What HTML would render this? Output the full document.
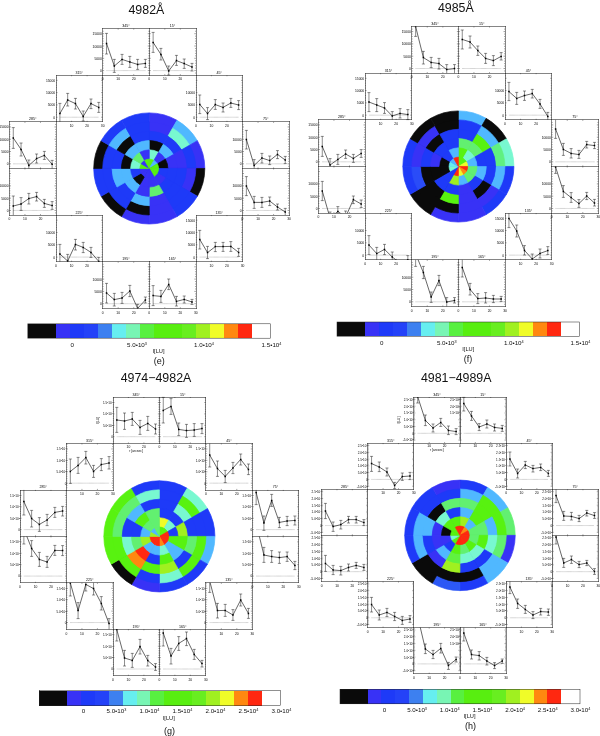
<!DOCTYPE html>
<html lang="en"><head><meta charset="utf-8"><title>Figure</title>
<style>
html,body{margin:0;padding:0;background:#fff}
body{width:600px;height:736px;overflow:hidden}
svg{display:block}
text{font-family:"Liberation Sans",sans-serif;fill:#111}
.bx{fill:none;stroke:#333;stroke-width:.6;stroke-linecap:square}
.tk{fill:none;stroke:#222;stroke-width:.45}
.zl{fill:none;stroke:#666;stroke-width:.45;stroke-dasharray:.6 .5}
.eb{fill:none;stroke:#111;stroke-width:.48}
.ln{fill:none;stroke:#000;stroke-width:.6;stroke-linejoin:round}
.mk{fill:#000}
.cbx{fill:none;stroke:#222;stroke-width:.5}
.ti{font-size:12.4px;text-anchor:middle}
.tg{font-size:9px;text-anchor:middle}
.bt{font-size:3.6px;text-anchor:middle;fill:#000}
.yl{font-size:3.3px;text-anchor:end;fill:#000}
.y2{font-size:3.05px}
.xl{font-size:3.3px;text-anchor:middle;fill:#000}
.cl{font-size:6.2px;text-anchor:middle}
.cu{font-size:5.7px;text-anchor:middle}
</style></head><body>
<svg width="600" height="736" viewBox="0 0 600 736">
<rect width="600" height="736" fill="#fff"/>
<g id="panel-e">
<g stroke-width="0.7" stroke-linejoin="round">
<path d="M149.26 168.46L149.26 112.91A55.55 55.55 0 0 1 177.03 120.35Z" fill="#3832f6" stroke="#3832f6"/>
<path d="M149.26 168.46L177.03 120.35A55.55 55.55 0 0 1 197.37 140.68Z" fill="#50b8ff" stroke="#50b8ff"/>
<path d="M149.26 168.46L197.37 140.68A55.55 55.55 0 0 1 204.81 168.46Z" fill="#3832f6" stroke="#3832f6"/>
<path d="M149.26 168.46L204.81 168.46A55.55 55.55 0 0 1 197.37 196.23Z" fill="#0a0a0a" stroke="#0a0a0a"/>
<path d="M149.26 168.46L197.37 196.23A55.55 55.55 0 0 1 177.03 216.57Z" fill="#1e3af8" stroke="#1e3af8"/>
<path d="M149.26 168.46L177.03 216.57A55.55 55.55 0 0 1 149.26 224.01Z" fill="#3832f6" stroke="#3832f6"/>
<path d="M149.26 168.46L149.26 224.01A55.55 55.55 0 0 1 121.48 216.57Z" fill="#3832f6" stroke="#3832f6"/>
<path d="M149.26 168.46L121.48 216.57A55.55 55.55 0 0 1 101.15 196.24Z" fill="#0a0a0a" stroke="#0a0a0a"/>
<path d="M149.26 168.46L101.15 196.24A55.55 55.55 0 0 1 93.71 168.46Z" fill="#1e3af8" stroke="#1e3af8"/>
<path d="M149.26 168.46L93.71 168.46A55.55 55.55 0 0 1 101.15 140.68Z" fill="#0a0a0a" stroke="#0a0a0a"/>
<path d="M149.26 168.46L101.15 140.68A55.55 55.55 0 0 1 121.48 120.35Z" fill="#1e3af8" stroke="#1e3af8"/>
<path d="M149.26 168.46L121.48 120.35A55.55 55.55 0 0 1 149.26 112.91Z" fill="#1e3af8" stroke="#1e3af8"/>
<path d="M149.26 168.46L149.26 121.92A46.54 46.54 0 0 1 172.53 128.15Z" fill="#3832f6" stroke="#3832f6"/>
<path d="M149.26 168.46L172.53 128.15A46.54 46.54 0 0 1 189.57 145.19Z" fill="#78f8d0" stroke="#78f8d0"/>
<path d="M149.26 168.46L189.57 145.19A46.54 46.54 0 0 1 195.8 168.46Z" fill="#1e3af8" stroke="#1e3af8"/>
<path d="M149.26 168.46L195.8 168.46A46.54 46.54 0 0 1 189.57 191.73Z" fill="#3832f6" stroke="#3832f6"/>
<path d="M149.26 168.46L189.57 191.73A46.54 46.54 0 0 1 172.53 208.77Z" fill="#1e3af8" stroke="#1e3af8"/>
<path d="M149.26 168.46L172.53 208.77A46.54 46.54 0 0 1 149.26 215Z" fill="#3832f6" stroke="#3832f6"/>
<path d="M149.26 168.46L149.26 215A46.54 46.54 0 0 1 125.99 208.77Z" fill="#0a0a0a" stroke="#0a0a0a"/>
<path d="M149.26 168.46L125.99 208.77A46.54 46.54 0 0 1 108.95 191.73Z" fill="#1e3af8" stroke="#1e3af8"/>
<path d="M149.26 168.46L108.95 191.73A46.54 46.54 0 0 1 102.72 168.46Z" fill="#1e3af8" stroke="#1e3af8"/>
<path d="M149.26 168.46L102.72 168.46A46.54 46.54 0 0 1 108.95 145.19Z" fill="#1e3af8" stroke="#1e3af8"/>
<path d="M149.26 168.46L108.95 145.19A46.54 46.54 0 0 1 125.99 128.15Z" fill="#50b8ff" stroke="#50b8ff"/>
<path d="M149.26 168.46L125.99 128.15A46.54 46.54 0 0 1 149.26 121.92Z" fill="#1e3af8" stroke="#1e3af8"/>
<path d="M149.26 168.46L149.26 131.23A37.23 37.23 0 0 1 167.88 136.21Z" fill="#1e3af8" stroke="#1e3af8"/>
<path d="M149.26 168.46L167.88 136.21A37.23 37.23 0 0 1 181.51 149.84Z" fill="#1e3af8" stroke="#1e3af8"/>
<path d="M149.26 168.46L181.51 149.84A37.23 37.23 0 0 1 186.49 168.46Z" fill="#3832f6" stroke="#3832f6"/>
<path d="M149.26 168.46L186.49 168.46A37.23 37.23 0 0 1 181.51 187.08Z" fill="#1e3af8" stroke="#1e3af8"/>
<path d="M149.26 168.46L181.51 187.08A37.23 37.23 0 0 1 167.88 200.71Z" fill="#1e3af8" stroke="#1e3af8"/>
<path d="M149.26 168.46L167.88 200.71A37.23 37.23 0 0 1 149.26 205.69Z" fill="#3832f6" stroke="#3832f6"/>
<path d="M149.26 168.46L149.26 205.69A37.23 37.23 0 0 1 130.64 200.71Z" fill="#50b8ff" stroke="#50b8ff"/>
<path d="M149.26 168.46L130.64 200.71A37.23 37.23 0 0 1 117.01 187.08Z" fill="#1e3af8" stroke="#1e3af8"/>
<path d="M149.26 168.46L117.01 187.08A37.23 37.23 0 0 1 112.03 168.46Z" fill="#50b8ff" stroke="#50b8ff"/>
<path d="M149.26 168.46L112.03 168.46A37.23 37.23 0 0 1 117.01 149.84Z" fill="#1e3af8" stroke="#1e3af8"/>
<path d="M149.26 168.46L117.01 149.84A37.23 37.23 0 0 1 130.64 136.21Z" fill="#0a0a0a" stroke="#0a0a0a"/>
<path d="M149.26 168.46L130.64 136.21A37.23 37.23 0 0 1 149.26 131.23Z" fill="#1e3af8" stroke="#1e3af8"/>
<path d="M149.26 168.46L149.26 140.53A27.93 27.93 0 0 1 163.22 144.28Z" fill="#0a0a0a" stroke="#0a0a0a"/>
<path d="M149.26 168.46L163.22 144.28A27.93 27.93 0 0 1 173.44 154.5Z" fill="#50b8ff" stroke="#50b8ff"/>
<path d="M149.26 168.46L173.44 154.5A27.93 27.93 0 0 1 177.19 168.46Z" fill="#3832f6" stroke="#3832f6"/>
<path d="M149.26 168.46L177.19 168.46A27.93 27.93 0 0 1 173.44 182.42Z" fill="#1e3af8" stroke="#1e3af8"/>
<path d="M149.26 168.46L173.44 182.42A27.93 27.93 0 0 1 163.22 192.64Z" fill="#1e3af8" stroke="#1e3af8"/>
<path d="M149.26 168.46L163.22 192.64A27.93 27.93 0 0 1 149.26 196.38Z" fill="#62f070" stroke="#62f070"/>
<path d="M149.26 168.46L149.26 196.38A27.93 27.93 0 0 1 135.3 192.64Z" fill="#3832f6" stroke="#3832f6"/>
<path d="M149.26 168.46L135.3 192.64A27.93 27.93 0 0 1 125.08 182.42Z" fill="#50b8ff" stroke="#50b8ff"/>
<path d="M149.26 168.46L125.08 182.42A27.93 27.93 0 0 1 121.33 168.46Z" fill="#50b8ff" stroke="#50b8ff"/>
<path d="M149.26 168.46L121.33 168.46A27.93 27.93 0 0 1 125.08 154.5Z" fill="#0a0a0a" stroke="#0a0a0a"/>
<path d="M149.26 168.46L125.08 154.5A27.93 27.93 0 0 1 135.3 144.28Z" fill="#50b8ff" stroke="#50b8ff"/>
<path d="M149.26 168.46L135.3 144.28A27.93 27.93 0 0 1 149.26 140.53Z" fill="#50b8ff" stroke="#50b8ff"/>
<path d="M149.26 168.46L149.26 149.84A18.62 18.62 0 0 1 158.57 152.34Z" fill="#78f8d0" stroke="#78f8d0"/>
<path d="M149.26 168.46L158.57 152.34A18.62 18.62 0 0 1 165.38 159.15Z" fill="#3832f6" stroke="#3832f6"/>
<path d="M149.26 168.46L165.38 159.15A18.62 18.62 0 0 1 167.88 168.46Z" fill="#0a0a0a" stroke="#0a0a0a"/>
<path d="M149.26 168.46L167.88 168.46A18.62 18.62 0 0 1 165.38 177.77Z" fill="#1e3af8" stroke="#1e3af8"/>
<path d="M149.26 168.46L165.38 177.77A18.62 18.62 0 0 1 158.57 184.58Z" fill="#3832f6" stroke="#3832f6"/>
<path d="M149.26 168.46L158.57 184.58A18.62 18.62 0 0 1 149.26 187.08Z" fill="#3832f6" stroke="#3832f6"/>
<path d="M149.26 168.46L149.26 187.08A18.62 18.62 0 0 1 139.95 184.58Z" fill="#3832f6" stroke="#3832f6"/>
<path d="M149.26 168.46L139.95 184.58A18.62 18.62 0 0 1 133.14 177.77Z" fill="#0a0a0a" stroke="#0a0a0a"/>
<path d="M149.26 168.46L133.14 177.77A18.62 18.62 0 0 1 130.64 168.46Z" fill="#1e3af8" stroke="#1e3af8"/>
<path d="M149.26 168.46L130.64 168.46A18.62 18.62 0 0 1 133.14 159.15Z" fill="#78f8d0" stroke="#78f8d0"/>
<path d="M149.26 168.46L133.14 159.15A18.62 18.62 0 0 1 139.95 152.34Z" fill="#62f070" stroke="#62f070"/>
<path d="M149.26 168.46L139.95 152.34A18.62 18.62 0 0 1 149.26 149.84Z" fill="#3832f6" stroke="#3832f6"/>
<path d="M149.26 168.46L149.26 159.15A9.31 9.31 0 0 1 153.91 160.4Z" fill="#58f210" stroke="#58f210"/>
<path d="M149.26 168.46L153.91 160.4A9.31 9.31 0 0 1 157.32 163.81Z" fill="#50b8ff" stroke="#50b8ff"/>
<path d="M149.26 168.46L157.32 163.81A9.31 9.31 0 0 1 158.57 168.46Z" fill="#58f210" stroke="#58f210"/>
<path d="M149.26 168.46L158.57 168.46A9.31 9.31 0 0 1 157.32 173.11Z" fill="#58f210" stroke="#58f210"/>
<path d="M149.26 168.46L157.32 173.11A9.31 9.31 0 0 1 153.91 176.52Z" fill="#58f210" stroke="#58f210"/>
<path d="M149.26 168.46L153.91 176.52A9.31 9.31 0 0 1 149.26 177.77Z" fill="#3832f6" stroke="#3832f6"/>
<path d="M149.26 168.46L149.26 177.77A9.31 9.31 0 0 1 144.61 176.52Z" fill="#3832f6" stroke="#3832f6"/>
<path d="M149.26 168.46L144.61 176.52A9.31 9.31 0 0 1 141.2 173.11Z" fill="#3832f6" stroke="#3832f6"/>
<path d="M149.26 168.46L141.2 173.11A9.31 9.31 0 0 1 139.95 168.46Z" fill="#3832f6" stroke="#3832f6"/>
<path d="M149.26 168.46L139.95 168.46A9.31 9.31 0 0 1 141.2 163.81Z" fill="#58f210" stroke="#58f210"/>
<path d="M149.26 168.46L141.2 163.81A9.31 9.31 0 0 1 144.61 160.4Z" fill="#3832f6" stroke="#3832f6"/>
<path d="M149.26 168.46L144.61 160.4A9.31 9.31 0 0 1 149.26 159.15Z" fill="#58f210" stroke="#58f210"/>
</g>
<path d="M102.5 215.5L102.5 261.5M102.5 261.5L102.5 308.5M102.5 261.5L149.5 261.5M102.5 28.5L102.5 75.5M102.5 28.5L149.5 28.5M102.5 308.5L149.5 308.5M102.5 75.5L102.5 121.5M102.5 75.5L149.5 75.5M149.5 261.5L149.5 308.5M149.5 261.5L196.5 261.5M149.5 28.5L149.5 75.5M149.5 28.5L196.5 28.5M149.5 308.5L196.5 308.5M149.5 75.5L196.5 75.5M196.5 121.5L242.5 121.5M196.5 215.5L196.5 261.5M196.5 215.5L242.5 215.5M196.5 261.5L196.5 308.5M196.5 261.5L242.5 261.5M196.5 28.5L196.5 75.5M196.5 75.5L196.5 121.5M196.5 75.5L242.5 75.5M242.5 121.5L242.5 168.5M242.5 121.5L289.5 121.5M242.5 168.5L242.5 215.5M242.5 168.5L289.5 168.5M242.5 215.5L242.5 261.5M242.5 215.5L289.5 215.5M242.5 75.5L242.5 121.5M289.5 121.5L289.5 168.5M289.5 168.5L289.5 215.5M56.5 121.5L102.5 121.5M56.5 121.5L56.5 168.5M56.5 168.5L56.5 215.5M56.5 215.5L102.5 215.5M56.5 215.5L56.5 261.5M56.5 261.5L102.5 261.5M56.5 75.5L102.5 75.5M56.5 75.5L56.5 121.5M9.5 121.5L56.5 121.5M9.5 121.5L9.5 168.5M9.5 168.5L56.5 168.5M9.5 168.5L9.5 215.5M9.5 215.5L56.5 215.5" class="bx"/>
<path d="M118.18 75.22v-1.0M118.18 28.6v1.0M133.72 75.22v-1.0M133.72 28.6v1.0M102.64 73.06h0.9M149.26 73.06h-0.9M102.64 70.6h1.5M149.26 70.6h-1.5M102.64 68.14h0.9M149.26 68.14h-0.9M102.64 65.68h0.9M149.26 65.68h-0.9M102.64 63.22h0.9M149.26 63.22h-0.9M102.64 60.76h0.9M149.26 60.76h-0.9M102.64 58.3h1.5M149.26 58.3h-1.5M102.64 55.84h0.9M149.26 55.84h-0.9M102.64 53.38h0.9M149.26 53.38h-0.9M102.64 50.92h0.9M149.26 50.92h-0.9M102.64 48.46h0.9M149.26 48.46h-0.9M102.64 46h1.5M149.26 46h-1.5M102.64 43.54h0.9M149.26 43.54h-0.9M102.64 41.08h0.9M149.26 41.08h-0.9M102.64 38.62h0.9M149.26 38.62h-0.9M102.64 36.16h0.9M149.26 36.16h-0.9M102.64 33.7h1.5M149.26 33.7h-1.5M102.64 31.24h0.9M149.26 31.24h-0.9" class="tk"/>
<path d="M106.53 70.6H145.38" class="zl"/>
<path d="M106.53 33.4V54M105.03 33.4h3M105.03 54h3M114.3 59.4V72.4M112.8 59.4h3M112.8 72.4h3M122.06 54.4V64.4M120.56 54.4h3M120.56 64.4h3M129.84 56.4V67.4M128.34 56.4h3M128.34 67.4h3M137.61 59.4V69.4M136.11 59.4h3M136.11 69.4h3M145.38 59.4V67.4M143.88 59.4h3M143.88 67.4h3" class="eb"/>
<clipPath id="ce345"><rect x="102.64" y="28.6" width="46.62" height="46.62"/></clipPath>
<g clip-path="url(#ce345)"><path d="M106.53 43.4L114.3 66L122.06 59.4L129.84 62L137.61 64.4L145.38 63.4" class="ln"/>
<path d="M105.78 42.65h1.5v1.5h-1.5zM113.55 65.25h1.5v1.5h-1.5zM121.31 58.65h1.5v1.5h-1.5zM129.09 61.25h1.5v1.5h-1.5zM136.86 63.65h1.5v1.5h-1.5zM144.62 62.65h1.5v1.5h-1.5z" class="mk"/></g>
<path d="M164.8 75.22v-1.0M164.8 28.6v1.0M180.34 75.22v-1.0M180.34 28.6v1.0M149.26 73.06h0.9M195.88 73.06h-0.9M149.26 70.6h1.5M195.88 70.6h-1.5M149.26 68.14h0.9M195.88 68.14h-0.9M149.26 65.68h0.9M195.88 65.68h-0.9M149.26 63.22h0.9M195.88 63.22h-0.9M149.26 60.76h0.9M195.88 60.76h-0.9M149.26 58.3h1.5M195.88 58.3h-1.5M149.26 55.84h0.9M195.88 55.84h-0.9M149.26 53.38h0.9M195.88 53.38h-0.9M149.26 50.92h0.9M195.88 50.92h-0.9M149.26 48.46h0.9M195.88 48.46h-0.9M149.26 46h1.5M195.88 46h-1.5M149.26 43.54h0.9M195.88 43.54h-0.9M149.26 41.08h0.9M195.88 41.08h-0.9M149.26 38.62h0.9M195.88 38.62h-0.9M149.26 36.16h0.9M195.88 36.16h-0.9M149.26 33.7h1.5M195.88 33.7h-1.5M149.26 31.24h0.9M195.88 31.24h-0.9" class="tk"/>
<path d="M153.14 70.6H192" class="zl"/>
<path d="M153.14 32.4V52.4M151.64 32.4h3M151.64 52.4h3M160.91 48.4V60M159.41 48.4h3M159.41 60h3M168.69 66V75M167.19 66h3M167.19 75h3M176.45 55.4V65.4M174.95 55.4h3M174.95 65.4h3M184.22 59V68.4M182.72 59h3M182.72 68.4h3M192 63.4V71M190.5 63.4h3M190.5 71h3" class="eb"/>
<clipPath id="ce15"><rect x="149.26" y="28.6" width="46.62" height="46.62"/></clipPath>
<g clip-path="url(#ce15)"><path d="M153.14 42.4L160.91 54.4L168.69 71L176.45 60.6L184.22 63.6L192 67" class="ln"/>
<path d="M152.39 41.65h1.5v1.5h-1.5zM160.16 53.65h1.5v1.5h-1.5zM167.94 70.25h1.5v1.5h-1.5zM175.7 59.85h1.5v1.5h-1.5zM183.47 62.85h1.5v1.5h-1.5zM191.25 66.25h1.5v1.5h-1.5z" class="mk"/></g>
<path d="M71.56 121.84v-1.0M71.56 75.22v1.0M87.1 121.84v-1.0M87.1 75.22v1.0M56.02 119.68h0.9M102.64 119.68h-0.9M56.02 117.22h1.5M102.64 117.22h-1.5M56.02 114.76h0.9M102.64 114.76h-0.9M56.02 112.3h0.9M102.64 112.3h-0.9M56.02 109.84h0.9M102.64 109.84h-0.9M56.02 107.38h0.9M102.64 107.38h-0.9M56.02 104.92h1.5M102.64 104.92h-1.5M56.02 102.46h0.9M102.64 102.46h-0.9M56.02 100h0.9M102.64 100h-0.9M56.02 97.54h0.9M102.64 97.54h-0.9M56.02 95.08h0.9M102.64 95.08h-0.9M56.02 92.62h1.5M102.64 92.62h-1.5M56.02 90.16h0.9M102.64 90.16h-0.9M56.02 87.7h0.9M102.64 87.7h-0.9M56.02 85.24h0.9M102.64 85.24h-0.9M56.02 82.78h0.9M102.64 82.78h-0.9M56.02 80.32h1.5M102.64 80.32h-1.5M56.02 77.86h0.9M102.64 77.86h-0.9" class="tk"/>
<path d="M59.9 117.22H98.75" class="zl"/>
<path d="M59.9 103.4V121.84M58.4 103.4h3M67.67 93.4V106M66.17 93.4h3M66.17 106h3M75.44 98.4V109M73.94 98.4h3M73.94 109h3M83.21 111V121M81.71 111h3M81.71 121h3M90.98 99V108.6M89.48 99h3M89.48 108.6h3M98.75 102.4V112.4M97.25 102.4h3M97.25 112.4h3" class="eb"/>
<clipPath id="ce315"><rect x="56.02" y="75.22" width="46.62" height="46.62"/></clipPath>
<g clip-path="url(#ce315)"><path d="M59.9 113.6L67.67 100L75.44 103.6L83.21 116.4L90.98 103.6L98.75 107.4" class="ln"/>
<path d="M59.15 112.85h1.5v1.5h-1.5zM66.92 99.25h1.5v1.5h-1.5zM74.69 102.85h1.5v1.5h-1.5zM82.46 115.65h1.5v1.5h-1.5zM90.23 102.85h1.5v1.5h-1.5zM98 106.65h1.5v1.5h-1.5z" class="mk"/></g>
<path d="M211.42 121.84v-1.0M211.42 75.22v1.0M226.96 121.84v-1.0M226.96 75.22v1.0M195.88 119.68h0.9M242.5 119.68h-0.9M195.88 117.22h1.5M242.5 117.22h-1.5M195.88 114.76h0.9M242.5 114.76h-0.9M195.88 112.3h0.9M242.5 112.3h-0.9M195.88 109.84h0.9M242.5 109.84h-0.9M195.88 107.38h0.9M242.5 107.38h-0.9M195.88 104.92h1.5M242.5 104.92h-1.5M195.88 102.46h0.9M242.5 102.46h-0.9M195.88 100h0.9M242.5 100h-0.9M195.88 97.54h0.9M242.5 97.54h-0.9M195.88 95.08h0.9M242.5 95.08h-0.9M195.88 92.62h1.5M242.5 92.62h-1.5M195.88 90.16h0.9M242.5 90.16h-0.9M195.88 87.7h0.9M242.5 87.7h-0.9M195.88 85.24h0.9M242.5 85.24h-0.9M195.88 82.78h0.9M242.5 82.78h-0.9M195.88 80.32h1.5M242.5 80.32h-1.5M195.88 77.86h0.9M242.5 77.86h-0.9" class="tk"/>
<path d="M199.76 117.22H238.62" class="zl"/>
<path d="M199.76 95V113.6M198.26 95h3M198.26 113.6h3M207.53 107.6V119.6M206.03 107.6h3M206.03 119.6h3M215.31 99.6V109.4M213.81 99.6h3M213.81 109.4h3M223.07 103V112M221.57 103h3M221.57 112h3M230.84 98.4V107.4M229.34 98.4h3M229.34 107.4h3M238.62 100.6V109.6M237.12 100.6h3M237.12 109.6h3" class="eb"/>
<clipPath id="ce45"><rect x="195.88" y="75.22" width="46.62" height="46.62"/></clipPath>
<g clip-path="url(#ce45)"><path d="M199.76 104.4L207.53 113.6L215.31 104.6L223.07 107.4L230.84 103L238.62 105" class="ln"/>
<path d="M199.01 103.65h1.5v1.5h-1.5zM206.78 112.85h1.5v1.5h-1.5zM214.56 103.85h1.5v1.5h-1.5zM222.32 106.65h1.5v1.5h-1.5zM230.09 102.25h1.5v1.5h-1.5zM237.87 104.25h1.5v1.5h-1.5z" class="mk"/></g>
<path d="M24.94 168.46v-1.0M24.94 121.84v1.0M40.48 168.46v-1.0M40.48 121.84v1.0M9.4 166.3h0.9M56.02 166.3h-0.9M9.4 163.84h1.5M56.02 163.84h-1.5M9.4 161.38h0.9M56.02 161.38h-0.9M9.4 158.92h0.9M56.02 158.92h-0.9M9.4 156.46h0.9M56.02 156.46h-0.9M9.4 154h0.9M56.02 154h-0.9M9.4 151.54h1.5M56.02 151.54h-1.5M9.4 149.08h0.9M56.02 149.08h-0.9M9.4 146.62h0.9M56.02 146.62h-0.9M9.4 144.16h0.9M56.02 144.16h-0.9M9.4 141.7h0.9M56.02 141.7h-0.9M9.4 139.24h1.5M56.02 139.24h-1.5M9.4 136.78h0.9M56.02 136.78h-0.9M9.4 134.32h0.9M56.02 134.32h-0.9M9.4 131.86h0.9M56.02 131.86h-0.9M9.4 129.4h0.9M56.02 129.4h-0.9M9.4 126.94h1.5M56.02 126.94h-1.5M9.4 124.48h0.9M56.02 124.48h-0.9" class="tk"/>
<path d="M13.29 163.84H52.13" class="zl"/>
<path d="M13.29 127.6V148.4M11.79 127.6h3M11.79 148.4h3M21.05 143V156M19.55 143h3M19.55 156h3M28.83 160V168.46M27.33 160h3M36.59 154V163M35.09 154h3M35.09 163h3M44.37 151.4V159.4M42.87 151.4h3M42.87 159.4h3M52.13 160.4V168.46M50.63 160.4h3" class="eb"/>
<clipPath id="ce285"><rect x="9.4" y="121.84" width="46.62" height="46.62"/></clipPath>
<g clip-path="url(#ce285)"><path d="M13.29 138L21.05 149.4L28.83 165.4L36.59 158.6L44.37 155.4L52.13 164.2" class="ln"/>
<path d="M12.54 137.25h1.5v1.5h-1.5zM20.3 148.65h1.5v1.5h-1.5zM28.08 164.65h1.5v1.5h-1.5zM35.84 157.85h1.5v1.5h-1.5zM43.62 154.65h1.5v1.5h-1.5zM51.38 163.45h1.5v1.5h-1.5z" class="mk"/></g>
<path d="M258.04 168.46v-1.0M258.04 121.84v1.0M273.58 168.46v-1.0M273.58 121.84v1.0M242.5 166.3h0.9M289.12 166.3h-0.9M242.5 163.84h1.5M289.12 163.84h-1.5M242.5 161.38h0.9M289.12 161.38h-0.9M242.5 158.92h0.9M289.12 158.92h-0.9M242.5 156.46h0.9M289.12 156.46h-0.9M242.5 154h0.9M289.12 154h-0.9M242.5 151.54h1.5M289.12 151.54h-1.5M242.5 149.08h0.9M289.12 149.08h-0.9M242.5 146.62h0.9M289.12 146.62h-0.9M242.5 144.16h0.9M289.12 144.16h-0.9M242.5 141.7h0.9M289.12 141.7h-0.9M242.5 139.24h1.5M289.12 139.24h-1.5M242.5 136.78h0.9M289.12 136.78h-0.9M242.5 134.32h0.9M289.12 134.32h-0.9M242.5 131.86h0.9M289.12 131.86h-0.9M242.5 129.4h0.9M289.12 129.4h-0.9M242.5 126.94h1.5M289.12 126.94h-1.5M242.5 124.48h0.9M289.12 124.48h-0.9" class="tk"/>
<path d="M246.38 163.84H285.24" class="zl"/>
<path d="M246.38 130.4V149M244.88 130.4h3M244.88 149h3M254.16 159.6V168.46M252.66 159.6h3M261.93 153.4V163M260.43 153.4h3M260.43 163h3M269.69 156V164.6M268.19 156h3M268.19 164.6h3M277.47 150.6V158.6M275.97 150.6h3M275.97 158.6h3M285.24 156.4V163.6M283.74 156.4h3M283.74 163.6h3" class="eb"/>
<clipPath id="ce75"><rect x="242.5" y="121.84" width="46.62" height="46.62"/></clipPath>
<g clip-path="url(#ce75)"><path d="M246.38 139.4L254.16 165.4L261.93 158L269.69 160.6L277.47 154.4L285.24 160" class="ln"/>
<path d="M245.63 138.65h1.5v1.5h-1.5zM253.41 164.65h1.5v1.5h-1.5zM261.18 157.25h1.5v1.5h-1.5zM268.94 159.85h1.5v1.5h-1.5zM276.72 153.65h1.5v1.5h-1.5zM284.49 159.25h1.5v1.5h-1.5z" class="mk"/></g>
<path d="M24.94 215.08v-1.0M24.94 168.46v1.0M40.48 215.08v-1.0M40.48 168.46v1.0M9.4 212.92h0.9M56.02 212.92h-0.9M9.4 210.46h1.5M56.02 210.46h-1.5M9.4 208h0.9M56.02 208h-0.9M9.4 205.54h0.9M56.02 205.54h-0.9M9.4 203.08h0.9M56.02 203.08h-0.9M9.4 200.62h0.9M56.02 200.62h-0.9M9.4 198.16h1.5M56.02 198.16h-1.5M9.4 195.7h0.9M56.02 195.7h-0.9M9.4 193.24h0.9M56.02 193.24h-0.9M9.4 190.78h0.9M56.02 190.78h-0.9M9.4 188.32h0.9M56.02 188.32h-0.9M9.4 185.86h1.5M56.02 185.86h-1.5M9.4 183.4h0.9M56.02 183.4h-0.9M9.4 180.94h0.9M56.02 180.94h-0.9M9.4 178.48h0.9M56.02 178.48h-0.9M9.4 176.02h0.9M56.02 176.02h-0.9M9.4 173.56h1.5M56.02 173.56h-1.5M9.4 171.1h0.9M56.02 171.1h-0.9" class="tk"/>
<path d="M13.29 210.46H52.13" class="zl"/>
<path d="M13.29 196V215.08M11.79 196h3M21.05 197.6V210.4M19.55 197.6h3M19.55 210.4h3M28.83 193.4V204M27.33 193.4h3M27.33 204h3M36.59 192.4V201M35.09 192.4h3M35.09 201h3M44.37 199.4V207.4M42.87 199.4h3M42.87 207.4h3M52.13 201.6V209.4M50.63 201.6h3M50.63 209.4h3" class="eb"/>
<clipPath id="ce255"><rect x="9.4" y="168.46" width="46.62" height="46.62"/></clipPath>
<g clip-path="url(#ce255)"><path d="M13.29 206L21.05 204L28.83 198.6L36.59 196.6L44.37 203.4L52.13 205.6" class="ln"/>
<path d="M12.54 205.25h1.5v1.5h-1.5zM20.3 203.25h1.5v1.5h-1.5zM28.08 197.85h1.5v1.5h-1.5zM35.84 195.85h1.5v1.5h-1.5zM43.62 202.65h1.5v1.5h-1.5zM51.38 204.85h1.5v1.5h-1.5z" class="mk"/></g>
<path d="M258.04 215.08v-1.0M258.04 168.46v1.0M273.58 215.08v-1.0M273.58 168.46v1.0M242.5 212.92h0.9M289.12 212.92h-0.9M242.5 210.46h1.5M289.12 210.46h-1.5M242.5 208h0.9M289.12 208h-0.9M242.5 205.54h0.9M289.12 205.54h-0.9M242.5 203.08h0.9M289.12 203.08h-0.9M242.5 200.62h0.9M289.12 200.62h-0.9M242.5 198.16h1.5M289.12 198.16h-1.5M242.5 195.7h0.9M289.12 195.7h-0.9M242.5 193.24h0.9M289.12 193.24h-0.9M242.5 190.78h0.9M289.12 190.78h-0.9M242.5 188.32h0.9M289.12 188.32h-0.9M242.5 185.86h1.5M289.12 185.86h-1.5M242.5 183.4h0.9M289.12 183.4h-0.9M242.5 180.94h0.9M289.12 180.94h-0.9M242.5 178.48h0.9M289.12 178.48h-0.9M242.5 176.02h0.9M289.12 176.02h-0.9M242.5 173.56h1.5M289.12 173.56h-1.5M242.5 171.1h0.9M289.12 171.1h-0.9" class="tk"/>
<path d="M246.38 210.46H285.24" class="zl"/>
<path d="M246.38 176.6V195.6M244.88 176.6h3M244.88 195.6h3M254.16 196.4V208.4M252.66 196.4h3M252.66 208.4h3M261.93 197.4V207.4M260.43 197.4h3M260.43 207.4h3M269.69 197V205.6M268.19 197h3M268.19 205.6h3M277.47 204V210M275.97 204h3M275.97 210h3M285.24 208.4V215.08M283.74 208.4h3" class="eb"/>
<clipPath id="ce105"><rect x="242.5" y="168.46" width="46.62" height="46.62"/></clipPath>
<g clip-path="url(#ce105)"><path d="M246.38 186L254.16 202.4L261.93 202.4L269.69 201L277.47 207L285.24 212" class="ln"/>
<path d="M245.63 185.25h1.5v1.5h-1.5zM253.41 201.65h1.5v1.5h-1.5zM261.18 201.65h1.5v1.5h-1.5zM268.94 200.25h1.5v1.5h-1.5zM276.72 206.25h1.5v1.5h-1.5zM284.49 211.25h1.5v1.5h-1.5z" class="mk"/></g>
<path d="M71.56 261.7v-1.0M71.56 215.08v1.0M87.1 261.7v-1.0M87.1 215.08v1.0M56.02 259.54h0.9M102.64 259.54h-0.9M56.02 257.08h1.5M102.64 257.08h-1.5M56.02 254.62h0.9M102.64 254.62h-0.9M56.02 252.16h0.9M102.64 252.16h-0.9M56.02 249.7h0.9M102.64 249.7h-0.9M56.02 247.24h0.9M102.64 247.24h-0.9M56.02 244.78h1.5M102.64 244.78h-1.5M56.02 242.32h0.9M102.64 242.32h-0.9M56.02 239.86h0.9M102.64 239.86h-0.9M56.02 237.4h0.9M102.64 237.4h-0.9M56.02 234.94h0.9M102.64 234.94h-0.9M56.02 232.48h1.5M102.64 232.48h-1.5M56.02 230.02h0.9M102.64 230.02h-0.9M56.02 227.56h0.9M102.64 227.56h-0.9M56.02 225.1h0.9M102.64 225.1h-0.9M56.02 222.64h0.9M102.64 222.64h-0.9M56.02 220.18h1.5M102.64 220.18h-1.5M56.02 217.72h0.9M102.64 217.72h-0.9" class="tk"/>
<path d="M59.9 257.08H98.75" class="zl"/>
<path d="M59.9 244.4V261.7M58.4 244.4h3M67.67 254.4V261.7M66.17 254.4h3M75.44 239.4V250M73.94 239.4h3M73.94 250h3M83.21 242.4V252.6M81.71 242.4h3M81.71 252.6h3M90.98 247.4V257.4M89.48 247.4h3M89.48 257.4h3M98.75 257.4V261.7M97.25 257.4h3" class="eb"/>
<clipPath id="ce225"><rect x="56.02" y="215.08" width="46.62" height="46.62"/></clipPath>
<g clip-path="url(#ce225)"><path d="M59.9 254L67.67 261L75.44 244.4L83.21 247.4L90.98 252.4L98.75 261.4" class="ln"/>
<path d="M59.15 253.25h1.5v1.5h-1.5zM66.92 260.25h1.5v1.5h-1.5zM74.69 243.65h1.5v1.5h-1.5zM82.46 246.65h1.5v1.5h-1.5zM90.23 251.65h1.5v1.5h-1.5zM98 260.65h1.5v1.5h-1.5z" class="mk"/></g>
<path d="M211.42 261.7v-1.0M211.42 215.08v1.0M226.96 261.7v-1.0M226.96 215.08v1.0M195.88 259.54h0.9M242.5 259.54h-0.9M195.88 257.08h1.5M242.5 257.08h-1.5M195.88 254.62h0.9M242.5 254.62h-0.9M195.88 252.16h0.9M242.5 252.16h-0.9M195.88 249.7h0.9M242.5 249.7h-0.9M195.88 247.24h0.9M242.5 247.24h-0.9M195.88 244.78h1.5M242.5 244.78h-1.5M195.88 242.32h0.9M242.5 242.32h-0.9M195.88 239.86h0.9M242.5 239.86h-0.9M195.88 237.4h0.9M242.5 237.4h-0.9M195.88 234.94h0.9M242.5 234.94h-0.9M195.88 232.48h1.5M242.5 232.48h-1.5M195.88 230.02h0.9M242.5 230.02h-0.9M195.88 227.56h0.9M242.5 227.56h-0.9M195.88 225.1h0.9M242.5 225.1h-0.9M195.88 222.64h0.9M242.5 222.64h-0.9M195.88 220.18h1.5M242.5 220.18h-1.5M195.88 217.72h0.9M242.5 217.72h-0.9" class="tk"/>
<path d="M199.76 257.08H238.62" class="zl"/>
<path d="M199.76 230.4V249M198.26 230.4h3M198.26 249h3M207.53 246.4V258.6M206.03 246.4h3M206.03 258.6h3M215.31 242.4V251.6M213.81 242.4h3M213.81 251.6h3M223.07 242.4V251.4M221.57 242.4h3M221.57 251.4h3M230.84 241.6V251.4M229.34 241.6h3M229.34 251.4h3M238.62 248.4V256.4M237.12 248.4h3M237.12 256.4h3" class="eb"/>
<clipPath id="ce135"><rect x="195.88" y="215.08" width="46.62" height="46.62"/></clipPath>
<g clip-path="url(#ce135)"><path d="M199.76 239.4L207.53 252.6L215.31 246.6L223.07 246.6L230.84 246.4L238.62 252.4" class="ln"/>
<path d="M199.01 238.65h1.5v1.5h-1.5zM206.78 251.85h1.5v1.5h-1.5zM214.56 245.85h1.5v1.5h-1.5zM222.32 245.85h1.5v1.5h-1.5zM230.09 245.65h1.5v1.5h-1.5zM237.87 251.65h1.5v1.5h-1.5z" class="mk"/></g>
<path d="M118.18 308.32v-1.0M118.18 261.7v1.0M133.72 308.32v-1.0M133.72 261.7v1.0M102.64 306.16h0.9M149.26 306.16h-0.9M102.64 303.7h1.5M149.26 303.7h-1.5M102.64 301.24h0.9M149.26 301.24h-0.9M102.64 298.78h0.9M149.26 298.78h-0.9M102.64 296.32h0.9M149.26 296.32h-0.9M102.64 293.86h0.9M149.26 293.86h-0.9M102.64 291.4h1.5M149.26 291.4h-1.5M102.64 288.94h0.9M149.26 288.94h-0.9M102.64 286.48h0.9M149.26 286.48h-0.9M102.64 284.02h0.9M149.26 284.02h-0.9M102.64 281.56h0.9M149.26 281.56h-0.9M102.64 279.1h1.5M149.26 279.1h-1.5M102.64 276.64h0.9M149.26 276.64h-0.9M102.64 274.18h0.9M149.26 274.18h-0.9M102.64 271.72h0.9M149.26 271.72h-0.9M102.64 269.26h0.9M149.26 269.26h-0.9M102.64 266.8h1.5M149.26 266.8h-1.5M102.64 264.34h0.9M149.26 264.34h-0.9" class="tk"/>
<path d="M106.53 303.7H145.38" class="zl"/>
<path d="M106.53 283.4V303M105.03 283.4h3M105.03 303h3M114.3 293.4V306M112.8 293.4h3M112.8 306h3M122.06 292.4V303.4M120.56 292.4h3M120.56 303.4h3M129.84 285.4V296.6M128.34 285.4h3M128.34 296.6h3M137.61 304.4V308.32M136.11 304.4h3M145.38 297V303M143.88 297h3M143.88 303h3" class="eb"/>
<clipPath id="ce195"><rect x="102.64" y="261.7" width="46.62" height="46.62"/></clipPath>
<g clip-path="url(#ce195)"><path d="M106.53 293L114.3 299.6L122.06 298L129.84 291L137.61 308.4L145.38 300" class="ln"/>
<path d="M105.78 292.25h1.5v1.5h-1.5zM113.55 298.85h1.5v1.5h-1.5zM121.31 297.25h1.5v1.5h-1.5zM129.09 290.25h1.5v1.5h-1.5zM136.86 307.65h1.5v1.5h-1.5zM144.62 299.25h1.5v1.5h-1.5z" class="mk"/></g>
<path d="M164.8 308.32v-1.0M164.8 261.7v1.0M180.34 308.32v-1.0M180.34 261.7v1.0M149.26 306.16h0.9M195.88 306.16h-0.9M149.26 303.7h1.5M195.88 303.7h-1.5M149.26 301.24h0.9M195.88 301.24h-0.9M149.26 298.78h0.9M195.88 298.78h-0.9M149.26 296.32h0.9M195.88 296.32h-0.9M149.26 293.86h0.9M195.88 293.86h-0.9M149.26 291.4h1.5M195.88 291.4h-1.5M149.26 288.94h0.9M195.88 288.94h-0.9M149.26 286.48h0.9M195.88 286.48h-0.9M149.26 284.02h0.9M195.88 284.02h-0.9M149.26 281.56h0.9M195.88 281.56h-0.9M149.26 279.1h1.5M195.88 279.1h-1.5M149.26 276.64h0.9M195.88 276.64h-0.9M149.26 274.18h0.9M195.88 274.18h-0.9M149.26 271.72h0.9M195.88 271.72h-0.9M149.26 269.26h0.9M195.88 269.26h-0.9M149.26 266.8h1.5M195.88 266.8h-1.5M149.26 264.34h0.9M195.88 264.34h-0.9" class="tk"/>
<path d="M153.14 303.7H192" class="zl"/>
<path d="M153.14 285.6V305.6M151.64 285.6h3M151.64 305.6h3M160.91 290.4V302.4M159.41 290.4h3M159.41 302.4h3M168.69 279V289.6M167.19 279h3M167.19 289.6h3M176.45 296.4V306M174.95 296.4h3M174.95 306h3M184.22 296V303M182.72 296h3M182.72 303h3M192 299.4V304.4M190.5 299.4h3M190.5 304.4h3" class="eb"/>
<clipPath id="ce165"><rect x="149.26" y="261.7" width="46.62" height="46.62"/></clipPath>
<g clip-path="url(#ce165)"><path d="M153.14 295.6L160.91 296.4L168.69 284.4L176.45 301.4L184.22 299.4L192 302" class="ln"/>
<path d="M152.39 294.85h1.5v1.5h-1.5zM160.16 295.65h1.5v1.5h-1.5zM167.94 283.65h1.5v1.5h-1.5zM175.7 300.65h1.5v1.5h-1.5zM183.47 298.65h1.5v1.5h-1.5zM191.25 301.25h1.5v1.5h-1.5z" class="mk"/></g>
<text x="125.95" y="27.1" class="bt">345°</text>
<text x="101.74" y="35.2" class="yl">15000</text>
<text x="101.74" y="47.5" class="yl">10000</text>
<text x="101.74" y="59.8" class="yl">5000</text>
<text x="101.74" y="72.1" class="yl">0</text>
<text x="102.64" y="80.42" class="xl">0</text>
<text x="118.18" y="80.42" class="xl">10</text>
<text x="133.72" y="80.42" class="xl">20</text>
<text x="172.57" y="27.1" class="bt">15°</text>
<text x="149.26" y="80.42" class="xl">0</text>
<text x="164.8" y="80.42" class="xl">10</text>
<text x="180.34" y="80.42" class="xl">20</text>
<text x="79.33" y="73.72" class="bt">315°</text>
<text x="55.12" y="81.82" class="yl">15000</text>
<text x="55.12" y="94.12" class="yl">10000</text>
<text x="55.12" y="106.42" class="yl">5000</text>
<text x="55.12" y="118.72" class="yl">0</text>
<text x="71.56" y="127.04" class="xl">10</text>
<text x="87.1" y="127.04" class="xl">20</text>
<text x="102.64" y="127.04" class="xl">30</text>
<text x="219.19" y="73.72" class="bt">45°</text>
<text x="194.98" y="94.12" class="yl">10000</text>
<text x="194.98" y="106.42" class="yl">5000</text>
<text x="194.98" y="118.72" class="yl">0</text>
<text x="195.88" y="127.04" class="xl">0</text>
<text x="211.42" y="127.04" class="xl">10</text>
<text x="226.96" y="127.04" class="xl">20</text>
<text x="32.71" y="120.34" class="bt">285°</text>
<text x="8.5" y="128.44" class="yl">15000</text>
<text x="8.5" y="140.74" class="yl">10000</text>
<text x="8.5" y="153.04" class="yl">5000</text>
<text x="8.5" y="165.34" class="yl">0</text>
<text x="265.81" y="120.34" class="bt">75°</text>
<text x="241.6" y="140.74" class="yl">10000</text>
<text x="241.6" y="153.04" class="yl">5000</text>
<text x="241.6" y="165.34" class="yl">0</text>
<text x="8.5" y="187.36" class="yl">10000</text>
<text x="8.5" y="199.66" class="yl">5000</text>
<text x="8.5" y="211.96" class="yl">0</text>
<text x="9.4" y="220.28" class="xl">0</text>
<text x="24.94" y="220.28" class="xl">10</text>
<text x="40.48" y="220.28" class="xl">20</text>
<text x="241.6" y="187.36" class="yl">10000</text>
<text x="241.6" y="199.66" class="yl">5000</text>
<text x="241.6" y="211.96" class="yl">0</text>
<text x="242.5" y="220.28" class="xl">0</text>
<text x="258.04" y="220.28" class="xl">10</text>
<text x="273.58" y="220.28" class="xl">20</text>
<text x="289.12" y="220.28" class="xl">30</text>
<text x="79.33" y="213.58" class="bt">225°</text>
<text x="55.12" y="233.98" class="yl">10000</text>
<text x="55.12" y="246.28" class="yl">5000</text>
<text x="55.12" y="258.58" class="yl">0</text>
<text x="56.02" y="266.9" class="xl">0</text>
<text x="71.56" y="266.9" class="xl">10</text>
<text x="87.1" y="266.9" class="xl">20</text>
<text x="219.19" y="213.58" class="bt">135°</text>
<text x="194.98" y="221.68" class="yl">15000</text>
<text x="194.98" y="233.98" class="yl">10000</text>
<text x="194.98" y="246.28" class="yl">5000</text>
<text x="194.98" y="258.58" class="yl">0</text>
<text x="211.42" y="266.9" class="xl">10</text>
<text x="226.96" y="266.9" class="xl">20</text>
<text x="242.5" y="266.9" class="xl">30</text>
<text x="125.95" y="260.2" class="bt">195°</text>
<text x="101.74" y="280.6" class="yl">10000</text>
<text x="101.74" y="292.9" class="yl">5000</text>
<text x="101.74" y="305.2" class="yl">0</text>
<text x="102.64" y="313.52" class="xl">0</text>
<text x="118.18" y="313.52" class="xl">10</text>
<text x="133.72" y="313.52" class="xl">20</text>
<text x="172.57" y="260.2" class="bt">165°</text>
<text x="149.26" y="313.52" class="xl">0</text>
<text x="164.8" y="313.52" class="xl">10</text>
<text x="180.34" y="313.52" class="xl">20</text>
<text x="195.88" y="313.52" class="xl">30</text>
<rect x="27.75" y="323.8" width="14.3" height="14.4" fill="#0a0a0a" shape-rendering="crispEdges"/>
<rect x="41.75" y="323.8" width="14.3" height="14.4" fill="#0a0a0a" shape-rendering="crispEdges"/>
<rect x="55.75" y="323.8" width="14.3" height="14.4" fill="#3832f6" shape-rendering="crispEdges"/>
<rect x="69.75" y="323.8" width="14.3" height="14.4" fill="#1e3af8" shape-rendering="crispEdges"/>
<rect x="83.75" y="323.8" width="14.3" height="14.4" fill="#2442f8" shape-rendering="crispEdges"/>
<rect x="97.75" y="323.8" width="14.3" height="14.4" fill="#3d80f0" shape-rendering="crispEdges"/>
<rect x="111.75" y="323.8" width="14.3" height="14.4" fill="#66eef0" shape-rendering="crispEdges"/>
<rect x="125.75" y="323.8" width="14.3" height="14.4" fill="#78f5b4" shape-rendering="crispEdges"/>
<rect x="139.75" y="323.8" width="14.3" height="14.4" fill="#58f040" shape-rendering="crispEdges"/>
<rect x="153.75" y="323.8" width="14.3" height="14.4" fill="#58ee10" shape-rendering="crispEdges"/>
<rect x="167.75" y="323.8" width="14.3" height="14.4" fill="#58ee10" shape-rendering="crispEdges"/>
<rect x="181.75" y="323.8" width="14.3" height="14.4" fill="#68ee20" shape-rendering="crispEdges"/>
<rect x="195.75" y="323.8" width="14.3" height="14.4" fill="#a0f020" shape-rendering="crispEdges"/>
<rect x="209.75" y="323.8" width="14.3" height="14.4" fill="#f0fc28" shape-rendering="crispEdges"/>
<rect x="223.75" y="323.8" width="14.3" height="14.4" fill="#ff8810" shape-rendering="crispEdges"/>
<rect x="237.75" y="323.8" width="14.3" height="14.4" fill="#ff2810" shape-rendering="crispEdges"/>
<rect x="251.75" y="323.8" width="19.05" height="14.4" fill="#ffffff" shape-rendering="crispEdges"/>
<rect x="27.75" y="323.8" width="242.75" height="14.4" class="cbx"/>
<text x="72.3" y="346.6" class="cl">0</text>
<text x="137" y="346.6" class="cl">5.0•10<tspan dy="-1.9" font-size="3.8">3</tspan></text>
<text x="204" y="346.6" class="cl">1.0•10<tspan dy="-1.9" font-size="3.8">4</tspan></text>
<text x="271.5" y="346.6" class="cl">1.5•10<tspan dy="-1.9" font-size="3.8">4</tspan></text>
<text x="158.5" y="353.2" class="cu">I[LU]</text>
<text x="146.4" y="13.7" class="ti">4982Å</text>
<text x="159.3" y="363.6" class="tg">(e)</text>
</g>
<g id="panel-f">
<g stroke-width="0.7" stroke-linejoin="round">
<path d="M458.38 166.48L458.38 110.93A55.55 55.55 0 0 1 486.15 118.37Z" fill="#50b8ff" stroke="#50b8ff"/>
<path d="M458.38 166.48L486.15 118.37A55.55 55.55 0 0 1 506.49 138.7Z" fill="#0a0a0a" stroke="#0a0a0a"/>
<path d="M458.38 166.48L506.49 138.7A55.55 55.55 0 0 1 513.93 166.48Z" fill="#78f8d0" stroke="#78f8d0"/>
<path d="M458.38 166.48L513.93 166.48A55.55 55.55 0 0 1 506.49 194.25Z" fill="#1e3af8" stroke="#1e3af8"/>
<path d="M458.38 166.48L506.49 194.25A55.55 55.55 0 0 1 486.15 214.59Z" fill="#1e3af8" stroke="#1e3af8"/>
<path d="M458.38 166.48L486.15 214.59A55.55 55.55 0 0 1 458.38 222.03Z" fill="#3832f6" stroke="#3832f6"/>
<path d="M458.38 166.48L458.38 222.03A55.55 55.55 0 0 1 430.6 214.59Z" fill="#3832f6" stroke="#3832f6"/>
<path d="M458.38 166.48L430.6 214.59A55.55 55.55 0 0 1 410.27 194.26Z" fill="#0a0a0a" stroke="#0a0a0a"/>
<path d="M458.38 166.48L410.27 194.26A55.55 55.55 0 0 1 402.83 166.48Z" fill="#1e3af8" stroke="#1e3af8"/>
<path d="M458.38 166.48L402.83 166.48A55.55 55.55 0 0 1 410.27 138.7Z" fill="#1e3af8" stroke="#1e3af8"/>
<path d="M458.38 166.48L410.27 138.7A55.55 55.55 0 0 1 430.6 118.37Z" fill="#0a0a0a" stroke="#0a0a0a"/>
<path d="M458.38 166.48L430.6 118.37A55.55 55.55 0 0 1 458.38 110.93Z" fill="#0a0a0a" stroke="#0a0a0a"/>
<path d="M458.38 166.48L458.38 119.94A46.54 46.54 0 0 1 481.65 126.17Z" fill="#1e3af8" stroke="#1e3af8"/>
<path d="M458.38 166.48L481.65 126.17A46.54 46.54 0 0 1 498.69 143.21Z" fill="#50b8ff" stroke="#50b8ff"/>
<path d="M458.38 166.48L498.69 143.21A46.54 46.54 0 0 1 504.92 166.48Z" fill="#60f080" stroke="#60f080"/>
<path d="M458.38 166.48L504.92 166.48A46.54 46.54 0 0 1 498.69 189.75Z" fill="#50b8ff" stroke="#50b8ff"/>
<path d="M458.38 166.48L498.69 189.75A46.54 46.54 0 0 1 481.65 206.79Z" fill="#3832f6" stroke="#3832f6"/>
<path d="M458.38 166.48L481.65 206.79A46.54 46.54 0 0 1 458.38 213.02Z" fill="#3832f6" stroke="#3832f6"/>
<path d="M458.38 166.48L458.38 213.02A46.54 46.54 0 0 1 435.11 206.79Z" fill="#0a0a0a" stroke="#0a0a0a"/>
<path d="M458.38 166.48L435.11 206.79A46.54 46.54 0 0 1 418.07 189.75Z" fill="#0a0a0a" stroke="#0a0a0a"/>
<path d="M458.38 166.48L418.07 189.75A46.54 46.54 0 0 1 411.84 166.48Z" fill="#2a4cf8" stroke="#2a4cf8"/>
<path d="M458.38 166.48L411.84 166.48A46.54 46.54 0 0 1 418.07 143.21Z" fill="#3832f6" stroke="#3832f6"/>
<path d="M458.38 166.48L418.07 143.21A46.54 46.54 0 0 1 435.11 126.17Z" fill="#3832f6" stroke="#3832f6"/>
<path d="M458.38 166.48L435.11 126.17A46.54 46.54 0 0 1 458.38 119.94Z" fill="#0a0a0a" stroke="#0a0a0a"/>
<path d="M458.38 166.48L458.38 129.25A37.23 37.23 0 0 1 477 134.23Z" fill="#1e3af8" stroke="#1e3af8"/>
<path d="M458.38 166.48L477 134.23A37.23 37.23 0 0 1 490.63 147.86Z" fill="#58f210" stroke="#58f210"/>
<path d="M458.38 166.48L490.63 147.86A37.23 37.23 0 0 1 495.61 166.48Z" fill="#1e3af8" stroke="#1e3af8"/>
<path d="M458.38 166.48L495.61 166.48A37.23 37.23 0 0 1 490.63 185.1Z" fill="#1e3af8" stroke="#1e3af8"/>
<path d="M458.38 166.48L490.63 185.1A37.23 37.23 0 0 1 477 198.73Z" fill="#0a0a0a" stroke="#0a0a0a"/>
<path d="M458.38 166.48L477 198.73A37.23 37.23 0 0 1 458.38 203.71Z" fill="#3832f6" stroke="#3832f6"/>
<path d="M458.38 166.48L458.38 203.71A37.23 37.23 0 0 1 439.76 198.73Z" fill="#58f210" stroke="#58f210"/>
<path d="M458.38 166.48L439.76 198.73A37.23 37.23 0 0 1 426.13 185.1Z" fill="#0a0a0a" stroke="#0a0a0a"/>
<path d="M458.38 166.48L426.13 185.1A37.23 37.23 0 0 1 421.15 166.48Z" fill="#0a0a0a" stroke="#0a0a0a"/>
<path d="M458.38 166.48L421.15 166.48A37.23 37.23 0 0 1 426.13 147.86Z" fill="#1e3af8" stroke="#1e3af8"/>
<path d="M458.38 166.48L426.13 147.86A37.23 37.23 0 0 1 439.76 134.23Z" fill="#0a0a0a" stroke="#0a0a0a"/>
<path d="M458.38 166.48L439.76 134.23A37.23 37.23 0 0 1 458.38 129.25Z" fill="#1e3af8" stroke="#1e3af8"/>
<path d="M458.38 166.48L458.38 138.55A27.93 27.93 0 0 1 472.34 142.3Z" fill="#62f070" stroke="#62f070"/>
<path d="M458.38 166.48L472.34 142.3A27.93 27.93 0 0 1 482.56 152.52Z" fill="#62f070" stroke="#62f070"/>
<path d="M458.38 166.48L482.56 152.52A27.93 27.93 0 0 1 486.31 166.48Z" fill="#1e3af8" stroke="#1e3af8"/>
<path d="M458.38 166.48L486.31 166.48A27.93 27.93 0 0 1 482.56 180.44Z" fill="#50b8ff" stroke="#50b8ff"/>
<path d="M458.38 166.48L482.56 180.44A27.93 27.93 0 0 1 472.34 190.66Z" fill="#1e3af8" stroke="#1e3af8"/>
<path d="M458.38 166.48L472.34 190.66A27.93 27.93 0 0 1 458.38 194.41Z" fill="#3832f6" stroke="#3832f6"/>
<path d="M458.38 166.48L458.38 194.41A27.93 27.93 0 0 1 444.42 190.66Z" fill="#1e3af8" stroke="#1e3af8"/>
<path d="M458.38 166.48L444.42 190.66A27.93 27.93 0 0 1 434.2 180.44Z" fill="#1e3af8" stroke="#1e3af8"/>
<path d="M458.38 166.48L434.2 180.44A27.93 27.93 0 0 1 430.45 166.48Z" fill="#0a0a0a" stroke="#0a0a0a"/>
<path d="M458.38 166.48L430.45 166.48A27.93 27.93 0 0 1 434.2 152.52Z" fill="#3832f6" stroke="#3832f6"/>
<path d="M458.38 166.48L434.2 152.52A27.93 27.93 0 0 1 444.42 142.3Z" fill="#1e3af8" stroke="#1e3af8"/>
<path d="M458.38 166.48L444.42 142.3A27.93 27.93 0 0 1 458.38 138.55Z" fill="#1e3af8" stroke="#1e3af8"/>
<path d="M458.38 166.48L458.38 147.86A18.62 18.62 0 0 1 467.69 150.36Z" fill="#58f210" stroke="#58f210"/>
<path d="M458.38 166.48L467.69 150.36A18.62 18.62 0 0 1 474.5 157.17Z" fill="#78f8d0" stroke="#78f8d0"/>
<path d="M458.38 166.48L474.5 157.17A18.62 18.62 0 0 1 477 166.48Z" fill="#50b8ff" stroke="#50b8ff"/>
<path d="M458.38 166.48L477 166.48A18.62 18.62 0 0 1 474.5 175.79Z" fill="#62f070" stroke="#62f070"/>
<path d="M458.38 166.48L474.5 175.79A18.62 18.62 0 0 1 467.69 182.6Z" fill="#62f070" stroke="#62f070"/>
<path d="M458.38 166.48L467.69 182.6A18.62 18.62 0 0 1 458.38 185.1Z" fill="#50b8ff" stroke="#50b8ff"/>
<path d="M458.38 166.48L458.38 185.1A18.62 18.62 0 0 1 449.07 182.6Z" fill="#a0f020" stroke="#a0f020"/>
<path d="M458.38 166.48L449.07 182.6A18.62 18.62 0 0 1 442.26 175.79Z" fill="#1e3af8" stroke="#1e3af8"/>
<path d="M458.38 166.48L442.26 175.79A18.62 18.62 0 0 1 439.76 166.48Z" fill="#0a0a0a" stroke="#0a0a0a"/>
<path d="M458.38 166.48L439.76 166.48A18.62 18.62 0 0 1 442.26 157.17Z" fill="#0a0a0a" stroke="#0a0a0a"/>
<path d="M458.38 166.48L442.26 157.17A18.62 18.62 0 0 1 449.07 150.36Z" fill="#1e3af8" stroke="#1e3af8"/>
<path d="M458.38 166.48L449.07 150.36A18.62 18.62 0 0 1 458.38 147.86Z" fill="#50b8ff" stroke="#50b8ff"/>
<path d="M458.38 166.48L458.38 157.17A9.31 9.31 0 0 1 463.03 158.42Z" fill="#58f210" stroke="#58f210"/>
<path d="M458.38 166.48L463.03 158.42A9.31 9.31 0 0 1 466.44 161.83Z" fill="#58f210" stroke="#58f210"/>
<path d="M458.38 166.48L466.44 161.83A9.31 9.31 0 0 1 467.69 166.48Z" fill="#f0fc28" stroke="#f0fc28"/>
<path d="M458.38 166.48L467.69 166.48A9.31 9.31 0 0 1 466.44 171.13Z" fill="#ff2810" stroke="#ff2810"/>
<path d="M458.38 166.48L466.44 171.13A9.31 9.31 0 0 1 463.03 174.54Z" fill="#ff8810" stroke="#ff8810"/>
<path d="M458.38 166.48L463.03 174.54A9.31 9.31 0 0 1 458.38 175.79Z" fill="#f0fc28" stroke="#f0fc28"/>
<path d="M458.38 166.48L458.38 175.79A9.31 9.31 0 0 1 453.73 174.54Z" fill="#ff2810" stroke="#ff2810"/>
<path d="M458.38 166.48L453.73 174.54A9.31 9.31 0 0 1 450.32 171.13Z" fill="#1e3af8" stroke="#1e3af8"/>
<path d="M458.38 166.48L450.32 171.13A9.31 9.31 0 0 1 449.07 166.48Z" fill="#78f8d0" stroke="#78f8d0"/>
<path d="M458.38 166.48L449.07 166.48A9.31 9.31 0 0 1 450.32 161.83Z" fill="#66eef0" stroke="#66eef0"/>
<path d="M458.38 166.48L450.32 161.83A9.31 9.31 0 0 1 453.73 158.42Z" fill="#50b8ff" stroke="#50b8ff"/>
<path d="M458.38 166.48L453.73 158.42A9.31 9.31 0 0 1 458.38 157.17Z" fill="#ff2810" stroke="#ff2810"/>
</g>
<path d="M318.5 119.5L318.5 166.5M318.5 119.5L365.5 119.5M318.5 166.5L318.5 213.5M318.5 166.5L365.5 166.5M318.5 213.5L365.5 213.5M365.5 119.5L365.5 166.5M365.5 119.5L411.5 119.5M365.5 166.5L365.5 213.5M365.5 213.5L365.5 259.5M365.5 213.5L411.5 213.5M365.5 259.5L411.5 259.5M365.5 73.5L365.5 119.5M365.5 73.5L411.5 73.5M411.5 213.5L411.5 259.5M411.5 259.5L411.5 306.5M411.5 259.5L458.5 259.5M411.5 26.5L411.5 73.5M411.5 26.5L458.5 26.5M411.5 306.5L458.5 306.5M411.5 73.5L411.5 119.5M411.5 73.5L458.5 73.5M458.5 259.5L458.5 306.5M458.5 259.5L505.5 259.5M458.5 26.5L458.5 73.5M458.5 26.5L505.5 26.5M458.5 306.5L505.5 306.5M458.5 73.5L505.5 73.5M505.5 119.5L551.5 119.5M505.5 213.5L505.5 259.5M505.5 213.5L551.5 213.5M505.5 259.5L505.5 306.5M505.5 259.5L551.5 259.5M505.5 26.5L505.5 73.5M505.5 73.5L505.5 119.5M505.5 73.5L551.5 73.5M551.5 119.5L551.5 166.5M551.5 119.5L598.5 119.5M551.5 166.5L551.5 213.5M551.5 166.5L598.5 166.5M551.5 213.5L551.5 259.5M551.5 213.5L598.5 213.5M551.5 73.5L551.5 119.5M598.5 119.5L598.5 166.5M598.5 166.5L598.5 213.5" class="bx"/>
<path d="M427.27 73.16v-1.0M427.27 26.5v1.0M442.83 73.16v-1.0M442.83 26.5v1.0M411.72 70.96h0.9M458.38 70.96h-0.9M411.72 68.5h1.5M458.38 68.5h-1.5M411.72 66.04h0.9M458.38 66.04h-0.9M411.72 63.58h0.9M458.38 63.58h-0.9M411.72 61.12h0.9M458.38 61.12h-0.9M411.72 58.66h0.9M458.38 58.66h-0.9M411.72 56.2h1.5M458.38 56.2h-1.5M411.72 53.74h0.9M458.38 53.74h-0.9M411.72 51.28h0.9M458.38 51.28h-0.9M411.72 48.82h0.9M458.38 48.82h-0.9M411.72 46.36h0.9M458.38 46.36h-0.9M411.72 43.9h1.5M458.38 43.9h-1.5M411.72 41.44h0.9M458.38 41.44h-0.9M411.72 38.98h0.9M458.38 38.98h-0.9M411.72 36.52h0.9M458.38 36.52h-0.9M411.72 34.06h0.9M458.38 34.06h-0.9M411.72 31.6h1.5M458.38 31.6h-1.5M411.72 29.14h0.9M458.38 29.14h-0.9" class="tk"/>
<path d="M415.61 68.5H454.49" class="zl"/>
<path d="M415.61 26.5V36.4M414.11 36.4h3M423.38 51.4V64M421.88 51.4h3M421.88 64h3M431.16 57.4V67.6M429.66 57.4h3M429.66 67.6h3M438.94 58.4V69M437.44 58.4h3M437.44 69h3M446.71 64.6V73.16M445.21 64.6h3M454.49 64.6V73.16M452.99 64.6h3" class="eb"/>
<clipPath id="cf345"><rect x="411.72" y="26.5" width="46.66" height="46.66"/></clipPath>
<g clip-path="url(#cf345)"><path d="M415.61 26.4L423.38 57.6L431.16 62.4L438.94 63.6L446.71 69.6L454.49 68.6" class="ln"/>
<path d="M414.86 25.65h1.5v1.5h-1.5zM422.63 56.85h1.5v1.5h-1.5zM430.41 61.65h1.5v1.5h-1.5zM438.19 62.85h1.5v1.5h-1.5zM445.96 68.85h1.5v1.5h-1.5zM453.74 67.85h1.5v1.5h-1.5z" class="mk"/></g>
<path d="M473.93 73.16v-1.0M473.93 26.5v1.0M489.49 73.16v-1.0M489.49 26.5v1.0M458.38 70.96h0.9M505.04 70.96h-0.9M458.38 68.5h1.5M505.04 68.5h-1.5M458.38 66.04h0.9M505.04 66.04h-0.9M458.38 63.58h0.9M505.04 63.58h-0.9M458.38 61.12h0.9M505.04 61.12h-0.9M458.38 58.66h0.9M505.04 58.66h-0.9M458.38 56.2h1.5M505.04 56.2h-1.5M458.38 53.74h0.9M505.04 53.74h-0.9M458.38 51.28h0.9M505.04 51.28h-0.9M458.38 48.82h0.9M505.04 48.82h-0.9M458.38 46.36h0.9M505.04 46.36h-0.9M458.38 43.9h1.5M505.04 43.9h-1.5M458.38 41.44h0.9M505.04 41.44h-0.9M458.38 38.98h0.9M505.04 38.98h-0.9M458.38 36.52h0.9M505.04 36.52h-0.9M458.38 34.06h0.9M505.04 34.06h-0.9M458.38 31.6h1.5M505.04 31.6h-1.5M458.38 29.14h0.9M505.04 29.14h-0.9" class="tk"/>
<path d="M462.27 68.5H501.15" class="zl"/>
<path d="M462.27 30V49M460.77 30h3M460.77 49h3M470.05 36V48M468.55 36h3M468.55 48h3M477.82 46V55.4M476.32 46h3M476.32 55.4h3M485.6 53.4V63.4M484.1 53.4h3M484.1 63.4h3M493.38 55.6V65.6M491.88 55.6h3M491.88 65.6h3M501.15 52.6V60M499.65 52.6h3M499.65 60h3" class="eb"/>
<clipPath id="cf15"><rect x="458.38" y="26.5" width="46.66" height="46.66"/></clipPath>
<g clip-path="url(#cf15)"><path d="M462.27 39.4L470.05 42L477.82 50.6L485.6 58.4L493.38 60.6L501.15 56.4" class="ln"/>
<path d="M461.52 38.65h1.5v1.5h-1.5zM469.3 41.25h1.5v1.5h-1.5zM477.07 49.85h1.5v1.5h-1.5zM484.85 57.65h1.5v1.5h-1.5zM492.62 59.85h1.5v1.5h-1.5zM500.4 55.65h1.5v1.5h-1.5z" class="mk"/></g>
<path d="M380.61 119.82v-1.0M380.61 73.16v1.0M396.17 119.82v-1.0M396.17 73.16v1.0M365.06 117.62h0.9M411.72 117.62h-0.9M365.06 115.16h1.5M411.72 115.16h-1.5M365.06 112.7h0.9M411.72 112.7h-0.9M365.06 110.24h0.9M411.72 110.24h-0.9M365.06 107.78h0.9M411.72 107.78h-0.9M365.06 105.32h0.9M411.72 105.32h-0.9M365.06 102.86h1.5M411.72 102.86h-1.5M365.06 100.4h0.9M411.72 100.4h-0.9M365.06 97.94h0.9M411.72 97.94h-0.9M365.06 95.48h0.9M411.72 95.48h-0.9M365.06 93.02h0.9M411.72 93.02h-0.9M365.06 90.56h1.5M411.72 90.56h-1.5M365.06 88.1h0.9M411.72 88.1h-0.9M365.06 85.64h0.9M411.72 85.64h-0.9M365.06 83.18h0.9M411.72 83.18h-0.9M365.06 80.72h0.9M411.72 80.72h-0.9M365.06 78.26h1.5M411.72 78.26h-1.5M365.06 75.8h0.9M411.72 75.8h-0.9" class="tk"/>
<path d="M368.95 115.16H407.83" class="zl"/>
<path d="M368.95 92.6V111.6M367.45 92.6h3M367.45 111.6h3M376.72 98.6V111.6M375.22 98.6h3M375.22 111.6h3M384.5 102.6V113.4M383 102.6h3M383 113.4h3M392.28 111.6V119.82M390.78 111.6h3M400.05 108.6V118M398.55 108.6h3M398.55 118h3M407.83 109.6V119.6M406.33 109.6h3M406.33 119.6h3" class="eb"/>
<clipPath id="cf315"><rect x="365.06" y="73.16" width="46.66" height="46.66"/></clipPath>
<g clip-path="url(#cf315)"><path d="M368.95 102L376.72 105L384.5 108L392.28 116L400.05 113.4L407.83 114.6" class="ln"/>
<path d="M368.2 101.25h1.5v1.5h-1.5zM375.97 104.25h1.5v1.5h-1.5zM383.75 107.25h1.5v1.5h-1.5zM391.53 115.25h1.5v1.5h-1.5zM399.3 112.65h1.5v1.5h-1.5zM407.08 113.85h1.5v1.5h-1.5z" class="mk"/></g>
<path d="M520.59 119.82v-1.0M520.59 73.16v1.0M536.15 119.82v-1.0M536.15 73.16v1.0M505.04 117.62h0.9M551.7 117.62h-0.9M505.04 115.16h1.5M551.7 115.16h-1.5M505.04 112.7h0.9M551.7 112.7h-0.9M505.04 110.24h0.9M551.7 110.24h-0.9M505.04 107.78h0.9M551.7 107.78h-0.9M505.04 105.32h0.9M551.7 105.32h-0.9M505.04 102.86h1.5M551.7 102.86h-1.5M505.04 100.4h0.9M551.7 100.4h-0.9M505.04 97.94h0.9M551.7 97.94h-0.9M505.04 95.48h0.9M551.7 95.48h-0.9M505.04 93.02h0.9M551.7 93.02h-0.9M505.04 90.56h1.5M551.7 90.56h-1.5M505.04 88.1h0.9M551.7 88.1h-0.9M505.04 85.64h0.9M551.7 85.64h-0.9M505.04 83.18h0.9M551.7 83.18h-0.9M505.04 80.72h0.9M551.7 80.72h-0.9M505.04 78.26h1.5M551.7 78.26h-1.5M505.04 75.8h0.9M551.7 75.8h-0.9" class="tk"/>
<path d="M508.93 115.16H547.81" class="zl"/>
<path d="M508.93 82.4V100.6M507.43 82.4h3M507.43 100.6h3M516.7 92.4V104.4M515.2 92.4h3M515.2 104.4h3M524.48 91V100.4M522.98 91h3M522.98 100.4h3M532.26 89.4V98M530.76 89.4h3M530.76 98h3M540.03 99.4V108.4M538.53 99.4h3M538.53 108.4h3M547.81 112.4V119.82M546.31 112.4h3" class="eb"/>
<clipPath id="cf45"><rect x="505.04" y="73.16" width="46.66" height="46.66"/></clipPath>
<g clip-path="url(#cf45)"><path d="M508.93 91.6L516.7 98.4L524.48 95.6L532.26 93.6L540.03 104L547.81 116.4" class="ln"/>
<path d="M508.18 90.85h1.5v1.5h-1.5zM515.95 97.65h1.5v1.5h-1.5zM523.73 94.85h1.5v1.5h-1.5zM531.51 92.85h1.5v1.5h-1.5zM539.28 103.25h1.5v1.5h-1.5zM547.06 115.65h1.5v1.5h-1.5z" class="mk"/></g>
<path d="M333.95 166.48v-1.0M333.95 119.82v1.0M349.51 166.48v-1.0M349.51 119.82v1.0M318.4 164.28h0.9M365.06 164.28h-0.9M318.4 161.82h1.5M365.06 161.82h-1.5M318.4 159.36h0.9M365.06 159.36h-0.9M318.4 156.9h0.9M365.06 156.9h-0.9M318.4 154.44h0.9M365.06 154.44h-0.9M318.4 151.98h0.9M365.06 151.98h-0.9M318.4 149.52h1.5M365.06 149.52h-1.5M318.4 147.06h0.9M365.06 147.06h-0.9M318.4 144.6h0.9M365.06 144.6h-0.9M318.4 142.14h0.9M365.06 142.14h-0.9M318.4 139.68h0.9M365.06 139.68h-0.9M318.4 137.22h1.5M365.06 137.22h-1.5M318.4 134.76h0.9M365.06 134.76h-0.9M318.4 132.3h0.9M365.06 132.3h-0.9M318.4 129.84h0.9M365.06 129.84h-0.9M318.4 127.38h0.9M365.06 127.38h-0.9M318.4 124.92h1.5M365.06 124.92h-1.5M318.4 122.46h0.9M365.06 122.46h-0.9" class="tk"/>
<path d="M322.29 161.82H361.17" class="zl"/>
<path d="M322.29 136.4V156.4M320.79 136.4h3M320.79 156.4h3M330.06 158.6V166.48M328.56 158.6h3M337.84 154.4V164.4M336.34 154.4h3M336.34 164.4h3M345.62 150V158.4M344.12 150h3M344.12 158.4h3M353.39 154.4V162.4M351.89 154.4h3M351.89 162.4h3M361.17 149.6V157.4M359.67 149.6h3M359.67 157.4h3" class="eb"/>
<clipPath id="cf285"><rect x="318.4" y="119.82" width="46.66" height="46.66"/></clipPath>
<g clip-path="url(#cf285)"><path d="M322.29 146.4L330.06 165L337.84 159.4L345.62 154L353.39 158.4L361.17 153.4" class="ln"/>
<path d="M321.54 145.65h1.5v1.5h-1.5zM329.31 164.25h1.5v1.5h-1.5zM337.09 158.65h1.5v1.5h-1.5zM344.87 153.25h1.5v1.5h-1.5zM352.64 157.65h1.5v1.5h-1.5zM360.42 152.65h1.5v1.5h-1.5z" class="mk"/></g>
<path d="M567.25 166.48v-1.0M567.25 119.82v1.0M582.81 166.48v-1.0M582.81 119.82v1.0M551.7 164.28h0.9M598.36 164.28h-0.9M551.7 161.82h1.5M598.36 161.82h-1.5M551.7 159.36h0.9M598.36 159.36h-0.9M551.7 156.9h0.9M598.36 156.9h-0.9M551.7 154.44h0.9M598.36 154.44h-0.9M551.7 151.98h0.9M598.36 151.98h-0.9M551.7 149.52h1.5M598.36 149.52h-1.5M551.7 147.06h0.9M598.36 147.06h-0.9M551.7 144.6h0.9M598.36 144.6h-0.9M551.7 142.14h0.9M598.36 142.14h-0.9M551.7 139.68h0.9M598.36 139.68h-0.9M551.7 137.22h1.5M598.36 137.22h-1.5M551.7 134.76h0.9M598.36 134.76h-0.9M551.7 132.3h0.9M598.36 132.3h-0.9M551.7 129.84h0.9M598.36 129.84h-0.9M551.7 127.38h0.9M598.36 127.38h-0.9M551.7 124.92h1.5M598.36 124.92h-1.5M551.7 122.46h0.9M598.36 122.46h-0.9" class="tk"/>
<path d="M555.59 161.82H594.47" class="zl"/>
<path d="M555.59 119.82V138.4M554.09 138.4h3M563.36 143.4V155.4M561.86 143.4h3M561.86 155.4h3M571.14 148.6V158M569.64 148.6h3M569.64 158h3M578.92 150.4V158.4M577.42 150.4h3M577.42 158.4h3M586.69 141.4V148M585.19 141.4h3M585.19 148h3M594.47 142.4V148.6M592.97 142.4h3M592.97 148.6h3" class="eb"/>
<clipPath id="cf75"><rect x="551.7" y="119.82" width="46.66" height="46.66"/></clipPath>
<g clip-path="url(#cf75)"><path d="M555.59 129L563.36 149.4L571.14 153.4L578.92 154.6L586.69 144.6L594.47 145.6" class="ln"/>
<path d="M554.84 128.25h1.5v1.5h-1.5zM562.61 148.65h1.5v1.5h-1.5zM570.39 152.65h1.5v1.5h-1.5zM578.17 153.85h1.5v1.5h-1.5zM585.94 143.85h1.5v1.5h-1.5zM593.72 144.85h1.5v1.5h-1.5z" class="mk"/></g>
<path d="M333.95 213.14v-1.0M333.95 166.48v1.0M349.51 213.14v-1.0M349.51 166.48v1.0M318.4 210.94h0.9M365.06 210.94h-0.9M318.4 208.48h1.5M365.06 208.48h-1.5M318.4 206.02h0.9M365.06 206.02h-0.9M318.4 203.56h0.9M365.06 203.56h-0.9M318.4 201.1h0.9M365.06 201.1h-0.9M318.4 198.64h0.9M365.06 198.64h-0.9M318.4 196.18h1.5M365.06 196.18h-1.5M318.4 193.72h0.9M365.06 193.72h-0.9M318.4 191.26h0.9M365.06 191.26h-0.9M318.4 188.8h0.9M365.06 188.8h-0.9M318.4 186.34h0.9M365.06 186.34h-0.9M318.4 183.88h1.5M365.06 183.88h-1.5M318.4 181.42h0.9M365.06 181.42h-0.9M318.4 178.96h0.9M365.06 178.96h-0.9M318.4 176.5h0.9M365.06 176.5h-0.9M318.4 174.04h0.9M365.06 174.04h-0.9M318.4 171.58h1.5M365.06 171.58h-1.5M318.4 169.12h0.9M365.06 169.12h-0.9" class="tk"/>
<path d="M322.29 208.48H361.17" class="zl"/>
<path d="M322.29 181.4V200.6M320.79 181.4h3M320.79 200.6h3M330.06 212V213.14M328.56 212h3M337.84 206.6V213.14M336.34 206.6h3M345.62 211V213.14M344.12 211h3M353.39 196V203.6M351.89 196h3M351.89 203.6h3M361.17 200V207.6M359.67 200h3M359.67 207.6h3" class="eb"/>
<clipPath id="cf255"><rect x="318.4" y="166.48" width="46.66" height="46.66"/></clipPath>
<g clip-path="url(#cf255)"><path d="M322.29 191L330.06 218L337.84 211.4L345.62 217L353.39 199.6L361.17 204" class="ln"/>
<path d="M321.54 190.25h1.5v1.5h-1.5zM329.31 217.25h1.5v1.5h-1.5zM337.09 210.65h1.5v1.5h-1.5zM344.87 216.25h1.5v1.5h-1.5zM352.64 198.85h1.5v1.5h-1.5zM360.42 203.25h1.5v1.5h-1.5z" class="mk"/></g>
<path d="M567.25 213.14v-1.0M567.25 166.48v1.0M582.81 213.14v-1.0M582.81 166.48v1.0M551.7 210.94h0.9M598.36 210.94h-0.9M551.7 208.48h1.5M598.36 208.48h-1.5M551.7 206.02h0.9M598.36 206.02h-0.9M551.7 203.56h0.9M598.36 203.56h-0.9M551.7 201.1h0.9M598.36 201.1h-0.9M551.7 198.64h0.9M598.36 198.64h-0.9M551.7 196.18h1.5M598.36 196.18h-1.5M551.7 193.72h0.9M598.36 193.72h-0.9M551.7 191.26h0.9M598.36 191.26h-0.9M551.7 188.8h0.9M598.36 188.8h-0.9M551.7 186.34h0.9M598.36 186.34h-0.9M551.7 183.88h1.5M598.36 183.88h-1.5M551.7 181.42h0.9M598.36 181.42h-0.9M551.7 178.96h0.9M598.36 178.96h-0.9M551.7 176.5h0.9M598.36 176.5h-0.9M551.7 174.04h0.9M598.36 174.04h-0.9M551.7 171.58h1.5M598.36 171.58h-1.5M551.7 169.12h0.9M598.36 169.12h-0.9" class="tk"/>
<path d="M555.59 208.48H594.47" class="zl"/>
<path d="M555.59 166.48V173.4M554.09 173.4h3M563.36 185.6V197.4M561.86 185.6h3M561.86 197.4h3M571.14 192.6V202.4M569.64 192.6h3M569.64 202.4h3M578.92 199.6V207.4M577.42 199.6h3M577.42 207.4h3M586.69 192.4V199.6M585.19 192.4h3M585.19 199.6h3M594.47 199.4V206M592.97 199.4h3M592.97 206h3" class="eb"/>
<clipPath id="cf105"><rect x="551.7" y="166.48" width="46.66" height="46.66"/></clipPath>
<g clip-path="url(#cf105)"><path d="M555.59 167L563.36 191.4L571.14 197.6L578.92 203.6L586.69 196L594.47 203" class="ln"/>
<path d="M554.84 166.25h1.5v1.5h-1.5zM562.61 190.65h1.5v1.5h-1.5zM570.39 196.85h1.5v1.5h-1.5zM578.17 202.85h1.5v1.5h-1.5zM585.94 195.25h1.5v1.5h-1.5zM593.72 202.25h1.5v1.5h-1.5z" class="mk"/></g>
<path d="M380.61 259.8v-1.0M380.61 213.14v1.0M396.17 259.8v-1.0M396.17 213.14v1.0M365.06 257.6h0.9M411.72 257.6h-0.9M365.06 255.14h1.5M411.72 255.14h-1.5M365.06 252.68h0.9M411.72 252.68h-0.9M365.06 250.22h0.9M411.72 250.22h-0.9M365.06 247.76h0.9M411.72 247.76h-0.9M365.06 245.3h0.9M411.72 245.3h-0.9M365.06 242.84h1.5M411.72 242.84h-1.5M365.06 240.38h0.9M411.72 240.38h-0.9M365.06 237.92h0.9M411.72 237.92h-0.9M365.06 235.46h0.9M411.72 235.46h-0.9M365.06 233h0.9M411.72 233h-0.9M365.06 230.54h1.5M411.72 230.54h-1.5M365.06 228.08h0.9M411.72 228.08h-0.9M365.06 225.62h0.9M411.72 225.62h-0.9M365.06 223.16h0.9M411.72 223.16h-0.9M365.06 220.7h0.9M411.72 220.7h-0.9M365.06 218.24h1.5M411.72 218.24h-1.5M365.06 215.78h0.9M411.72 215.78h-0.9" class="tk"/>
<path d="M368.95 255.14H407.83" class="zl"/>
<path d="M368.95 235.6V254.6M367.45 235.6h3M367.45 254.6h3M376.72 247.4V259.8M375.22 247.4h3M384.5 244.4V254.6M383 244.4h3M383 254.6h3M392.28 252V259.8M390.78 252h3M407.83 255.6V259.8M406.33 255.6h3" class="eb"/>
<clipPath id="cf225"><rect x="365.06" y="213.14" width="46.66" height="46.66"/></clipPath>
<g clip-path="url(#cf225)"><path d="M368.95 245L376.72 253.6L384.5 249.4L392.28 257L400.05 263L407.83 259.8" class="ln"/>
<path d="M368.2 244.25h1.5v1.5h-1.5zM375.97 252.85h1.5v1.5h-1.5zM383.75 248.65h1.5v1.5h-1.5zM391.53 256.25h1.5v1.5h-1.5zM399.3 262.25h1.5v1.5h-1.5zM407.08 259.05h1.5v1.5h-1.5z" class="mk"/></g>
<path d="M520.59 259.8v-1.0M520.59 213.14v1.0M536.15 259.8v-1.0M536.15 213.14v1.0M505.04 257.6h0.9M551.7 257.6h-0.9M505.04 255.14h1.5M551.7 255.14h-1.5M505.04 252.68h0.9M551.7 252.68h-0.9M505.04 250.22h0.9M551.7 250.22h-0.9M505.04 247.76h0.9M551.7 247.76h-0.9M505.04 245.3h0.9M551.7 245.3h-0.9M505.04 242.84h1.5M551.7 242.84h-1.5M505.04 240.38h0.9M551.7 240.38h-0.9M505.04 237.92h0.9M551.7 237.92h-0.9M505.04 235.46h0.9M551.7 235.46h-0.9M505.04 233h0.9M551.7 233h-0.9M505.04 230.54h1.5M551.7 230.54h-1.5M505.04 228.08h0.9M551.7 228.08h-0.9M505.04 225.62h0.9M551.7 225.62h-0.9M505.04 223.16h0.9M551.7 223.16h-0.9M505.04 220.7h0.9M551.7 220.7h-0.9M505.04 218.24h1.5M551.7 218.24h-1.5M505.04 215.78h0.9M551.7 215.78h-0.9" class="tk"/>
<path d="M508.93 255.14H547.81" class="zl"/>
<path d="M508.93 213.14V227.6M507.43 227.6h3M516.7 225V237M515.2 225h3M515.2 237h3M524.48 245.6V255M522.98 245.6h3M522.98 255h3M532.26 254V259.8M530.76 254h3M540.03 249V258M538.53 249h3M538.53 258h3M547.81 246.6V254.6M546.31 246.6h3M546.31 254.6h3" class="eb"/>
<clipPath id="cf135"><rect x="505.04" y="213.14" width="46.66" height="46.66"/></clipPath>
<g clip-path="url(#cf135)"><path d="M508.93 218.4L516.7 231L524.48 250.4L532.26 259L540.03 253.4L547.81 250.6" class="ln"/>
<path d="M508.18 217.65h1.5v1.5h-1.5zM515.95 230.25h1.5v1.5h-1.5zM523.73 249.65h1.5v1.5h-1.5zM531.51 258.25h1.5v1.5h-1.5zM539.28 252.65h1.5v1.5h-1.5zM547.06 249.85h1.5v1.5h-1.5z" class="mk"/></g>
<path d="M427.27 306.46v-1.0M427.27 259.8v1.0M442.83 306.46v-1.0M442.83 259.8v1.0M411.72 304.26h0.9M458.38 304.26h-0.9M411.72 301.8h1.5M458.38 301.8h-1.5M411.72 299.34h0.9M458.38 299.34h-0.9M411.72 296.88h0.9M458.38 296.88h-0.9M411.72 294.42h0.9M458.38 294.42h-0.9M411.72 291.96h0.9M458.38 291.96h-0.9M411.72 289.5h1.5M458.38 289.5h-1.5M411.72 287.04h0.9M458.38 287.04h-0.9M411.72 284.58h0.9M458.38 284.58h-0.9M411.72 282.12h0.9M458.38 282.12h-0.9M411.72 279.66h0.9M458.38 279.66h-0.9M411.72 277.2h1.5M458.38 277.2h-1.5M411.72 274.74h0.9M458.38 274.74h-0.9M411.72 272.28h0.9M458.38 272.28h-0.9M411.72 269.82h0.9M458.38 269.82h-0.9M411.72 267.36h0.9M458.38 267.36h-0.9M411.72 264.9h1.5M458.38 264.9h-1.5M411.72 262.44h0.9M458.38 262.44h-0.9" class="tk"/>
<path d="M415.61 301.8H454.49" class="zl"/>
<path d="M415.61 259.8V266.4M414.11 266.4h3M423.38 266.4V278.6M421.88 266.4h3M421.88 278.6h3M431.16 292V302.4M429.66 292h3M429.66 302.4h3M438.94 275.4V285.6M437.44 275.4h3M437.44 285.6h3M446.71 297.6V306.46M445.21 297.6h3M454.49 297.6V303M452.99 297.6h3M452.99 303h3" class="eb"/>
<clipPath id="cf195"><rect x="411.72" y="259.8" width="46.66" height="46.66"/></clipPath>
<g clip-path="url(#cf195)"><path d="M415.61 253.8L423.38 272.6L431.16 297L438.94 280.6L446.71 302L454.49 300.4" class="ln"/>
<path d="M414.86 253.05h1.5v1.5h-1.5zM422.63 271.85h1.5v1.5h-1.5zM430.41 296.25h1.5v1.5h-1.5zM438.19 279.85h1.5v1.5h-1.5zM445.96 301.25h1.5v1.5h-1.5zM453.74 299.65h1.5v1.5h-1.5z" class="mk"/></g>
<path d="M473.93 306.46v-1.0M473.93 259.8v1.0M489.49 306.46v-1.0M489.49 259.8v1.0M458.38 304.26h0.9M505.04 304.26h-0.9M458.38 301.8h1.5M505.04 301.8h-1.5M458.38 299.34h0.9M505.04 299.34h-0.9M458.38 296.88h0.9M505.04 296.88h-0.9M458.38 294.42h0.9M505.04 294.42h-0.9M458.38 291.96h0.9M505.04 291.96h-0.9M458.38 289.5h1.5M505.04 289.5h-1.5M458.38 287.04h0.9M505.04 287.04h-0.9M458.38 284.58h0.9M505.04 284.58h-0.9M458.38 282.12h0.9M505.04 282.12h-0.9M458.38 279.66h0.9M505.04 279.66h-0.9M458.38 277.2h1.5M505.04 277.2h-1.5M458.38 274.74h0.9M505.04 274.74h-0.9M458.38 272.28h0.9M505.04 272.28h-0.9M458.38 269.82h0.9M505.04 269.82h-0.9M458.38 267.36h0.9M505.04 267.36h-0.9M458.38 264.9h1.5M505.04 264.9h-1.5M458.38 262.44h0.9M505.04 262.44h-0.9" class="tk"/>
<path d="M462.27 301.8H501.15" class="zl"/>
<path d="M462.27 259.8V277M460.77 277h3M470.05 283.4V295M468.55 283.4h3M468.55 295h3M477.82 293.6V303.6M476.32 293.6h3M476.32 303.6h3M485.6 292.6V303M484.1 292.6h3M484.1 303h3M493.38 295.4V302.6M491.88 295.4h3M491.88 302.6h3M501.15 296.4V301.6M499.65 296.4h3M499.65 301.6h3" class="eb"/>
<clipPath id="cf165"><rect x="458.38" y="259.8" width="46.66" height="46.66"/></clipPath>
<g clip-path="url(#cf165)"><path d="M462.27 267.4L470.05 289.4L477.82 298.6L485.6 298L493.38 299L501.15 299" class="ln"/>
<path d="M461.52 266.65h1.5v1.5h-1.5zM469.3 288.65h1.5v1.5h-1.5zM477.07 297.85h1.5v1.5h-1.5zM484.85 297.25h1.5v1.5h-1.5zM492.62 298.25h1.5v1.5h-1.5zM500.4 298.25h1.5v1.5h-1.5z" class="mk"/></g>
<text x="435.05" y="25" class="bt">345°</text>
<text x="410.82" y="33.1" class="yl">15000</text>
<text x="410.82" y="45.4" class="yl">10000</text>
<text x="410.82" y="57.7" class="yl">5000</text>
<text x="410.82" y="70" class="yl">0</text>
<text x="411.72" y="78.36" class="xl">0</text>
<text x="427.27" y="78.36" class="xl">10</text>
<text x="442.83" y="78.36" class="xl">20</text>
<text x="481.71" y="25" class="bt">15°</text>
<text x="458.38" y="78.36" class="xl">0</text>
<text x="473.93" y="78.36" class="xl">10</text>
<text x="489.49" y="78.36" class="xl">20</text>
<text x="388.39" y="71.66" class="bt">315°</text>
<text x="364.16" y="79.76" class="yl">15000</text>
<text x="364.16" y="92.06" class="yl">10000</text>
<text x="364.16" y="104.36" class="yl">5000</text>
<text x="364.16" y="116.66" class="yl">0</text>
<text x="380.61" y="125.02" class="xl">10</text>
<text x="396.17" y="125.02" class="xl">20</text>
<text x="411.72" y="125.02" class="xl">30</text>
<text x="528.37" y="71.66" class="bt">45°</text>
<text x="504.14" y="92.06" class="yl">10000</text>
<text x="504.14" y="104.36" class="yl">5000</text>
<text x="504.14" y="116.66" class="yl">0</text>
<text x="505.04" y="125.02" class="xl">0</text>
<text x="520.59" y="125.02" class="xl">10</text>
<text x="536.15" y="125.02" class="xl">20</text>
<text x="341.73" y="118.32" class="bt">285°</text>
<text x="317.5" y="126.42" class="yl">15000</text>
<text x="317.5" y="138.72" class="yl">10000</text>
<text x="317.5" y="151.02" class="yl">5000</text>
<text x="317.5" y="163.32" class="yl">0</text>
<text x="575.03" y="118.32" class="bt">75°</text>
<text x="550.8" y="138.72" class="yl">10000</text>
<text x="550.8" y="151.02" class="yl">5000</text>
<text x="550.8" y="163.32" class="yl">0</text>
<text x="317.5" y="185.38" class="yl">10000</text>
<text x="317.5" y="197.68" class="yl">5000</text>
<text x="317.5" y="209.98" class="yl">0</text>
<text x="318.4" y="218.34" class="xl">0</text>
<text x="333.95" y="218.34" class="xl">10</text>
<text x="349.51" y="218.34" class="xl">20</text>
<text x="550.8" y="185.38" class="yl">10000</text>
<text x="550.8" y="197.68" class="yl">5000</text>
<text x="550.8" y="209.98" class="yl">0</text>
<text x="551.7" y="218.34" class="xl">0</text>
<text x="567.25" y="218.34" class="xl">10</text>
<text x="582.81" y="218.34" class="xl">20</text>
<text x="598.36" y="218.34" class="xl">30</text>
<text x="388.39" y="211.64" class="bt">225°</text>
<text x="364.16" y="232.04" class="yl">10000</text>
<text x="364.16" y="244.34" class="yl">5000</text>
<text x="364.16" y="256.64" class="yl">0</text>
<text x="365.06" y="265" class="xl">0</text>
<text x="380.61" y="265" class="xl">10</text>
<text x="396.17" y="265" class="xl">20</text>
<text x="528.37" y="211.64" class="bt">135°</text>
<text x="504.14" y="219.74" class="yl">15000</text>
<text x="504.14" y="232.04" class="yl">10000</text>
<text x="504.14" y="244.34" class="yl">5000</text>
<text x="504.14" y="256.64" class="yl">0</text>
<text x="520.59" y="265" class="xl">10</text>
<text x="536.15" y="265" class="xl">20</text>
<text x="551.7" y="265" class="xl">30</text>
<text x="435.05" y="258.3" class="bt">195°</text>
<text x="410.82" y="278.7" class="yl">10000</text>
<text x="410.82" y="291" class="yl">5000</text>
<text x="410.82" y="303.3" class="yl">0</text>
<text x="411.72" y="311.66" class="xl">0</text>
<text x="427.27" y="311.66" class="xl">10</text>
<text x="442.83" y="311.66" class="xl">20</text>
<text x="481.71" y="258.3" class="bt">165°</text>
<text x="458.38" y="311.66" class="xl">0</text>
<text x="473.93" y="311.66" class="xl">10</text>
<text x="489.49" y="311.66" class="xl">20</text>
<text x="505.04" y="311.66" class="xl">30</text>
<rect x="337" y="322" width="14.28" height="14.4" fill="#0a0a0a" shape-rendering="crispEdges"/>
<rect x="350.98" y="322" width="14.28" height="14.4" fill="#0a0a0a" shape-rendering="crispEdges"/>
<rect x="364.96" y="322" width="14.28" height="14.4" fill="#3832f6" shape-rendering="crispEdges"/>
<rect x="378.94" y="322" width="14.28" height="14.4" fill="#1e3af8" shape-rendering="crispEdges"/>
<rect x="392.92" y="322" width="14.28" height="14.4" fill="#2442f8" shape-rendering="crispEdges"/>
<rect x="406.9" y="322" width="14.28" height="14.4" fill="#3d80f0" shape-rendering="crispEdges"/>
<rect x="420.88" y="322" width="14.28" height="14.4" fill="#66eef0" shape-rendering="crispEdges"/>
<rect x="434.86" y="322" width="14.28" height="14.4" fill="#78f5b4" shape-rendering="crispEdges"/>
<rect x="448.84" y="322" width="14.28" height="14.4" fill="#58f040" shape-rendering="crispEdges"/>
<rect x="462.82" y="322" width="14.28" height="14.4" fill="#58ee10" shape-rendering="crispEdges"/>
<rect x="476.8" y="322" width="14.28" height="14.4" fill="#58ee10" shape-rendering="crispEdges"/>
<rect x="490.78" y="322" width="14.28" height="14.4" fill="#68ee20" shape-rendering="crispEdges"/>
<rect x="504.76" y="322" width="14.28" height="14.4" fill="#a0f020" shape-rendering="crispEdges"/>
<rect x="518.74" y="322" width="14.28" height="14.4" fill="#f0fc28" shape-rendering="crispEdges"/>
<rect x="532.72" y="322" width="14.28" height="14.4" fill="#ff8810" shape-rendering="crispEdges"/>
<rect x="546.7" y="322" width="14.28" height="14.4" fill="#ff2810" shape-rendering="crispEdges"/>
<rect x="560.68" y="322" width="19.2" height="14.4" fill="#ffffff" shape-rendering="crispEdges"/>
<rect x="337" y="322" width="242.6" height="14.4" class="cbx"/>
<text x="381.8" y="344.6" class="cl">0</text>
<text x="446.8" y="344.6" class="cl">5.0•10<tspan dy="-1.9" font-size="3.8">3</tspan></text>
<text x="513.8" y="344.6" class="cl">1.0•10<tspan dy="-1.9" font-size="3.8">4</tspan></text>
<text x="580.5" y="344.6" class="cl">1.5•10<tspan dy="-1.9" font-size="3.8">4</tspan></text>
<text x="468.3" y="351.4" class="cu">I[LU]</text>
<text x="455.8" y="11.5" class="ti">4985Å</text>
<text x="468" y="362.4" class="tg">(f)</text>
</g>
<g id="panel-g">
<g stroke-width="0.7" stroke-linejoin="round">
<path d="M159.38 536.38L159.38 480.83A55.55 55.55 0 0 1 187.16 488.27Z" fill="#1e3af8" stroke="#1e3af8"/>
<path d="M159.38 536.38L187.16 488.27A55.55 55.55 0 0 1 207.49 508.6Z" fill="#78f8d0" stroke="#78f8d0"/>
<path d="M159.38 536.38L207.49 508.6A55.55 55.55 0 0 1 214.93 536.38Z" fill="#1e3af8" stroke="#1e3af8"/>
<path d="M159.38 536.38L214.93 536.38A55.55 55.55 0 0 1 207.49 564.15Z" fill="#50b8ff" stroke="#50b8ff"/>
<path d="M159.38 536.38L207.49 564.15A55.55 55.55 0 0 1 187.16 584.49Z" fill="#1e3af8" stroke="#1e3af8"/>
<path d="M159.38 536.38L187.16 584.49A55.55 55.55 0 0 1 159.38 591.93Z" fill="#1e3af8" stroke="#1e3af8"/>
<path d="M159.38 536.38L159.38 591.93A55.55 55.55 0 0 1 131.6 584.49Z" fill="#3832f6" stroke="#3832f6"/>
<path d="M159.38 536.38L131.6 584.49A55.55 55.55 0 0 1 111.27 564.15Z" fill="#0a0a0a" stroke="#0a0a0a"/>
<path d="M159.38 536.38L111.27 564.15A55.55 55.55 0 0 1 103.83 536.38Z" fill="#58f210" stroke="#58f210"/>
<path d="M159.38 536.38L103.83 536.38A55.55 55.55 0 0 1 111.27 508.6Z" fill="#58f210" stroke="#58f210"/>
<path d="M159.38 536.38L111.27 508.6A55.55 55.55 0 0 1 131.6 488.27Z" fill="#58f210" stroke="#58f210"/>
<path d="M159.38 536.38L131.6 488.27A55.55 55.55 0 0 1 159.38 480.83Z" fill="#1e3af8" stroke="#1e3af8"/>
<path d="M159.38 536.38L159.38 489.84A46.54 46.54 0 0 1 182.65 496.07Z" fill="#1e3af8" stroke="#1e3af8"/>
<path d="M159.38 536.38L182.65 496.07A46.54 46.54 0 0 1 199.69 513.11Z" fill="#58f210" stroke="#58f210"/>
<path d="M159.38 536.38L199.69 513.11A46.54 46.54 0 0 1 205.92 536.38Z" fill="#1e3af8" stroke="#1e3af8"/>
<path d="M159.38 536.38L205.92 536.38A46.54 46.54 0 0 1 199.69 559.65Z" fill="#58f210" stroke="#58f210"/>
<path d="M159.38 536.38L199.69 559.65A46.54 46.54 0 0 1 182.65 576.69Z" fill="#58f210" stroke="#58f210"/>
<path d="M159.38 536.38L182.65 576.69A46.54 46.54 0 0 1 159.38 582.92Z" fill="#78f8d0" stroke="#78f8d0"/>
<path d="M159.38 536.38L159.38 582.92A46.54 46.54 0 0 1 136.11 576.69Z" fill="#1e3af8" stroke="#1e3af8"/>
<path d="M159.38 536.38L136.11 576.69A46.54 46.54 0 0 1 119.07 559.65Z" fill="#58f210" stroke="#58f210"/>
<path d="M159.38 536.38L119.07 559.65A46.54 46.54 0 0 1 112.84 536.38Z" fill="#58f210" stroke="#58f210"/>
<path d="M159.38 536.38L112.84 536.38A46.54 46.54 0 0 1 119.07 513.11Z" fill="#62f070" stroke="#62f070"/>
<path d="M159.38 536.38L119.07 513.11A46.54 46.54 0 0 1 136.11 496.07Z" fill="#62f070" stroke="#62f070"/>
<path d="M159.38 536.38L136.11 496.07A46.54 46.54 0 0 1 159.38 489.84Z" fill="#78f8d0" stroke="#78f8d0"/>
<path d="M159.38 536.38L159.38 499.15A37.23 37.23 0 0 1 178 504.13Z" fill="#1e3af8" stroke="#1e3af8"/>
<path d="M159.38 536.38L178 504.13A37.23 37.23 0 0 1 191.63 517.76Z" fill="#78f8d0" stroke="#78f8d0"/>
<path d="M159.38 536.38L191.63 517.76A37.23 37.23 0 0 1 196.61 536.38Z" fill="#1e3af8" stroke="#1e3af8"/>
<path d="M159.38 536.38L196.61 536.38A37.23 37.23 0 0 1 191.63 555Z" fill="#62f070" stroke="#62f070"/>
<path d="M159.38 536.38L191.63 555A37.23 37.23 0 0 1 178 568.63Z" fill="#1e3af8" stroke="#1e3af8"/>
<path d="M159.38 536.38L178 568.63A37.23 37.23 0 0 1 159.38 573.61Z" fill="#a0f020" stroke="#a0f020"/>
<path d="M159.38 536.38L159.38 573.61A37.23 37.23 0 0 1 140.76 568.63Z" fill="#58f210" stroke="#58f210"/>
<path d="M159.38 536.38L140.76 568.63A37.23 37.23 0 0 1 127.13 555Z" fill="#ff8810" stroke="#ff8810"/>
<path d="M159.38 536.38L127.13 555A37.23 37.23 0 0 1 122.15 536.38Z" fill="#78f8d0" stroke="#78f8d0"/>
<path d="M159.38 536.38L122.15 536.38A37.23 37.23 0 0 1 127.13 517.76Z" fill="#1e3af8" stroke="#1e3af8"/>
<path d="M159.38 536.38L127.13 517.76A37.23 37.23 0 0 1 140.76 504.13Z" fill="#50b8ff" stroke="#50b8ff"/>
<path d="M159.38 536.38L140.76 504.13A37.23 37.23 0 0 1 159.38 499.15Z" fill="#1e3af8" stroke="#1e3af8"/>
<path d="M159.38 536.38L159.38 508.45A27.93 27.93 0 0 1 173.34 512.2Z" fill="#1e3af8" stroke="#1e3af8"/>
<path d="M159.38 536.38L173.34 512.2A27.93 27.93 0 0 1 183.56 522.42Z" fill="#1e3af8" stroke="#1e3af8"/>
<path d="M159.38 536.38L183.56 522.42A27.93 27.93 0 0 1 187.31 536.38Z" fill="#a0f020" stroke="#a0f020"/>
<path d="M159.38 536.38L187.31 536.38A27.93 27.93 0 0 1 183.56 550.34Z" fill="#58f210" stroke="#58f210"/>
<path d="M159.38 536.38L183.56 550.34A27.93 27.93 0 0 1 173.34 560.56Z" fill="#50b8ff" stroke="#50b8ff"/>
<path d="M159.38 536.38L173.34 560.56A27.93 27.93 0 0 1 159.38 564.3Z" fill="#58f210" stroke="#58f210"/>
<path d="M159.38 536.38L159.38 564.3A27.93 27.93 0 0 1 145.42 560.56Z" fill="#1e3af8" stroke="#1e3af8"/>
<path d="M159.38 536.38L145.42 560.56A27.93 27.93 0 0 1 135.2 550.34Z" fill="#ff2810" stroke="#ff2810"/>
<path d="M159.38 536.38L135.2 550.34A27.93 27.93 0 0 1 131.45 536.38Z" fill="#62f070" stroke="#62f070"/>
<path d="M159.38 536.38L131.45 536.38A27.93 27.93 0 0 1 135.2 522.42Z" fill="#1e3af8" stroke="#1e3af8"/>
<path d="M159.38 536.38L135.2 522.42A27.93 27.93 0 0 1 145.42 512.2Z" fill="#58f210" stroke="#58f210"/>
<path d="M159.38 536.38L145.42 512.2A27.93 27.93 0 0 1 159.38 508.45Z" fill="#62f070" stroke="#62f070"/>
<path d="M159.38 536.38L159.38 517.76A18.62 18.62 0 0 1 168.69 520.26Z" fill="#f0fc28" stroke="#f0fc28"/>
<path d="M159.38 536.38L168.69 520.26A18.62 18.62 0 0 1 175.5 527.07Z" fill="#78f8d0" stroke="#78f8d0"/>
<path d="M159.38 536.38L175.5 527.07A18.62 18.62 0 0 1 178 536.38Z" fill="#1e3af8" stroke="#1e3af8"/>
<path d="M159.38 536.38L178 536.38A18.62 18.62 0 0 1 175.5 545.69Z" fill="#58f210" stroke="#58f210"/>
<path d="M159.38 536.38L175.5 545.69A18.62 18.62 0 0 1 168.69 552.5Z" fill="#50b8ff" stroke="#50b8ff"/>
<path d="M159.38 536.38L168.69 552.5A18.62 18.62 0 0 1 159.38 555Z" fill="#78f8d0" stroke="#78f8d0"/>
<path d="M159.38 536.38L159.38 555A18.62 18.62 0 0 1 150.07 552.5Z" fill="#50b8ff" stroke="#50b8ff"/>
<path d="M159.38 536.38L150.07 552.5A18.62 18.62 0 0 1 143.26 545.69Z" fill="#50b8ff" stroke="#50b8ff"/>
<path d="M159.38 536.38L143.26 545.69A18.62 18.62 0 0 1 140.76 536.38Z" fill="#a0f020" stroke="#a0f020"/>
<path d="M159.38 536.38L140.76 536.38A18.62 18.62 0 0 1 143.26 527.07Z" fill="#50b8ff" stroke="#50b8ff"/>
<path d="M159.38 536.38L143.26 527.07A18.62 18.62 0 0 1 150.07 520.26Z" fill="#62f070" stroke="#62f070"/>
<path d="M159.38 536.38L150.07 520.26A18.62 18.62 0 0 1 159.38 517.76Z" fill="#62f070" stroke="#62f070"/>
<path d="M159.38 536.38L159.38 527.07A9.31 9.31 0 0 1 164.03 528.32Z" fill="#58f210" stroke="#58f210"/>
<path d="M159.38 536.38L164.03 528.32A9.31 9.31 0 0 1 167.44 531.73Z" fill="#58f210" stroke="#58f210"/>
<path d="M159.38 536.38L167.44 531.73A9.31 9.31 0 0 1 168.69 536.38Z" fill="#ff2810" stroke="#ff2810"/>
<path d="M159.38 536.38L168.69 536.38A9.31 9.31 0 0 1 167.44 541.03Z" fill="#ff2810" stroke="#ff2810"/>
<path d="M159.38 536.38L167.44 541.03A9.31 9.31 0 0 1 164.03 544.44Z" fill="#ff2810" stroke="#ff2810"/>
<path d="M159.38 536.38L164.03 544.44A9.31 9.31 0 0 1 159.38 545.69Z" fill="#ff8810" stroke="#ff8810"/>
<path d="M159.38 536.38L159.38 545.69A9.31 9.31 0 0 1 154.73 544.44Z" fill="#ff2810" stroke="#ff2810"/>
<path d="M159.38 536.38L154.73 544.44A9.31 9.31 0 0 1 151.32 541.03Z" fill="#ff2810" stroke="#ff2810"/>
<path d="M159.38 536.38L151.32 541.03A9.31 9.31 0 0 1 150.07 536.38Z" fill="#ff2810" stroke="#ff2810"/>
<path d="M159.38 536.38L150.07 536.38A9.31 9.31 0 0 1 151.32 531.73Z" fill="#a0f020" stroke="#a0f020"/>
<path d="M159.38 536.38L151.32 531.73A9.31 9.31 0 0 1 154.73 528.32Z" fill="#50b8ff" stroke="#50b8ff"/>
<path d="M159.38 536.38L154.73 528.32A9.31 9.31 0 0 1 159.38 527.07Z" fill="#62f070" stroke="#62f070"/>
</g>
<path d="M113.5 397.5L113.5 443.5M113.5 397.5L159.5 397.5M113.5 443.5L113.5 490.5M113.5 443.5L159.5 443.5M113.5 582.5L113.5 629.5M113.5 629.5L113.5 675.5M113.5 629.5L159.5 629.5M113.5 675.5L159.5 675.5M159.5 397.5L159.5 443.5M159.5 397.5L205.5 397.5M159.5 443.5L205.5 443.5M159.5 629.5L159.5 675.5M159.5 629.5L205.5 629.5M159.5 675.5L205.5 675.5M20.5 490.5L20.5 536.5M20.5 490.5L66.5 490.5M20.5 536.5L20.5 582.5M20.5 536.5L66.5 536.5M20.5 582.5L66.5 582.5M205.5 397.5L205.5 443.5M205.5 443.5L205.5 490.5M205.5 443.5L252.5 443.5M205.5 490.5L252.5 490.5M205.5 582.5L205.5 629.5M205.5 582.5L252.5 582.5M205.5 629.5L205.5 675.5M205.5 629.5L252.5 629.5M252.5 443.5L252.5 490.5M252.5 490.5L252.5 536.5M252.5 490.5L298.5 490.5M252.5 536.5L252.5 582.5M252.5 536.5L298.5 536.5M252.5 582.5L252.5 629.5M252.5 582.5L298.5 582.5M298.5 490.5L298.5 536.5M298.5 536.5L298.5 582.5M66.5 443.5L113.5 443.5M66.5 443.5L66.5 490.5M66.5 490.5L113.5 490.5M66.5 490.5L66.5 536.5M66.5 536.5L66.5 582.5M66.5 582.5L113.5 582.5M66.5 582.5L66.5 629.5M66.5 629.5L113.5 629.5" class="bx"/>
<path d="M128.41 443.46v-1.0M128.41 397v1.0M143.89 443.46v-1.0M143.89 397v1.0M112.92 441.26h0.9M159.38 441.26h-0.9M112.92 438.98h0.9M159.38 438.98h-0.9M112.92 436.7h1.5M159.38 436.7h-1.5M112.92 434.42h0.9M159.38 434.42h-0.9M112.92 432.14h0.9M159.38 432.14h-0.9M112.92 429.86h0.9M159.38 429.86h-0.9M112.92 427.58h0.9M159.38 427.58h-0.9M112.92 425.3h1.5M159.38 425.3h-1.5M112.92 423.02h0.9M159.38 423.02h-0.9M112.92 420.74h0.9M159.38 420.74h-0.9M112.92 418.46h0.9M159.38 418.46h-0.9M112.92 416.18h0.9M159.38 416.18h-0.9M112.92 413.9h1.5M159.38 413.9h-1.5M112.92 411.62h0.9M159.38 411.62h-0.9M112.92 409.34h0.9M159.38 409.34h-0.9M112.92 407.06h0.9M159.38 407.06h-0.9M112.92 404.78h0.9M159.38 404.78h-0.9M112.92 402.5h1.5M159.38 402.5h-1.5M112.92 400.22h0.9M159.38 400.22h-0.9M112.92 397.94h0.9M159.38 397.94h-0.9" class="tk"/>
<path d="M116.79 436.7H155.51" class="zl"/>
<path d="M116.79 407.4V432.4M115.29 407.4h3M115.29 432.4h3M124.53 413V429.4M123.03 413h3M123.03 429.4h3M132.28 412.4V425.4M130.78 412.4h3M130.78 425.4h3M140.02 420.4V434.4M138.52 420.4h3M138.52 434.4h3M147.76 416.4V430.4M146.26 416.4h3M146.26 430.4h3M155.51 424V434M154.01 424h3M154.01 434h3" class="eb"/>
<clipPath id="cg345"><rect x="112.92" y="397" width="46.46" height="46.46"/></clipPath>
<g clip-path="url(#cg345)"><path d="M116.79 420L124.53 421L132.28 419L140.02 427.4L147.76 423.4L155.51 429" class="ln"/>
<path d="M116.04 419.25h1.5v1.5h-1.5zM123.78 420.25h1.5v1.5h-1.5zM131.53 418.25h1.5v1.5h-1.5zM139.27 426.65h1.5v1.5h-1.5zM147.01 422.65h1.5v1.5h-1.5zM154.76 428.25h1.5v1.5h-1.5z" class="mk"/></g>
<path d="M174.87 443.46v-1.0M174.87 397v1.0M190.35 443.46v-1.0M190.35 397v1.0M159.38 441.26h0.9M205.84 441.26h-0.9M159.38 438.98h0.9M205.84 438.98h-0.9M159.38 436.7h1.5M205.84 436.7h-1.5M159.38 434.42h0.9M205.84 434.42h-0.9M159.38 432.14h0.9M205.84 432.14h-0.9M159.38 429.86h0.9M205.84 429.86h-0.9M159.38 427.58h0.9M205.84 427.58h-0.9M159.38 425.3h1.5M205.84 425.3h-1.5M159.38 423.02h0.9M205.84 423.02h-0.9M159.38 420.74h0.9M205.84 420.74h-0.9M159.38 418.46h0.9M205.84 418.46h-0.9M159.38 416.18h0.9M205.84 416.18h-0.9M159.38 413.9h1.5M205.84 413.9h-1.5M159.38 411.62h0.9M205.84 411.62h-0.9M159.38 409.34h0.9M205.84 409.34h-0.9M159.38 407.06h0.9M205.84 407.06h-0.9M159.38 404.78h0.9M205.84 404.78h-0.9M159.38 402.5h1.5M205.84 402.5h-1.5M159.38 400.22h0.9M205.84 400.22h-0.9M159.38 397.94h0.9M205.84 397.94h-0.9" class="tk"/>
<path d="M163.25 436.7H201.97" class="zl"/>
<path d="M163.25 397.4V423M161.75 397.4h3M161.75 423h3M171 398.6V414.4M169.5 398.6h3M169.5 414.4h3M178.74 423V435.6M177.24 423h3M177.24 435.6h3M186.48 424.4V437.4M184.98 424.4h3M184.98 437.4h3M194.22 423.6V436.4M192.72 423.6h3M192.72 436.4h3M201.97 423.6V433.6M200.47 423.6h3M200.47 433.6h3" class="eb"/>
<clipPath id="cg15"><rect x="159.38" y="397" width="46.46" height="46.46"/></clipPath>
<g clip-path="url(#cg15)"><path d="M163.25 410.4L171 406.4L178.74 429.4L186.48 430.6L194.22 430L201.97 428.6" class="ln"/>
<path d="M162.5 409.65h1.5v1.5h-1.5zM170.25 405.65h1.5v1.5h-1.5zM177.99 428.65h1.5v1.5h-1.5zM185.73 429.85h1.5v1.5h-1.5zM193.47 429.25h1.5v1.5h-1.5zM201.22 427.85h1.5v1.5h-1.5z" class="mk"/></g>
<path d="M81.95 489.92v-1.0M81.95 443.46v1.0M97.43 489.92v-1.0M97.43 443.46v1.0M66.46 487.72h0.9M112.92 487.72h-0.9M66.46 485.44h0.9M112.92 485.44h-0.9M66.46 483.16h1.5M112.92 483.16h-1.5M66.46 480.88h0.9M112.92 480.88h-0.9M66.46 478.6h0.9M112.92 478.6h-0.9M66.46 476.32h0.9M112.92 476.32h-0.9M66.46 474.04h0.9M112.92 474.04h-0.9M66.46 471.76h1.5M112.92 471.76h-1.5M66.46 469.48h0.9M112.92 469.48h-0.9M66.46 467.2h0.9M112.92 467.2h-0.9M66.46 464.92h0.9M112.92 464.92h-0.9M66.46 462.64h0.9M112.92 462.64h-0.9M66.46 460.36h1.5M112.92 460.36h-1.5M66.46 458.08h0.9M112.92 458.08h-0.9M66.46 455.8h0.9M112.92 455.8h-0.9M66.46 453.52h0.9M112.92 453.52h-0.9M66.46 451.24h0.9M112.92 451.24h-0.9M66.46 448.96h1.5M112.92 448.96h-1.5M66.46 446.68h0.9M112.92 446.68h-0.9M66.46 444.4h0.9M112.92 444.4h-0.9" class="tk"/>
<path d="M70.33 483.16H109.05" class="zl"/>
<path d="M70.33 459V483.4M68.83 459h3M68.83 483.4h3M78.08 457.4V473.4M76.58 457.4h3M76.58 473.4h3M85.82 451.4V464M84.32 451.4h3M84.32 464h3M93.56 465.4V477.4M92.06 465.4h3M92.06 477.4h3M101.31 458.6V470.6M99.81 458.6h3M99.81 470.6h3M109.05 456.6V469M107.55 456.6h3M107.55 469h3" class="eb"/>
<clipPath id="cg315"><rect x="66.46" y="443.46" width="46.46" height="46.46"/></clipPath>
<g clip-path="url(#cg315)"><path d="M70.33 471.4L78.08 465.4L85.82 457.6L93.56 471.4L101.31 464.6L109.05 463" class="ln"/>
<path d="M69.58 470.65h1.5v1.5h-1.5zM77.33 464.65h1.5v1.5h-1.5zM85.07 456.85h1.5v1.5h-1.5zM92.81 470.65h1.5v1.5h-1.5zM100.56 463.85h1.5v1.5h-1.5zM108.3 462.25h1.5v1.5h-1.5z" class="mk"/></g>
<path d="M221.33 489.92v-1.0M221.33 443.46v1.0M236.81 489.92v-1.0M236.81 443.46v1.0M205.84 487.72h0.9M252.3 487.72h-0.9M205.84 485.44h0.9M252.3 485.44h-0.9M205.84 483.16h1.5M252.3 483.16h-1.5M205.84 480.88h0.9M252.3 480.88h-0.9M205.84 478.6h0.9M252.3 478.6h-0.9M205.84 476.32h0.9M252.3 476.32h-0.9M205.84 474.04h0.9M252.3 474.04h-0.9M205.84 471.76h1.5M252.3 471.76h-1.5M205.84 469.48h0.9M252.3 469.48h-0.9M205.84 467.2h0.9M252.3 467.2h-0.9M205.84 464.92h0.9M252.3 464.92h-0.9M205.84 462.64h0.9M252.3 462.64h-0.9M205.84 460.36h1.5M252.3 460.36h-1.5M205.84 458.08h0.9M252.3 458.08h-0.9M205.84 455.8h0.9M252.3 455.8h-0.9M205.84 453.52h0.9M252.3 453.52h-0.9M205.84 451.24h0.9M252.3 451.24h-0.9M205.84 448.96h1.5M252.3 448.96h-1.5M205.84 446.68h0.9M252.3 446.68h-0.9M205.84 444.4h0.9M252.3 444.4h-0.9" class="tk"/>
<path d="M209.71 483.16H248.43" class="zl"/>
<path d="M209.71 443.46V467M208.21 467h3M217.46 461V476.4M215.96 461h3M215.96 476.4h3M225.2 470.4V482.6M223.7 470.4h3M223.7 482.6h3M232.94 462.4V473.6M231.44 462.4h3M231.44 473.6h3M240.69 454V465M239.19 454h3M239.19 465h3M248.43 464V474.6M246.93 464h3M246.93 474.6h3" class="eb"/>
<clipPath id="cg45"><rect x="205.84" y="443.46" width="46.46" height="46.46"/></clipPath>
<g clip-path="url(#cg45)"><path d="M209.71 455L217.46 468.6L225.2 476.4L232.94 468L240.69 459.4L248.43 469.4" class="ln"/>
<path d="M208.96 454.25h1.5v1.5h-1.5zM216.71 467.85h1.5v1.5h-1.5zM224.45 475.65h1.5v1.5h-1.5zM232.19 467.25h1.5v1.5h-1.5zM239.94 458.65h1.5v1.5h-1.5zM247.68 468.65h1.5v1.5h-1.5z" class="mk"/></g>
<path d="M35.49 536.38v-1.0M35.49 489.92v1.0M50.97 536.38v-1.0M50.97 489.92v1.0M20 534.18h0.9M66.46 534.18h-0.9M20 531.9h0.9M66.46 531.9h-0.9M20 529.62h1.5M66.46 529.62h-1.5M20 527.34h0.9M66.46 527.34h-0.9M20 525.06h0.9M66.46 525.06h-0.9M20 522.78h0.9M66.46 522.78h-0.9M20 520.5h0.9M66.46 520.5h-0.9M20 518.22h1.5M66.46 518.22h-1.5M20 515.94h0.9M66.46 515.94h-0.9M20 513.66h0.9M66.46 513.66h-0.9M20 511.38h0.9M66.46 511.38h-0.9M20 509.1h0.9M66.46 509.1h-0.9M20 506.82h1.5M66.46 506.82h-1.5M20 504.54h0.9M66.46 504.54h-0.9M20 502.26h0.9M66.46 502.26h-0.9M20 499.98h0.9M66.46 499.98h-0.9M20 497.7h0.9M66.46 497.7h-0.9M20 495.42h1.5M66.46 495.42h-1.5M20 493.14h0.9M66.46 493.14h-0.9M20 490.86h0.9M66.46 490.86h-0.9" class="tk"/>
<path d="M23.87 529.62H62.59" class="zl"/>
<path d="M23.87 489.92V515M22.37 515h3M31.62 510.4V527M30.12 510.4h3M30.12 527h3M39.36 517.6V531.4M37.86 517.6h3M37.86 531.4h3M47.1 514.4V525.6M45.6 514.4h3M45.6 525.6h3M54.84 507.4V517.4M53.34 507.4h3M53.34 517.4h3M62.59 506.4V516M61.09 506.4h3M61.09 516h3" class="eb"/>
<clipPath id="cg285"><rect x="20" y="489.92" width="46.46" height="46.46"/></clipPath>
<g clip-path="url(#cg285)"><path d="M23.87 501.6L31.62 518.6L39.36 524.4L47.1 520L54.84 512.4L62.59 511" class="ln"/>
<path d="M23.12 500.85h1.5v1.5h-1.5zM30.87 517.85h1.5v1.5h-1.5zM38.61 523.65h1.5v1.5h-1.5zM46.35 519.25h1.5v1.5h-1.5zM54.09 511.65h1.5v1.5h-1.5zM61.84 510.25h1.5v1.5h-1.5z" class="mk"/></g>
<path d="M267.79 536.38v-1.0M267.79 489.92v1.0M283.27 536.38v-1.0M283.27 489.92v1.0M252.3 534.18h0.9M298.76 534.18h-0.9M252.3 531.9h0.9M298.76 531.9h-0.9M252.3 529.62h1.5M298.76 529.62h-1.5M252.3 527.34h0.9M298.76 527.34h-0.9M252.3 525.06h0.9M298.76 525.06h-0.9M252.3 522.78h0.9M298.76 522.78h-0.9M252.3 520.5h0.9M298.76 520.5h-0.9M252.3 518.22h1.5M298.76 518.22h-1.5M252.3 515.94h0.9M298.76 515.94h-0.9M252.3 513.66h0.9M298.76 513.66h-0.9M252.3 511.38h0.9M298.76 511.38h-0.9M252.3 509.1h0.9M298.76 509.1h-0.9M252.3 506.82h1.5M298.76 506.82h-1.5M252.3 504.54h0.9M298.76 504.54h-0.9M252.3 502.26h0.9M298.76 502.26h-0.9M252.3 499.98h0.9M298.76 499.98h-0.9M252.3 497.7h0.9M298.76 497.7h-0.9M252.3 495.42h1.5M298.76 495.42h-1.5M252.3 493.14h0.9M298.76 493.14h-0.9M252.3 490.86h0.9M298.76 490.86h-0.9" class="tk"/>
<path d="M256.17 529.62H294.89" class="zl"/>
<path d="M256.17 489.92V504.6M254.67 504.6h3M263.92 516V530.4M262.42 516h3M262.42 530.4h3M271.66 494.4V506.4M270.16 494.4h3M270.16 506.4h3M279.4 517.4V527.6M277.9 517.4h3M277.9 527.6h3M287.14 516.4V525.6M285.64 516.4h3M285.64 525.6h3M294.89 516V525M293.39 516h3M293.39 525h3" class="eb"/>
<clipPath id="cg75"><rect x="252.3" y="489.92" width="46.46" height="46.46"/></clipPath>
<g clip-path="url(#cg75)"><path d="M256.17 492.6L263.92 523L271.66 500.4L279.4 522.4L287.14 521L294.89 520.4" class="ln"/>
<path d="M255.42 491.85h1.5v1.5h-1.5zM263.17 522.25h1.5v1.5h-1.5zM270.91 499.65h1.5v1.5h-1.5zM278.65 521.65h1.5v1.5h-1.5zM286.39 520.25h1.5v1.5h-1.5zM294.14 519.65h1.5v1.5h-1.5z" class="mk"/></g>
<path d="M35.49 582.84v-1.0M35.49 536.38v1.0M50.97 582.84v-1.0M50.97 536.38v1.0M20 580.64h0.9M66.46 580.64h-0.9M20 578.36h0.9M66.46 578.36h-0.9M20 576.08h1.5M66.46 576.08h-1.5M20 573.8h0.9M66.46 573.8h-0.9M20 571.52h0.9M66.46 571.52h-0.9M20 569.24h0.9M66.46 569.24h-0.9M20 566.96h0.9M66.46 566.96h-0.9M20 564.68h1.5M66.46 564.68h-1.5M20 562.4h0.9M66.46 562.4h-0.9M20 560.12h0.9M66.46 560.12h-0.9M20 557.84h0.9M66.46 557.84h-0.9M20 555.56h0.9M66.46 555.56h-0.9M20 553.28h1.5M66.46 553.28h-1.5M20 551h0.9M66.46 551h-0.9M20 548.72h0.9M66.46 548.72h-0.9M20 546.44h0.9M66.46 546.44h-0.9M20 544.16h0.9M66.46 544.16h-0.9M20 541.88h1.5M66.46 541.88h-1.5M20 539.6h0.9M66.46 539.6h-0.9M20 537.32h0.9M66.46 537.32h-0.9" class="tk"/>
<path d="M23.87 576.08H62.59" class="zl"/>
<path d="M23.87 536.38V544M22.37 544h3M31.62 540.6V556.4M30.12 540.6h3M30.12 556.4h3M39.36 552.4V566.4M37.86 552.4h3M37.86 566.4h3M47.1 556.4V567.4M45.6 556.4h3M45.6 567.4h3M54.84 545.4V555.4M53.34 545.4h3M53.34 555.4h3M62.59 545.6V555.6M61.09 545.6h3M61.09 555.6h3" class="eb"/>
<clipPath id="cg255"><rect x="20" y="536.38" width="46.46" height="46.46"/></clipPath>
<g clip-path="url(#cg255)"><path d="M23.87 529L31.62 548.4L39.36 559.4L47.1 562L54.84 550.4L62.59 550.6" class="ln"/>
<path d="M23.12 528.25h1.5v1.5h-1.5zM30.87 547.65h1.5v1.5h-1.5zM38.61 558.65h1.5v1.5h-1.5zM46.35 561.25h1.5v1.5h-1.5zM54.09 549.65h1.5v1.5h-1.5zM61.84 549.85h1.5v1.5h-1.5z" class="mk"/></g>
<path d="M267.79 582.84v-1.0M267.79 536.38v1.0M283.27 582.84v-1.0M283.27 536.38v1.0M252.3 580.64h0.9M298.76 580.64h-0.9M252.3 578.36h0.9M298.76 578.36h-0.9M252.3 576.08h1.5M298.76 576.08h-1.5M252.3 573.8h0.9M298.76 573.8h-0.9M252.3 571.52h0.9M298.76 571.52h-0.9M252.3 569.24h0.9M298.76 569.24h-0.9M252.3 566.96h0.9M298.76 566.96h-0.9M252.3 564.68h1.5M298.76 564.68h-1.5M252.3 562.4h0.9M298.76 562.4h-0.9M252.3 560.12h0.9M298.76 560.12h-0.9M252.3 557.84h0.9M298.76 557.84h-0.9M252.3 555.56h0.9M298.76 555.56h-0.9M252.3 553.28h1.5M298.76 553.28h-1.5M252.3 551h0.9M298.76 551h-0.9M252.3 548.72h0.9M298.76 548.72h-0.9M252.3 546.44h0.9M298.76 546.44h-0.9M252.3 544.16h0.9M298.76 544.16h-0.9M252.3 541.88h1.5M298.76 541.88h-1.5M252.3 539.6h0.9M298.76 539.6h-0.9M252.3 537.32h0.9M298.76 537.32h-0.9" class="tk"/>
<path d="M256.17 576.08H294.89" class="zl"/>
<path d="M263.92 547.4V562.4M262.42 547.4h3M262.42 562.4h3M271.66 550.6V562.4M270.16 550.6h3M270.16 562.4h3M279.4 552V563.4M277.9 552h3M277.9 563.4h3M287.14 552V561.4M285.64 552h3M285.64 561.4h3M294.89 561.4V569.6M293.39 561.4h3M293.39 569.6h3" class="eb"/>
<clipPath id="cg105"><rect x="252.3" y="536.38" width="46.46" height="46.46"/></clipPath>
<g clip-path="url(#cg105)"><path d="M256.17 523.4L263.92 555L271.66 556.6L279.4 557.6L287.14 556.6L294.89 565.4" class="ln"/>
<path d="M255.42 522.65h1.5v1.5h-1.5zM263.17 554.25h1.5v1.5h-1.5zM270.91 555.85h1.5v1.5h-1.5zM278.65 556.85h1.5v1.5h-1.5zM286.39 555.85h1.5v1.5h-1.5zM294.14 564.65h1.5v1.5h-1.5z" class="mk"/></g>
<path d="M81.95 629.3v-1.0M81.95 582.84v1.0M97.43 629.3v-1.0M97.43 582.84v1.0M66.46 627.1h0.9M112.92 627.1h-0.9M66.46 624.82h0.9M112.92 624.82h-0.9M66.46 622.54h1.5M112.92 622.54h-1.5M66.46 620.26h0.9M112.92 620.26h-0.9M66.46 617.98h0.9M112.92 617.98h-0.9M66.46 615.7h0.9M112.92 615.7h-0.9M66.46 613.42h0.9M112.92 613.42h-0.9M66.46 611.14h1.5M112.92 611.14h-1.5M66.46 608.86h0.9M112.92 608.86h-0.9M66.46 606.58h0.9M112.92 606.58h-0.9M66.46 604.3h0.9M112.92 604.3h-0.9M66.46 602.02h0.9M112.92 602.02h-0.9M66.46 599.74h1.5M112.92 599.74h-1.5M66.46 597.46h0.9M112.92 597.46h-0.9M66.46 595.18h0.9M112.92 595.18h-0.9M66.46 592.9h0.9M112.92 592.9h-0.9M66.46 590.62h0.9M112.92 590.62h-0.9M66.46 588.34h1.5M112.92 588.34h-1.5M66.46 586.06h0.9M112.92 586.06h-0.9M66.46 583.78h0.9M112.92 583.78h-0.9" class="tk"/>
<path d="M70.33 622.54H109.05" class="zl"/>
<path d="M70.33 582.84V596M68.83 596h3M78.08 602.6V618.6M76.58 602.6h3M76.58 618.6h3M85.82 582.84V591M84.32 591h3M93.56 582.84V595M92.06 595h3M101.31 596.6V610M99.81 596.6h3M99.81 610h3M109.05 618.6V629.3M107.55 618.6h3" class="eb"/>
<clipPath id="cg225"><rect x="66.46" y="582.84" width="46.46" height="46.46"/></clipPath>
<g clip-path="url(#cg225)"><path d="M70.33 583L78.08 610.6L85.82 584.4L93.56 588.6L101.31 603.4L109.05 623.6" class="ln"/>
<path d="M69.58 582.25h1.5v1.5h-1.5zM77.33 609.85h1.5v1.5h-1.5zM85.07 583.65h1.5v1.5h-1.5zM92.81 587.85h1.5v1.5h-1.5zM100.56 602.65h1.5v1.5h-1.5zM108.3 622.85h1.5v1.5h-1.5z" class="mk"/></g>
<path d="M221.33 629.3v-1.0M221.33 582.84v1.0M236.81 629.3v-1.0M236.81 582.84v1.0M205.84 627.1h0.9M252.3 627.1h-0.9M205.84 624.82h0.9M252.3 624.82h-0.9M205.84 622.54h1.5M252.3 622.54h-1.5M205.84 620.26h0.9M252.3 620.26h-0.9M205.84 617.98h0.9M252.3 617.98h-0.9M205.84 615.7h0.9M252.3 615.7h-0.9M205.84 613.42h0.9M252.3 613.42h-0.9M205.84 611.14h1.5M252.3 611.14h-1.5M205.84 608.86h0.9M252.3 608.86h-0.9M205.84 606.58h0.9M252.3 606.58h-0.9M205.84 604.3h0.9M252.3 604.3h-0.9M205.84 602.02h0.9M252.3 602.02h-0.9M205.84 599.74h1.5M252.3 599.74h-1.5M205.84 597.46h0.9M252.3 597.46h-0.9M205.84 595.18h0.9M252.3 595.18h-0.9M205.84 592.9h0.9M252.3 592.9h-0.9M205.84 590.62h0.9M252.3 590.62h-0.9M205.84 588.34h1.5M252.3 588.34h-1.5M205.84 586.06h0.9M252.3 586.06h-0.9M205.84 583.78h0.9M252.3 583.78h-0.9" class="tk"/>
<path d="M209.71 622.54H248.43" class="zl"/>
<path d="M209.71 582.84V592.4M208.21 592.4h3M217.46 603.4V618M215.96 603.4h3M215.96 618h3M225.2 604.4V616.4M223.7 604.4h3M223.7 616.4h3M232.94 609.6V620.4M231.44 609.6h3M231.44 620.4h3M240.69 594V606M239.19 594h3M239.19 606h3M248.43 608.4V618.4M246.93 608.4h3M246.93 618.4h3" class="eb"/>
<clipPath id="cg135"><rect x="205.84" y="582.84" width="46.46" height="46.46"/></clipPath>
<g clip-path="url(#cg135)"><path d="M209.71 581L217.46 610.6L225.2 610.4L232.94 615L240.69 600L248.43 613.4" class="ln"/>
<path d="M208.96 580.25h1.5v1.5h-1.5zM216.71 609.85h1.5v1.5h-1.5zM224.45 609.65h1.5v1.5h-1.5zM232.19 614.25h1.5v1.5h-1.5zM239.94 599.25h1.5v1.5h-1.5zM247.68 612.65h1.5v1.5h-1.5z" class="mk"/></g>
<path d="M128.41 675.76v-1.0M128.41 629.3v1.0M143.89 675.76v-1.0M143.89 629.3v1.0M112.92 673.56h0.9M159.38 673.56h-0.9M112.92 671.28h0.9M159.38 671.28h-0.9M112.92 669h1.5M159.38 669h-1.5M112.92 666.72h0.9M159.38 666.72h-0.9M112.92 664.44h0.9M159.38 664.44h-0.9M112.92 662.16h0.9M159.38 662.16h-0.9M112.92 659.88h0.9M159.38 659.88h-0.9M112.92 657.6h1.5M159.38 657.6h-1.5M112.92 655.32h0.9M159.38 655.32h-0.9M112.92 653.04h0.9M159.38 653.04h-0.9M112.92 650.76h0.9M159.38 650.76h-0.9M112.92 648.48h0.9M159.38 648.48h-0.9M112.92 646.2h1.5M159.38 646.2h-1.5M112.92 643.92h0.9M159.38 643.92h-0.9M112.92 641.64h0.9M159.38 641.64h-0.9M112.92 639.36h0.9M159.38 639.36h-0.9M112.92 637.08h0.9M159.38 637.08h-0.9M112.92 634.8h1.5M159.38 634.8h-1.5M112.92 632.52h0.9M159.38 632.52h-0.9M112.92 630.24h0.9M159.38 630.24h-0.9" class="tk"/>
<path d="M116.79 669H155.51" class="zl"/>
<path d="M116.79 629.3V641M115.29 641h3M124.53 650.4V666M123.03 650.4h3M123.03 666h3M132.28 653.4V667.4M130.78 653.4h3M130.78 667.4h3M140.02 639.4V654M138.52 639.4h3M138.52 654h3M147.76 655.4V666M146.26 655.4h3M146.26 666h3M155.51 663.6V670.4M154.01 663.6h3M154.01 670.4h3" class="eb"/>
<clipPath id="cg195"><rect x="112.92" y="629.3" width="46.46" height="46.46"/></clipPath>
<g clip-path="url(#cg195)"><path d="M116.79 629.6L124.53 658L132.28 660.4L140.02 646.6L147.76 660.6L155.51 667" class="ln"/>
<path d="M116.04 628.85h1.5v1.5h-1.5zM123.78 657.25h1.5v1.5h-1.5zM131.53 659.65h1.5v1.5h-1.5zM139.27 645.85h1.5v1.5h-1.5zM147.01 659.85h1.5v1.5h-1.5zM154.76 666.25h1.5v1.5h-1.5z" class="mk"/></g>
<path d="M174.87 675.76v-1.0M174.87 629.3v1.0M190.35 675.76v-1.0M190.35 629.3v1.0M159.38 673.56h0.9M205.84 673.56h-0.9M159.38 671.28h0.9M205.84 671.28h-0.9M159.38 669h1.5M205.84 669h-1.5M159.38 666.72h0.9M205.84 666.72h-0.9M159.38 664.44h0.9M205.84 664.44h-0.9M159.38 662.16h0.9M205.84 662.16h-0.9M159.38 659.88h0.9M205.84 659.88h-0.9M159.38 657.6h1.5M205.84 657.6h-1.5M159.38 655.32h0.9M205.84 655.32h-0.9M159.38 653.04h0.9M205.84 653.04h-0.9M159.38 650.76h0.9M205.84 650.76h-0.9M159.38 648.48h0.9M205.84 648.48h-0.9M159.38 646.2h1.5M205.84 646.2h-1.5M159.38 643.92h0.9M205.84 643.92h-0.9M159.38 641.64h0.9M205.84 641.64h-0.9M159.38 639.36h0.9M205.84 639.36h-0.9M159.38 637.08h0.9M205.84 637.08h-0.9M159.38 634.8h1.5M205.84 634.8h-1.5M159.38 632.52h0.9M205.84 632.52h-0.9M159.38 630.24h0.9M205.84 630.24h-0.9" class="tk"/>
<path d="M163.25 669H201.97" class="zl"/>
<path d="M163.25 629.3V646M161.75 646h3M171 648.4V664M169.5 648.4h3M169.5 664h3M178.74 636.6V650.4M177.24 636.6h3M177.24 650.4h3M186.48 632V645.6M184.98 632h3M184.98 645.6h3M194.22 649.4V659.4M192.72 649.4h3M192.72 659.4h3M201.97 660.4V667M200.47 660.4h3M200.47 667h3" class="eb"/>
<clipPath id="cg165"><rect x="159.38" y="629.3" width="46.46" height="46.46"/></clipPath>
<g clip-path="url(#cg165)"><path d="M163.25 633L171 656L178.74 643.4L186.48 638.6L194.22 654.4L201.97 663.6" class="ln"/>
<path d="M162.5 632.25h1.5v1.5h-1.5zM170.25 655.25h1.5v1.5h-1.5zM177.99 642.65h1.5v1.5h-1.5zM185.73 637.85h1.5v1.5h-1.5zM193.47 653.65h1.5v1.5h-1.5zM201.22 662.85h1.5v1.5h-1.5z" class="mk"/></g>
<text x="136.15" y="395.5" class="bt">345°</text>
<text x="112.92" y="403.9" class="yl y2">1.5•10<tspan dy="-1" font-size="2.3">4</tspan></text>
<text x="112.92" y="415.3" class="yl y2">1.0•10<tspan dy="-1" font-size="2.3">4</tspan></text>
<text x="112.92" y="426.7" class="yl y2">5.0•10<tspan dy="-1" font-size="2.3">3</tspan></text>
<text x="112.92" y="438.1" class="yl y2">0</text>
<text x="128.41" y="447.66" class="xl">10</text>
<text x="143.89" y="447.66" class="xl">20</text>
<text x="182.61" y="395.5" class="bt">15°</text>
<text x="159.38" y="447.66" class="xl">0</text>
<text x="174.87" y="447.66" class="xl">10</text>
<text x="190.35" y="447.66" class="xl">20</text>
<text x="89.69" y="441.96" class="bt">315°</text>
<text x="66.46" y="450.36" class="yl y2">1.5•10<tspan dy="-1" font-size="2.3">4</tspan></text>
<text x="66.46" y="461.76" class="yl y2">1.0•10<tspan dy="-1" font-size="2.3">4</tspan></text>
<text x="66.46" y="473.16" class="yl y2">5.0•10<tspan dy="-1" font-size="2.3">3</tspan></text>
<text x="66.46" y="484.56" class="yl y2">0</text>
<text x="81.95" y="495.12" class="xl">10</text>
<text x="97.43" y="495.12" class="xl">20</text>
<text x="112.92" y="495.12" class="xl">30</text>
<text x="229.07" y="441.96" class="bt">45°</text>
<text x="205.84" y="450.36" class="yl y2">1.5•10<tspan dy="-1" font-size="2.3">4</tspan></text>
<text x="205.84" y="461.76" class="yl y2">1.0•10<tspan dy="-1" font-size="2.3">4</tspan></text>
<text x="205.84" y="473.16" class="yl y2">5.0•10<tspan dy="-1" font-size="2.3">3</tspan></text>
<text x="205.84" y="484.56" class="yl y2">0</text>
<text x="205.84" y="495.12" class="xl">0</text>
<text x="221.33" y="495.12" class="xl">10</text>
<text x="236.81" y="495.12" class="xl">20</text>
<text x="43.23" y="488.42" class="bt">285°</text>
<text x="20" y="496.82" class="yl y2">1.5•10<tspan dy="-1" font-size="2.3">4</tspan></text>
<text x="20" y="508.22" class="yl y2">1.0•10<tspan dy="-1" font-size="2.3">4</tspan></text>
<text x="20" y="519.62" class="yl y2">5.0•10<tspan dy="-1" font-size="2.3">3</tspan></text>
<text x="20" y="531.02" class="yl y2">0</text>
<text x="275.53" y="488.42" class="bt">75°</text>
<text x="252.3" y="496.82" class="yl y2">1.5•10<tspan dy="-1" font-size="2.3">4</tspan></text>
<text x="252.3" y="508.22" class="yl y2">1.0•10<tspan dy="-1" font-size="2.3">4</tspan></text>
<text x="252.3" y="519.62" class="yl y2">5.0•10<tspan dy="-1" font-size="2.3">3</tspan></text>
<text x="252.3" y="531.02" class="yl y2">0</text>
<text x="20" y="543.28" class="yl y2">1.5•10<tspan dy="-1" font-size="2.3">4</tspan></text>
<text x="20" y="554.68" class="yl y2">1.0•10<tspan dy="-1" font-size="2.3">4</tspan></text>
<text x="20" y="566.08" class="yl y2">5.0•10<tspan dy="-1" font-size="2.3">3</tspan></text>
<text x="20" y="577.48" class="yl y2">0</text>
<text x="20" y="588.04" class="xl">0</text>
<text x="35.49" y="588.04" class="xl">10</text>
<text x="50.97" y="588.04" class="xl">20</text>
<text x="252.3" y="543.28" class="yl y2">1.5•10<tspan dy="-1" font-size="2.3">4</tspan></text>
<text x="252.3" y="554.68" class="yl y2">1.0•10<tspan dy="-1" font-size="2.3">4</tspan></text>
<text x="252.3" y="566.08" class="yl y2">5.0•10<tspan dy="-1" font-size="2.3">3</tspan></text>
<text x="252.3" y="577.48" class="yl y2">0</text>
<text x="252.3" y="588.04" class="xl">0</text>
<text x="267.79" y="588.04" class="xl">10</text>
<text x="283.27" y="588.04" class="xl">20</text>
<text x="298.76" y="588.04" class="xl">30</text>
<text x="89.69" y="581.34" class="bt">225°</text>
<text x="66.46" y="589.74" class="yl y2">1.5•10<tspan dy="-1" font-size="2.3">4</tspan></text>
<text x="66.46" y="601.14" class="yl y2">1.0•10<tspan dy="-1" font-size="2.3">4</tspan></text>
<text x="66.46" y="612.54" class="yl y2">5.0•10<tspan dy="-1" font-size="2.3">3</tspan></text>
<text x="66.46" y="623.94" class="yl y2">0</text>
<text x="66.46" y="634.5" class="xl">0</text>
<text x="81.95" y="634.5" class="xl">10</text>
<text x="97.43" y="634.5" class="xl">20</text>
<text x="229.07" y="581.34" class="bt">135°</text>
<text x="205.84" y="589.74" class="yl y2">1.5•10<tspan dy="-1" font-size="2.3">4</tspan></text>
<text x="205.84" y="601.14" class="yl y2">1.0•10<tspan dy="-1" font-size="2.3">4</tspan></text>
<text x="205.84" y="612.54" class="yl y2">5.0•10<tspan dy="-1" font-size="2.3">3</tspan></text>
<text x="205.84" y="623.94" class="yl y2">0</text>
<text x="221.33" y="634.5" class="xl">10</text>
<text x="236.81" y="634.5" class="xl">20</text>
<text x="252.3" y="634.5" class="xl">30</text>
<text x="136.15" y="627.8" class="bt">195°</text>
<text x="112.92" y="636.2" class="yl y2">1.5•10<tspan dy="-1" font-size="2.3">4</tspan></text>
<text x="112.92" y="647.6" class="yl y2">1.0•10<tspan dy="-1" font-size="2.3">4</tspan></text>
<text x="112.92" y="659" class="yl y2">5.0•10<tspan dy="-1" font-size="2.3">3</tspan></text>
<text x="112.92" y="670.4" class="yl y2">0</text>
<text x="112.92" y="680.96" class="xl">0</text>
<text x="128.41" y="680.96" class="xl">10</text>
<text x="143.89" y="680.96" class="xl">20</text>
<text x="182.61" y="627.8" class="bt">165°</text>
<text x="159.38" y="680.96" class="xl">0</text>
<text x="174.87" y="680.96" class="xl">10</text>
<text x="190.35" y="680.96" class="xl">20</text>
<text x="205.84" y="680.96" class="xl">30</text>
<rect x="39.25" y="690.6" width="14.2" height="14.9" fill="#0a0a0a" shape-rendering="crispEdges"/>
<rect x="53.15" y="690.6" width="14.2" height="14.9" fill="#0a0a0a" shape-rendering="crispEdges"/>
<rect x="67.05" y="690.6" width="14.2" height="14.9" fill="#3832f6" shape-rendering="crispEdges"/>
<rect x="80.95" y="690.6" width="14.2" height="14.9" fill="#1e3af8" shape-rendering="crispEdges"/>
<rect x="94.85" y="690.6" width="14.2" height="14.9" fill="#2442f8" shape-rendering="crispEdges"/>
<rect x="108.75" y="690.6" width="14.2" height="14.9" fill="#3d80f0" shape-rendering="crispEdges"/>
<rect x="122.65" y="690.6" width="14.2" height="14.9" fill="#66eef0" shape-rendering="crispEdges"/>
<rect x="136.55" y="690.6" width="14.2" height="14.9" fill="#78f5b4" shape-rendering="crispEdges"/>
<rect x="150.45" y="690.6" width="14.2" height="14.9" fill="#58f040" shape-rendering="crispEdges"/>
<rect x="164.35" y="690.6" width="14.2" height="14.9" fill="#58ee10" shape-rendering="crispEdges"/>
<rect x="178.25" y="690.6" width="14.2" height="14.9" fill="#58ee10" shape-rendering="crispEdges"/>
<rect x="192.15" y="690.6" width="14.2" height="14.9" fill="#68ee20" shape-rendering="crispEdges"/>
<rect x="206.05" y="690.6" width="14.2" height="14.9" fill="#a0f020" shape-rendering="crispEdges"/>
<rect x="219.95" y="690.6" width="14.2" height="14.9" fill="#f0fc28" shape-rendering="crispEdges"/>
<rect x="233.85" y="690.6" width="14.2" height="14.9" fill="#ff8810" shape-rendering="crispEdges"/>
<rect x="247.75" y="690.6" width="14.2" height="14.9" fill="#ff2810" shape-rendering="crispEdges"/>
<rect x="261.65" y="690.6" width="19.15" height="14.9" fill="#ffffff" shape-rendering="crispEdges"/>
<rect x="39.25" y="690.6" width="241.25" height="14.9" class="cbx"/>
<text x="83.4" y="713.2" class="cl">0</text>
<text x="116.4" y="713.2" class="cl">5.0•10<tspan dy="-1.9" font-size="3.8">3</tspan></text>
<text x="149.4" y="713.2" class="cl">1.0•10<tspan dy="-1.9" font-size="3.8">4</tspan></text>
<text x="182.4" y="713.2" class="cl">1.5•10<tspan dy="-1.9" font-size="3.8">4</tspan></text>
<text x="215.4" y="713.2" class="cl">2.0•10<tspan dy="-1.9" font-size="3.8">4</tspan></text>
<text x="248.4" y="713.2" class="cl">2.5•10<tspan dy="-1.9" font-size="3.8">4</tspan></text>
<text x="281.4" y="713.2" class="cl">3.0•10<tspan dy="-1.9" font-size="3.8">4</tspan></text>
<text x="168.8" y="719.6" class="cu">I[LU]</text>
<text x="136.15" y="451.56" class="xl">r [arcsec]</text>
<text transform="translate(98.72 420.23) rotate(-90)" class="xl">I[LU]</text>
<text x="156" y="382" class="ti">4974−4982A</text>
<text x="169.5" y="734.3" class="tg">(g)</text>
</g>
<g id="panel-h">
<g stroke-width="0.7" stroke-linejoin="round">
<path d="M459.96 535.36L459.96 480.11A55.25 55.25 0 0 1 487.59 487.51Z" fill="#1e3af8" stroke="#1e3af8"/>
<path d="M459.96 535.36L487.59 487.51A55.25 55.25 0 0 1 507.81 507.74Z" fill="#50b8ff" stroke="#50b8ff"/>
<path d="M459.96 535.36L507.81 507.74A55.25 55.25 0 0 1 515.21 535.36Z" fill="#62f070" stroke="#62f070"/>
<path d="M459.96 535.36L515.21 535.36A55.25 55.25 0 0 1 507.81 562.99Z" fill="#3832f6" stroke="#3832f6"/>
<path d="M459.96 535.36L507.81 562.99A55.25 55.25 0 0 1 487.59 583.21Z" fill="#50b8ff" stroke="#50b8ff"/>
<path d="M459.96 535.36L487.59 583.21A55.25 55.25 0 0 1 459.96 590.61Z" fill="#1e3af8" stroke="#1e3af8"/>
<path d="M459.96 535.36L459.96 590.61A55.25 55.25 0 0 1 432.34 583.21Z" fill="#2c58f5" stroke="#2c58f5"/>
<path d="M459.96 535.36L432.34 583.21A55.25 55.25 0 0 1 412.11 562.99Z" fill="#0a0a0a" stroke="#0a0a0a"/>
<path d="M459.96 535.36L412.11 562.99A55.25 55.25 0 0 1 404.71 535.36Z" fill="#1e3af8" stroke="#1e3af8"/>
<path d="M459.96 535.36L404.71 535.36A55.25 55.25 0 0 1 412.11 507.74Z" fill="#1e3af8" stroke="#1e3af8"/>
<path d="M459.96 535.36L412.11 507.74A55.25 55.25 0 0 1 432.34 487.51Z" fill="#1e3af8" stroke="#1e3af8"/>
<path d="M459.96 535.36L432.34 487.51A55.25 55.25 0 0 1 459.96 480.11Z" fill="#3832f6" stroke="#3832f6"/>
<path d="M459.96 535.36L459.96 489.07A46.29 46.29 0 0 1 483.11 495.27Z" fill="#50b8ff" stroke="#50b8ff"/>
<path d="M459.96 535.36L483.11 495.27A46.29 46.29 0 0 1 500.05 512.21Z" fill="#58f210" stroke="#58f210"/>
<path d="M459.96 535.36L500.05 512.21A46.29 46.29 0 0 1 506.25 535.36Z" fill="#58f210" stroke="#58f210"/>
<path d="M459.96 535.36L506.25 535.36A46.29 46.29 0 0 1 500.05 558.51Z" fill="#62f070" stroke="#62f070"/>
<path d="M459.96 535.36L500.05 558.51A46.29 46.29 0 0 1 483.11 575.45Z" fill="#50b8ff" stroke="#50b8ff"/>
<path d="M459.96 535.36L483.11 575.45A46.29 46.29 0 0 1 459.96 581.65Z" fill="#0a0a0a" stroke="#0a0a0a"/>
<path d="M459.96 535.36L459.96 581.65A46.29 46.29 0 0 1 436.81 575.45Z" fill="#0a0a0a" stroke="#0a0a0a"/>
<path d="M459.96 535.36L436.81 575.45A46.29 46.29 0 0 1 419.87 558.51Z" fill="#0a0a0a" stroke="#0a0a0a"/>
<path d="M459.96 535.36L419.87 558.51A46.29 46.29 0 0 1 413.67 535.36Z" fill="#50b8ff" stroke="#50b8ff"/>
<path d="M459.96 535.36L413.67 535.36A46.29 46.29 0 0 1 419.87 512.21Z" fill="#50b8ff" stroke="#50b8ff"/>
<path d="M459.96 535.36L419.87 512.21A46.29 46.29 0 0 1 436.81 495.27Z" fill="#1e3af8" stroke="#1e3af8"/>
<path d="M459.96 535.36L436.81 495.27A46.29 46.29 0 0 1 459.96 489.07Z" fill="#1e3af8" stroke="#1e3af8"/>
<path d="M459.96 535.36L459.96 498.33A37.03 37.03 0 0 1 478.48 503.29Z" fill="#62f070" stroke="#62f070"/>
<path d="M459.96 535.36L478.48 503.29A37.03 37.03 0 0 1 492.03 516.84Z" fill="#58f210" stroke="#58f210"/>
<path d="M459.96 535.36L492.03 516.84A37.03 37.03 0 0 1 496.99 535.36Z" fill="#50b8ff" stroke="#50b8ff"/>
<path d="M459.96 535.36L496.99 535.36A37.03 37.03 0 0 1 492.03 553.88Z" fill="#78f8d0" stroke="#78f8d0"/>
<path d="M459.96 535.36L492.03 553.88A37.03 37.03 0 0 1 478.48 567.43Z" fill="#1e3af8" stroke="#1e3af8"/>
<path d="M459.96 535.36L478.48 567.43A37.03 37.03 0 0 1 459.96 572.39Z" fill="#1e3af8" stroke="#1e3af8"/>
<path d="M459.96 535.36L459.96 572.39A37.03 37.03 0 0 1 441.44 567.43Z" fill="#a0f020" stroke="#a0f020"/>
<path d="M459.96 535.36L441.44 567.43A37.03 37.03 0 0 1 427.89 553.88Z" fill="#3832f6" stroke="#3832f6"/>
<path d="M459.96 535.36L427.89 553.88A37.03 37.03 0 0 1 422.93 535.36Z" fill="#1e3af8" stroke="#1e3af8"/>
<path d="M459.96 535.36L422.93 535.36A37.03 37.03 0 0 1 427.89 516.84Z" fill="#50b8ff" stroke="#50b8ff"/>
<path d="M459.96 535.36L427.89 516.84A37.03 37.03 0 0 1 441.44 503.29Z" fill="#0a0a0a" stroke="#0a0a0a"/>
<path d="M459.96 535.36L441.44 503.29A37.03 37.03 0 0 1 459.96 498.33Z" fill="#62f070" stroke="#62f070"/>
<path d="M459.96 535.36L459.96 507.59A27.77 27.77 0 0 1 473.85 511.31Z" fill="#50b8ff" stroke="#50b8ff"/>
<path d="M459.96 535.36L473.85 511.31A27.77 27.77 0 0 1 484.01 521.47Z" fill="#58f210" stroke="#58f210"/>
<path d="M459.96 535.36L484.01 521.47A27.77 27.77 0 0 1 487.74 535.36Z" fill="#62f070" stroke="#62f070"/>
<path d="M459.96 535.36L487.74 535.36A27.77 27.77 0 0 1 484.01 549.25Z" fill="#58f210" stroke="#58f210"/>
<path d="M459.96 535.36L484.01 549.25A27.77 27.77 0 0 1 473.85 559.41Z" fill="#78f8d0" stroke="#78f8d0"/>
<path d="M459.96 535.36L473.85 559.41A27.77 27.77 0 0 1 459.96 563.13Z" fill="#78f8d0" stroke="#78f8d0"/>
<path d="M459.96 535.36L459.96 563.13A27.77 27.77 0 0 1 446.07 559.41Z" fill="#60f240" stroke="#60f240"/>
<path d="M459.96 535.36L446.07 559.41A27.77 27.77 0 0 1 435.91 549.25Z" fill="#50b8ff" stroke="#50b8ff"/>
<path d="M459.96 535.36L435.91 549.25A27.77 27.77 0 0 1 432.19 535.36Z" fill="#3832f6" stroke="#3832f6"/>
<path d="M459.96 535.36L432.19 535.36A27.77 27.77 0 0 1 435.91 521.47Z" fill="#3832f6" stroke="#3832f6"/>
<path d="M459.96 535.36L435.91 521.47A27.77 27.77 0 0 1 446.07 511.31Z" fill="#78f8d0" stroke="#78f8d0"/>
<path d="M459.96 535.36L446.07 511.31A27.77 27.77 0 0 1 459.96 507.59Z" fill="#1e3af8" stroke="#1e3af8"/>
<path d="M459.96 535.36L459.96 516.84A18.52 18.52 0 0 1 469.22 519.32Z" fill="#a0f020" stroke="#a0f020"/>
<path d="M459.96 535.36L469.22 519.32A18.52 18.52 0 0 1 476 526.1Z" fill="#50b8ff" stroke="#50b8ff"/>
<path d="M459.96 535.36L476 526.1A18.52 18.52 0 0 1 478.48 535.36Z" fill="#62f070" stroke="#62f070"/>
<path d="M459.96 535.36L478.48 535.36A18.52 18.52 0 0 1 476 544.62Z" fill="#62f070" stroke="#62f070"/>
<path d="M459.96 535.36L476 544.62A18.52 18.52 0 0 1 469.22 551.4Z" fill="#58f210" stroke="#58f210"/>
<path d="M459.96 535.36L469.22 551.4A18.52 18.52 0 0 1 459.96 553.88Z" fill="#62f070" stroke="#62f070"/>
<path d="M459.96 535.36L459.96 553.88A18.52 18.52 0 0 1 450.7 551.4Z" fill="#58f210" stroke="#58f210"/>
<path d="M459.96 535.36L450.7 551.4A18.52 18.52 0 0 1 443.92 544.62Z" fill="#1e3af8" stroke="#1e3af8"/>
<path d="M459.96 535.36L443.92 544.62A18.52 18.52 0 0 1 441.44 535.36Z" fill="#3832f6" stroke="#3832f6"/>
<path d="M459.96 535.36L441.44 535.36A18.52 18.52 0 0 1 443.92 526.1Z" fill="#0a0a0a" stroke="#0a0a0a"/>
<path d="M459.96 535.36L443.92 526.1A18.52 18.52 0 0 1 450.7 519.32Z" fill="#58f210" stroke="#58f210"/>
<path d="M459.96 535.36L450.7 519.32A18.52 18.52 0 0 1 459.96 516.84Z" fill="#58f210" stroke="#58f210"/>
<path d="M459.96 535.36L459.96 526.1A9.26 9.26 0 0 1 464.59 527.34Z" fill="#ff2810" stroke="#ff2810"/>
<path d="M459.96 535.36L464.59 527.34A9.26 9.26 0 0 1 467.98 530.73Z" fill="#ff8810" stroke="#ff8810"/>
<path d="M459.96 535.36L467.98 530.73A9.26 9.26 0 0 1 469.22 535.36Z" fill="#ff2810" stroke="#ff2810"/>
<path d="M459.96 535.36L469.22 535.36A9.26 9.26 0 0 1 467.98 539.99Z" fill="#ff2810" stroke="#ff2810"/>
<path d="M459.96 535.36L467.98 539.99A9.26 9.26 0 0 1 464.59 543.38Z" fill="#ff2810" stroke="#ff2810"/>
<path d="M459.96 535.36L464.59 543.38A9.26 9.26 0 0 1 459.96 544.62Z" fill="#ff2810" stroke="#ff2810"/>
<path d="M459.96 535.36L459.96 544.62A9.26 9.26 0 0 1 455.33 543.38Z" fill="#ff2810" stroke="#ff2810"/>
<path d="M459.96 535.36L455.33 543.38A9.26 9.26 0 0 1 451.94 539.99Z" fill="#58f210" stroke="#58f210"/>
<path d="M459.96 535.36L451.94 539.99A9.26 9.26 0 0 1 450.7 535.36Z" fill="#78f8d0" stroke="#78f8d0"/>
<path d="M459.96 535.36L450.7 535.36A9.26 9.26 0 0 1 451.94 530.73Z" fill="#58f210" stroke="#58f210"/>
<path d="M459.96 535.36L451.94 530.73A9.26 9.26 0 0 1 455.33 527.34Z" fill="#58f210" stroke="#58f210"/>
<path d="M459.96 535.36L455.33 527.34A9.26 9.26 0 0 1 459.96 526.1Z" fill="#ff2810" stroke="#ff2810"/>
</g>
<path d="M321.5 489.5L321.5 535.5M321.5 489.5L367.5 489.5M321.5 535.5L321.5 581.5M321.5 535.5L367.5 535.5M321.5 581.5L367.5 581.5M367.5 443.5L367.5 489.5M367.5 443.5L413.5 443.5M367.5 489.5L367.5 535.5M367.5 489.5L413.5 489.5M367.5 535.5L367.5 581.5M367.5 581.5L367.5 627.5M367.5 581.5L413.5 581.5M367.5 627.5L413.5 627.5M413.5 397.5L413.5 443.5M413.5 397.5L460.5 397.5M413.5 443.5L413.5 489.5M413.5 443.5L460.5 443.5M413.5 581.5L413.5 627.5M413.5 627.5L413.5 673.5M413.5 627.5L460.5 627.5M413.5 673.5L460.5 673.5M460.5 397.5L460.5 443.5M460.5 397.5L506.5 397.5M460.5 443.5L506.5 443.5M460.5 627.5L460.5 673.5M460.5 627.5L506.5 627.5M460.5 673.5L506.5 673.5M506.5 397.5L506.5 443.5M506.5 443.5L506.5 489.5M506.5 443.5L552.5 443.5M506.5 489.5L552.5 489.5M506.5 581.5L506.5 627.5M506.5 581.5L552.5 581.5M506.5 627.5L506.5 673.5M506.5 627.5L552.5 627.5M552.5 443.5L552.5 489.5M552.5 489.5L552.5 535.5M552.5 489.5L598.5 489.5M552.5 535.5L552.5 581.5M552.5 535.5L598.5 535.5M552.5 581.5L552.5 627.5M552.5 581.5L598.5 581.5M598.5 489.5L598.5 535.5M598.5 535.5L598.5 581.5" class="bx"/>
<path d="M429.21 443.12v-1.0M429.21 397v1.0M444.59 443.12v-1.0M444.59 397v1.0M413.84 440.07h1.5M459.96 440.07h-1.5M413.84 438.72h0.9M459.96 438.72h-0.9M413.84 437.36h0.9M459.96 437.36h-0.9M413.84 436.01h0.9M459.96 436.01h-0.9M413.84 434.65h0.9M459.96 434.65h-0.9M413.84 433.3h1.5M459.96 433.3h-1.5M413.84 431.95h0.9M459.96 431.95h-0.9M413.84 430.59h0.9M459.96 430.59h-0.9M413.84 429.24h0.9M459.96 429.24h-0.9M413.84 427.88h0.9M459.96 427.88h-0.9M413.84 426.53h1.5M459.96 426.53h-1.5M413.84 425.18h0.9M459.96 425.18h-0.9M413.84 423.82h0.9M459.96 423.82h-0.9M413.84 422.47h0.9M459.96 422.47h-0.9M413.84 421.11h0.9M459.96 421.11h-0.9M413.84 419.76h1.5M459.96 419.76h-1.5M413.84 418.41h0.9M459.96 418.41h-0.9M413.84 417.05h0.9M459.96 417.05h-0.9M413.84 415.7h0.9M459.96 415.7h-0.9M413.84 414.34h0.9M459.96 414.34h-0.9M413.84 412.99h1.5M459.96 412.99h-1.5M413.84 411.64h0.9M459.96 411.64h-0.9M413.84 410.28h0.9M459.96 410.28h-0.9M413.84 408.93h0.9M459.96 408.93h-0.9M413.84 407.57h0.9M459.96 407.57h-0.9M413.84 406.22h1.5M459.96 406.22h-1.5M413.84 404.87h0.9M459.96 404.87h-0.9M413.84 403.51h0.9M459.96 403.51h-0.9M413.84 402.16h0.9M459.96 402.16h-0.9M413.84 400.8h0.9M459.96 400.8h-0.9M413.84 399.45h1.5M459.96 399.45h-1.5M413.84 398.1h0.9M459.96 398.1h-0.9" class="tk"/>
<path d="M417.68 433.3H456.12" class="zl"/>
<path d="M417.68 397V403M416.18 403h3M425.37 415V425.6M423.87 415h3M423.87 425.6h3M433.06 424V432M431.56 424h3M431.56 432h3M440.74 418.4V426.4M439.24 418.4h3M439.24 426.4h3M448.43 426V434.6M446.93 426h3M446.93 434.6h3M456.12 428.6V434.6M454.62 428.6h3M454.62 434.6h3" class="eb"/>
<clipPath id="ch345"><rect x="413.84" y="397" width="46.12" height="46.12"/></clipPath>
<g clip-path="url(#ch345)"><path d="M417.68 396.6L425.37 420.4L433.06 428L440.74 422.4L448.43 430.4L456.12 431.6" class="ln"/>
<path d="M416.93 395.85h1.5v1.5h-1.5zM424.62 419.65h1.5v1.5h-1.5zM432.31 427.25h1.5v1.5h-1.5zM439.99 421.65h1.5v1.5h-1.5zM447.68 429.65h1.5v1.5h-1.5zM455.37 430.85h1.5v1.5h-1.5z" class="mk"/></g>
<path d="M475.33 443.12v-1.0M475.33 397v1.0M490.71 443.12v-1.0M490.71 397v1.0M459.96 440.07h1.5M506.08 440.07h-1.5M459.96 438.72h0.9M506.08 438.72h-0.9M459.96 437.36h0.9M506.08 437.36h-0.9M459.96 436.01h0.9M506.08 436.01h-0.9M459.96 434.65h0.9M506.08 434.65h-0.9M459.96 433.3h1.5M506.08 433.3h-1.5M459.96 431.95h0.9M506.08 431.95h-0.9M459.96 430.59h0.9M506.08 430.59h-0.9M459.96 429.24h0.9M506.08 429.24h-0.9M459.96 427.88h0.9M506.08 427.88h-0.9M459.96 426.53h1.5M506.08 426.53h-1.5M459.96 425.18h0.9M506.08 425.18h-0.9M459.96 423.82h0.9M506.08 423.82h-0.9M459.96 422.47h0.9M506.08 422.47h-0.9M459.96 421.11h0.9M506.08 421.11h-0.9M459.96 419.76h1.5M506.08 419.76h-1.5M459.96 418.41h0.9M506.08 418.41h-0.9M459.96 417.05h0.9M506.08 417.05h-0.9M459.96 415.7h0.9M506.08 415.7h-0.9M459.96 414.34h0.9M506.08 414.34h-0.9M459.96 412.99h1.5M506.08 412.99h-1.5M459.96 411.64h0.9M506.08 411.64h-0.9M459.96 410.28h0.9M506.08 410.28h-0.9M459.96 408.93h0.9M506.08 408.93h-0.9M459.96 407.57h0.9M506.08 407.57h-0.9M459.96 406.22h1.5M506.08 406.22h-1.5M459.96 404.87h0.9M506.08 404.87h-0.9M459.96 403.51h0.9M506.08 403.51h-0.9M459.96 402.16h0.9M506.08 402.16h-0.9M459.96 400.8h0.9M506.08 400.8h-0.9M459.96 399.45h1.5M506.08 399.45h-1.5M459.96 398.1h0.9M506.08 398.1h-0.9" class="tk"/>
<path d="M463.8 433.3H502.24" class="zl"/>
<path d="M463.8 397.4V411M462.3 397.4h3M462.3 411h3M471.49 411.4V420.4M469.99 411.4h3M469.99 420.4h3M479.18 423.6V430.6M477.68 423.6h3M477.68 430.6h3M486.86 420V428M485.36 420h3M485.36 428h3M494.55 424V431M493.05 424h3M493.05 431h3M502.24 425.4V431.4M500.74 425.4h3M500.74 431.4h3" class="eb"/>
<clipPath id="ch15"><rect x="459.96" y="397" width="46.12" height="46.12"/></clipPath>
<g clip-path="url(#ch15)"><path d="M463.8 403.6L471.49 416L479.18 427L486.86 424L494.55 427.4L502.24 428.4" class="ln"/>
<path d="M463.05 402.85h1.5v1.5h-1.5zM470.74 415.25h1.5v1.5h-1.5zM478.43 426.25h1.5v1.5h-1.5zM486.11 423.25h1.5v1.5h-1.5zM493.8 426.65h1.5v1.5h-1.5zM501.49 427.65h1.5v1.5h-1.5z" class="mk"/></g>
<path d="M383.09 489.24v-1.0M383.09 443.12v1.0M398.47 489.24v-1.0M398.47 443.12v1.0M367.72 486.19h1.5M413.84 486.19h-1.5M367.72 484.84h0.9M413.84 484.84h-0.9M367.72 483.48h0.9M413.84 483.48h-0.9M367.72 482.13h0.9M413.84 482.13h-0.9M367.72 480.77h0.9M413.84 480.77h-0.9M367.72 479.42h1.5M413.84 479.42h-1.5M367.72 478.07h0.9M413.84 478.07h-0.9M367.72 476.71h0.9M413.84 476.71h-0.9M367.72 475.36h0.9M413.84 475.36h-0.9M367.72 474h0.9M413.84 474h-0.9M367.72 472.65h1.5M413.84 472.65h-1.5M367.72 471.3h0.9M413.84 471.3h-0.9M367.72 469.94h0.9M413.84 469.94h-0.9M367.72 468.59h0.9M413.84 468.59h-0.9M367.72 467.23h0.9M413.84 467.23h-0.9M367.72 465.88h1.5M413.84 465.88h-1.5M367.72 464.53h0.9M413.84 464.53h-0.9M367.72 463.17h0.9M413.84 463.17h-0.9M367.72 461.82h0.9M413.84 461.82h-0.9M367.72 460.46h0.9M413.84 460.46h-0.9M367.72 459.11h1.5M413.84 459.11h-1.5M367.72 457.76h0.9M413.84 457.76h-0.9M367.72 456.4h0.9M413.84 456.4h-0.9M367.72 455.05h0.9M413.84 455.05h-0.9M367.72 453.69h0.9M413.84 453.69h-0.9M367.72 452.34h1.5M413.84 452.34h-1.5M367.72 450.99h0.9M413.84 450.99h-0.9M367.72 449.63h0.9M413.84 449.63h-0.9M367.72 448.28h0.9M413.84 448.28h-0.9M367.72 446.92h0.9M413.84 446.92h-0.9M367.72 445.57h1.5M413.84 445.57h-1.5M367.72 444.22h0.9M413.84 444.22h-0.9" class="tk"/>
<path d="M371.56 479.42H410" class="zl"/>
<path d="M371.56 456.4V471.4M370.06 456.4h3M370.06 471.4h3M379.25 462V471.6M377.75 462h3M377.75 471.6h3M386.94 468V476M385.44 468h3M385.44 476h3M394.62 482.4V488.6M393.12 482.4h3M393.12 488.6h3M402.31 473V480.4M400.81 473h3M400.81 480.4h3M410 472.4V479.6M408.5 472.4h3M408.5 479.6h3" class="eb"/>
<clipPath id="ch315"><rect x="367.72" y="443.12" width="46.12" height="46.12"/></clipPath>
<g clip-path="url(#ch315)"><path d="M371.56 463.6L379.25 467L386.94 472L394.62 485.6L402.31 476.6L410 476" class="ln"/>
<path d="M370.81 462.85h1.5v1.5h-1.5zM378.5 466.25h1.5v1.5h-1.5zM386.19 471.25h1.5v1.5h-1.5zM393.87 484.85h1.5v1.5h-1.5zM401.56 475.85h1.5v1.5h-1.5zM409.25 475.25h1.5v1.5h-1.5z" class="mk"/></g>
<path d="M521.45 489.24v-1.0M521.45 443.12v1.0M536.83 489.24v-1.0M536.83 443.12v1.0M506.08 486.19h1.5M552.2 486.19h-1.5M506.08 484.84h0.9M552.2 484.84h-0.9M506.08 483.48h0.9M552.2 483.48h-0.9M506.08 482.13h0.9M552.2 482.13h-0.9M506.08 480.77h0.9M552.2 480.77h-0.9M506.08 479.42h1.5M552.2 479.42h-1.5M506.08 478.07h0.9M552.2 478.07h-0.9M506.08 476.71h0.9M552.2 476.71h-0.9M506.08 475.36h0.9M552.2 475.36h-0.9M506.08 474h0.9M552.2 474h-0.9M506.08 472.65h1.5M552.2 472.65h-1.5M506.08 471.3h0.9M552.2 471.3h-0.9M506.08 469.94h0.9M552.2 469.94h-0.9M506.08 468.59h0.9M552.2 468.59h-0.9M506.08 467.23h0.9M552.2 467.23h-0.9M506.08 465.88h1.5M552.2 465.88h-1.5M506.08 464.53h0.9M552.2 464.53h-0.9M506.08 463.17h0.9M552.2 463.17h-0.9M506.08 461.82h0.9M552.2 461.82h-0.9M506.08 460.46h0.9M552.2 460.46h-0.9M506.08 459.11h1.5M552.2 459.11h-1.5M506.08 457.76h0.9M552.2 457.76h-0.9M506.08 456.4h0.9M552.2 456.4h-0.9M506.08 455.05h0.9M552.2 455.05h-0.9M506.08 453.69h0.9M552.2 453.69h-0.9M506.08 452.34h1.5M552.2 452.34h-1.5M506.08 450.99h0.9M552.2 450.99h-0.9M506.08 449.63h0.9M552.2 449.63h-0.9M506.08 448.28h0.9M552.2 448.28h-0.9M506.08 446.92h0.9M552.2 446.92h-0.9M506.08 445.57h1.5M552.2 445.57h-1.5M506.08 444.22h0.9M552.2 444.22h-0.9" class="tk"/>
<path d="M509.92 479.42H548.36" class="zl"/>
<path d="M509.92 452V466M508.42 452h3M508.42 466h3M517.61 469V478M516.11 469h3M516.11 478h3M525.3 461.4V468.6M523.8 461.4h3M523.8 468.6h3M532.98 465.4V472M531.48 465.4h3M531.48 472h3M540.67 464V470.6M539.17 464h3M539.17 470.6h3M548.36 470.4V476.4M546.86 470.4h3M546.86 476.4h3" class="eb"/>
<clipPath id="ch45"><rect x="506.08" y="443.12" width="46.12" height="46.12"/></clipPath>
<g clip-path="url(#ch45)"><path d="M509.92 459L517.61 473.4L525.3 465L532.98 468.6L540.67 467.4L548.36 473.4" class="ln"/>
<path d="M509.17 458.25h1.5v1.5h-1.5zM516.86 472.65h1.5v1.5h-1.5zM524.55 464.25h1.5v1.5h-1.5zM532.23 467.85h1.5v1.5h-1.5zM539.92 466.65h1.5v1.5h-1.5zM547.61 472.65h1.5v1.5h-1.5z" class="mk"/></g>
<path d="M336.97 535.36v-1.0M336.97 489.24v1.0M352.35 535.36v-1.0M352.35 489.24v1.0M321.6 532.31h1.5M367.72 532.31h-1.5M321.6 530.96h0.9M367.72 530.96h-0.9M321.6 529.6h0.9M367.72 529.6h-0.9M321.6 528.25h0.9M367.72 528.25h-0.9M321.6 526.89h0.9M367.72 526.89h-0.9M321.6 525.54h1.5M367.72 525.54h-1.5M321.6 524.19h0.9M367.72 524.19h-0.9M321.6 522.83h0.9M367.72 522.83h-0.9M321.6 521.48h0.9M367.72 521.48h-0.9M321.6 520.12h0.9M367.72 520.12h-0.9M321.6 518.77h1.5M367.72 518.77h-1.5M321.6 517.42h0.9M367.72 517.42h-0.9M321.6 516.06h0.9M367.72 516.06h-0.9M321.6 514.71h0.9M367.72 514.71h-0.9M321.6 513.35h0.9M367.72 513.35h-0.9M321.6 512h1.5M367.72 512h-1.5M321.6 510.65h0.9M367.72 510.65h-0.9M321.6 509.29h0.9M367.72 509.29h-0.9M321.6 507.94h0.9M367.72 507.94h-0.9M321.6 506.58h0.9M367.72 506.58h-0.9M321.6 505.23h1.5M367.72 505.23h-1.5M321.6 503.88h0.9M367.72 503.88h-0.9M321.6 502.52h0.9M367.72 502.52h-0.9M321.6 501.17h0.9M367.72 501.17h-0.9M321.6 499.81h0.9M367.72 499.81h-0.9M321.6 498.46h1.5M367.72 498.46h-1.5M321.6 497.11h0.9M367.72 497.11h-0.9M321.6 495.75h0.9M367.72 495.75h-0.9M321.6 494.4h0.9M367.72 494.4h-0.9M321.6 493.04h0.9M367.72 493.04h-0.9M321.6 491.69h1.5M367.72 491.69h-1.5M321.6 490.34h0.9M367.72 490.34h-0.9" class="tk"/>
<path d="M325.44 525.54H363.88" class="zl"/>
<path d="M325.44 503.4V518.6M323.94 503.4h3M323.94 518.6h3M333.13 522V531.4M331.63 522h3M331.63 531.4h3M340.82 520.4V529M339.32 520.4h3M339.32 529h3M348.5 516.4V523M347 516.4h3M347 523h3M356.19 516.4V523M354.69 516.4h3M354.69 523h3M363.88 519.6V525.6M362.38 519.6h3M362.38 525.6h3" class="eb"/>
<clipPath id="ch285"><rect x="321.6" y="489.24" width="46.12" height="46.12"/></clipPath>
<g clip-path="url(#ch285)"><path d="M325.44 511L333.13 526.6L340.82 524.6L348.5 519.6L356.19 519.6L363.88 522.6" class="ln"/>
<path d="M324.69 510.25h1.5v1.5h-1.5zM332.38 525.85h1.5v1.5h-1.5zM340.07 523.85h1.5v1.5h-1.5zM347.75 518.85h1.5v1.5h-1.5zM355.44 518.85h1.5v1.5h-1.5zM363.13 521.85h1.5v1.5h-1.5z" class="mk"/></g>
<path d="M567.57 535.36v-1.0M567.57 489.24v1.0M582.95 535.36v-1.0M582.95 489.24v1.0M552.2 532.31h1.5M598.32 532.31h-1.5M552.2 530.96h0.9M598.32 530.96h-0.9M552.2 529.6h0.9M598.32 529.6h-0.9M552.2 528.25h0.9M598.32 528.25h-0.9M552.2 526.89h0.9M598.32 526.89h-0.9M552.2 525.54h1.5M598.32 525.54h-1.5M552.2 524.19h0.9M598.32 524.19h-0.9M552.2 522.83h0.9M598.32 522.83h-0.9M552.2 521.48h0.9M598.32 521.48h-0.9M552.2 520.12h0.9M598.32 520.12h-0.9M552.2 518.77h1.5M598.32 518.77h-1.5M552.2 517.42h0.9M598.32 517.42h-0.9M552.2 516.06h0.9M598.32 516.06h-0.9M552.2 514.71h0.9M598.32 514.71h-0.9M552.2 513.35h0.9M598.32 513.35h-0.9M552.2 512h1.5M598.32 512h-1.5M552.2 510.65h0.9M598.32 510.65h-0.9M552.2 509.29h0.9M598.32 509.29h-0.9M552.2 507.94h0.9M598.32 507.94h-0.9M552.2 506.58h0.9M598.32 506.58h-0.9M552.2 505.23h1.5M598.32 505.23h-1.5M552.2 503.88h0.9M598.32 503.88h-0.9M552.2 502.52h0.9M598.32 502.52h-0.9M552.2 501.17h0.9M598.32 501.17h-0.9M552.2 499.81h0.9M598.32 499.81h-0.9M552.2 498.46h1.5M598.32 498.46h-1.5M552.2 497.11h0.9M598.32 497.11h-0.9M552.2 495.75h0.9M598.32 495.75h-0.9M552.2 494.4h0.9M598.32 494.4h-0.9M552.2 493.04h0.9M598.32 493.04h-0.9M552.2 491.69h1.5M598.32 491.69h-1.5M552.2 490.34h0.9M598.32 490.34h-0.9" class="tk"/>
<path d="M556.04 525.54H594.48" class="zl"/>
<path d="M556.04 489.24V502.6M554.54 502.6h3M563.73 511.4V520.4M562.23 511.4h3M562.23 520.4h3M571.42 512.4V520M569.92 512.4h3M569.92 520h3M579.1 515.4V521.6M577.6 515.4h3M577.6 521.6h3M586.79 510.4V516M585.29 510.4h3M585.29 516h3M594.48 512.6V518.4M592.98 512.6h3M592.98 518.4h3" class="eb"/>
<clipPath id="ch75"><rect x="552.2" y="489.24" width="46.12" height="46.12"/></clipPath>
<g clip-path="url(#ch75)"><path d="M556.04 495.6L563.73 516L571.42 516.4L579.1 518.6L586.79 513L594.48 515.6" class="ln"/>
<path d="M555.29 494.85h1.5v1.5h-1.5zM562.98 515.25h1.5v1.5h-1.5zM570.67 515.65h1.5v1.5h-1.5zM578.35 517.85h1.5v1.5h-1.5zM586.04 512.25h1.5v1.5h-1.5zM593.73 514.85h1.5v1.5h-1.5z" class="mk"/></g>
<path d="M336.97 581.48v-1.0M336.97 535.36v1.0M352.35 581.48v-1.0M352.35 535.36v1.0M321.6 578.43h1.5M367.72 578.43h-1.5M321.6 577.08h0.9M367.72 577.08h-0.9M321.6 575.72h0.9M367.72 575.72h-0.9M321.6 574.37h0.9M367.72 574.37h-0.9M321.6 573.01h0.9M367.72 573.01h-0.9M321.6 571.66h1.5M367.72 571.66h-1.5M321.6 570.31h0.9M367.72 570.31h-0.9M321.6 568.95h0.9M367.72 568.95h-0.9M321.6 567.6h0.9M367.72 567.6h-0.9M321.6 566.24h0.9M367.72 566.24h-0.9M321.6 564.89h1.5M367.72 564.89h-1.5M321.6 563.54h0.9M367.72 563.54h-0.9M321.6 562.18h0.9M367.72 562.18h-0.9M321.6 560.83h0.9M367.72 560.83h-0.9M321.6 559.47h0.9M367.72 559.47h-0.9M321.6 558.12h1.5M367.72 558.12h-1.5M321.6 556.77h0.9M367.72 556.77h-0.9M321.6 555.41h0.9M367.72 555.41h-0.9M321.6 554.06h0.9M367.72 554.06h-0.9M321.6 552.7h0.9M367.72 552.7h-0.9M321.6 551.35h1.5M367.72 551.35h-1.5M321.6 550h0.9M367.72 550h-0.9M321.6 548.64h0.9M367.72 548.64h-0.9M321.6 547.29h0.9M367.72 547.29h-0.9M321.6 545.93h0.9M367.72 545.93h-0.9M321.6 544.58h1.5M367.72 544.58h-1.5M321.6 543.23h0.9M367.72 543.23h-0.9M321.6 541.87h0.9M367.72 541.87h-0.9M321.6 540.52h0.9M367.72 540.52h-0.9M321.6 539.16h0.9M367.72 539.16h-0.9M321.6 537.81h1.5M367.72 537.81h-1.5M321.6 536.46h0.9M367.72 536.46h-0.9" class="tk"/>
<path d="M325.44 571.66H363.88" class="zl"/>
<path d="M325.44 555.4V571.4M323.94 555.4h3M323.94 571.4h3M333.13 565.4V574.6M331.63 565.4h3M331.63 574.6h3M340.82 566.4V575M339.32 566.4h3M339.32 575h3M348.5 564V571M347 564h3M347 571h3M356.19 562.4V568.4M354.69 562.4h3M354.69 568.4h3M363.88 564.4V570.4M362.38 564.4h3M362.38 570.4h3" class="eb"/>
<clipPath id="ch255"><rect x="321.6" y="535.36" width="46.12" height="46.12"/></clipPath>
<g clip-path="url(#ch255)"><path d="M325.44 563.4L333.13 570L340.82 570.6L348.5 567.4L356.19 565.4L363.88 567.4" class="ln"/>
<path d="M324.69 562.65h1.5v1.5h-1.5zM332.38 569.25h1.5v1.5h-1.5zM340.07 569.85h1.5v1.5h-1.5zM347.75 566.65h1.5v1.5h-1.5zM355.44 564.65h1.5v1.5h-1.5zM363.13 566.65h1.5v1.5h-1.5z" class="mk"/></g>
<path d="M567.57 581.48v-1.0M567.57 535.36v1.0M582.95 581.48v-1.0M582.95 535.36v1.0M552.2 578.43h1.5M598.32 578.43h-1.5M552.2 577.08h0.9M598.32 577.08h-0.9M552.2 575.72h0.9M598.32 575.72h-0.9M552.2 574.37h0.9M598.32 574.37h-0.9M552.2 573.01h0.9M598.32 573.01h-0.9M552.2 571.66h1.5M598.32 571.66h-1.5M552.2 570.31h0.9M598.32 570.31h-0.9M552.2 568.95h0.9M598.32 568.95h-0.9M552.2 567.6h0.9M598.32 567.6h-0.9M552.2 566.24h0.9M598.32 566.24h-0.9M552.2 564.89h1.5M598.32 564.89h-1.5M552.2 563.54h0.9M598.32 563.54h-0.9M552.2 562.18h0.9M598.32 562.18h-0.9M552.2 560.83h0.9M598.32 560.83h-0.9M552.2 559.47h0.9M598.32 559.47h-0.9M552.2 558.12h1.5M598.32 558.12h-1.5M552.2 556.77h0.9M598.32 556.77h-0.9M552.2 555.41h0.9M598.32 555.41h-0.9M552.2 554.06h0.9M598.32 554.06h-0.9M552.2 552.7h0.9M598.32 552.7h-0.9M552.2 551.35h1.5M598.32 551.35h-1.5M552.2 550h0.9M598.32 550h-0.9M552.2 548.64h0.9M598.32 548.64h-0.9M552.2 547.29h0.9M598.32 547.29h-0.9M552.2 545.93h0.9M598.32 545.93h-0.9M552.2 544.58h1.5M598.32 544.58h-1.5M552.2 543.23h0.9M598.32 543.23h-0.9M552.2 541.87h0.9M598.32 541.87h-0.9M552.2 540.52h0.9M598.32 540.52h-0.9M552.2 539.16h0.9M598.32 539.16h-0.9M552.2 537.81h1.5M598.32 537.81h-1.5M552.2 536.46h0.9M598.32 536.46h-0.9" class="tk"/>
<path d="M556.04 571.66H594.48" class="zl"/>
<path d="M556.04 535.36V544M554.54 544h3M563.73 558.4V567.4M562.23 558.4h3M562.23 567.4h3M571.42 556V563.4M569.92 556h3M569.92 563.4h3M579.1 561.4V567.6M577.6 561.4h3M577.6 567.6h3M586.79 560.4V565.6M585.29 560.4h3M585.29 565.6h3M594.48 568.6V574.4M592.98 568.6h3M592.98 574.4h3" class="eb"/>
<clipPath id="ch105"><rect x="552.2" y="535.36" width="46.12" height="46.12"/></clipPath>
<g clip-path="url(#ch105)"><path d="M556.04 537L563.73 563L571.42 559.6L579.1 564.6L586.79 563L594.48 571.6" class="ln"/>
<path d="M555.29 536.25h1.5v1.5h-1.5zM562.98 562.25h1.5v1.5h-1.5zM570.67 558.85h1.5v1.5h-1.5zM578.35 563.85h1.5v1.5h-1.5zM586.04 562.25h1.5v1.5h-1.5zM593.73 570.85h1.5v1.5h-1.5z" class="mk"/></g>
<path d="M383.09 627.6v-1.0M383.09 581.48v1.0M398.47 627.6v-1.0M398.47 581.48v1.0M367.72 624.55h1.5M413.84 624.55h-1.5M367.72 623.2h0.9M413.84 623.2h-0.9M367.72 621.84h0.9M413.84 621.84h-0.9M367.72 620.49h0.9M413.84 620.49h-0.9M367.72 619.13h0.9M413.84 619.13h-0.9M367.72 617.78h1.5M413.84 617.78h-1.5M367.72 616.43h0.9M413.84 616.43h-0.9M367.72 615.07h0.9M413.84 615.07h-0.9M367.72 613.72h0.9M413.84 613.72h-0.9M367.72 612.36h0.9M413.84 612.36h-0.9M367.72 611.01h1.5M413.84 611.01h-1.5M367.72 609.66h0.9M413.84 609.66h-0.9M367.72 608.3h0.9M413.84 608.3h-0.9M367.72 606.95h0.9M413.84 606.95h-0.9M367.72 605.59h0.9M413.84 605.59h-0.9M367.72 604.24h1.5M413.84 604.24h-1.5M367.72 602.89h0.9M413.84 602.89h-0.9M367.72 601.53h0.9M413.84 601.53h-0.9M367.72 600.18h0.9M413.84 600.18h-0.9M367.72 598.82h0.9M413.84 598.82h-0.9M367.72 597.47h1.5M413.84 597.47h-1.5M367.72 596.12h0.9M413.84 596.12h-0.9M367.72 594.76h0.9M413.84 594.76h-0.9M367.72 593.41h0.9M413.84 593.41h-0.9M367.72 592.05h0.9M413.84 592.05h-0.9M367.72 590.7h1.5M413.84 590.7h-1.5M367.72 589.35h0.9M413.84 589.35h-0.9M367.72 587.99h0.9M413.84 587.99h-0.9M367.72 586.64h0.9M413.84 586.64h-0.9M367.72 585.28h0.9M413.84 585.28h-0.9M367.72 583.93h1.5M413.84 583.93h-1.5M367.72 582.58h0.9M413.84 582.58h-0.9" class="tk"/>
<path d="M371.56 617.78H410" class="zl"/>
<path d="M371.56 597.4V612M370.06 597.4h3M370.06 612h3M379.25 610V620M377.75 610h3M377.75 620h3M386.94 608.4V616.6M385.44 608.4h3M385.44 616.6h3M394.62 612.4V620.6M393.12 612.4h3M393.12 620.6h3M402.31 616.4V624.4M400.81 616.4h3M400.81 624.4h3M410 615.6V622.4M408.5 615.6h3M408.5 622.4h3" class="eb"/>
<clipPath id="ch225"><rect x="367.72" y="581.48" width="46.12" height="46.12"/></clipPath>
<g clip-path="url(#ch225)"><path d="M371.56 604.6L379.25 615L386.94 612.4L394.62 616.4L402.31 620.4L410 619" class="ln"/>
<path d="M370.81 603.85h1.5v1.5h-1.5zM378.5 614.25h1.5v1.5h-1.5zM386.19 611.65h1.5v1.5h-1.5zM393.87 615.65h1.5v1.5h-1.5zM401.56 619.65h1.5v1.5h-1.5zM409.25 618.25h1.5v1.5h-1.5z" class="mk"/></g>
<path d="M521.45 627.6v-1.0M521.45 581.48v1.0M536.83 627.6v-1.0M536.83 581.48v1.0M506.08 624.55h1.5M552.2 624.55h-1.5M506.08 623.2h0.9M552.2 623.2h-0.9M506.08 621.84h0.9M552.2 621.84h-0.9M506.08 620.49h0.9M552.2 620.49h-0.9M506.08 619.13h0.9M552.2 619.13h-0.9M506.08 617.78h1.5M552.2 617.78h-1.5M506.08 616.43h0.9M552.2 616.43h-0.9M506.08 615.07h0.9M552.2 615.07h-0.9M506.08 613.72h0.9M552.2 613.72h-0.9M506.08 612.36h0.9M552.2 612.36h-0.9M506.08 611.01h1.5M552.2 611.01h-1.5M506.08 609.66h0.9M552.2 609.66h-0.9M506.08 608.3h0.9M552.2 608.3h-0.9M506.08 606.95h0.9M552.2 606.95h-0.9M506.08 605.59h0.9M552.2 605.59h-0.9M506.08 604.24h1.5M552.2 604.24h-1.5M506.08 602.89h0.9M552.2 602.89h-0.9M506.08 601.53h0.9M552.2 601.53h-0.9M506.08 600.18h0.9M552.2 600.18h-0.9M506.08 598.82h0.9M552.2 598.82h-0.9M506.08 597.47h1.5M552.2 597.47h-1.5M506.08 596.12h0.9M552.2 596.12h-0.9M506.08 594.76h0.9M552.2 594.76h-0.9M506.08 593.41h0.9M552.2 593.41h-0.9M506.08 592.05h0.9M552.2 592.05h-0.9M506.08 590.7h1.5M552.2 590.7h-1.5M506.08 589.35h0.9M552.2 589.35h-0.9M506.08 587.99h0.9M552.2 587.99h-0.9M506.08 586.64h0.9M552.2 586.64h-0.9M506.08 585.28h0.9M552.2 585.28h-0.9M506.08 583.93h1.5M552.2 583.93h-1.5M506.08 582.58h0.9M552.2 582.58h-0.9" class="tk"/>
<path d="M509.92 617.78H548.36" class="zl"/>
<path d="M509.92 581.48V593.6M508.42 593.6h3M517.61 599V608.4M516.11 599h3M516.11 608.4h3M525.3 605.4V613.4M523.8 605.4h3M523.8 613.4h3M532.98 611.6V618.6M531.48 611.6h3M531.48 618.6h3M540.67 608.4V615M539.17 608.4h3M539.17 615h3M548.36 609V615.4M546.86 609h3M546.86 615.4h3" class="eb"/>
<clipPath id="ch135"><rect x="506.08" y="581.48" width="46.12" height="46.12"/></clipPath>
<g clip-path="url(#ch135)"><path d="M509.92 587L517.61 603.4L525.3 609.4L532.98 615L540.67 611.6L548.36 612" class="ln"/>
<path d="M509.17 586.25h1.5v1.5h-1.5zM516.86 602.65h1.5v1.5h-1.5zM524.55 608.65h1.5v1.5h-1.5zM532.23 614.25h1.5v1.5h-1.5zM539.92 610.85h1.5v1.5h-1.5zM547.61 611.25h1.5v1.5h-1.5z" class="mk"/></g>
<path d="M429.21 673.72v-1.0M429.21 627.6v1.0M444.59 673.72v-1.0M444.59 627.6v1.0M413.84 670.67h1.5M459.96 670.67h-1.5M413.84 669.32h0.9M459.96 669.32h-0.9M413.84 667.96h0.9M459.96 667.96h-0.9M413.84 666.61h0.9M459.96 666.61h-0.9M413.84 665.25h0.9M459.96 665.25h-0.9M413.84 663.9h1.5M459.96 663.9h-1.5M413.84 662.55h0.9M459.96 662.55h-0.9M413.84 661.19h0.9M459.96 661.19h-0.9M413.84 659.84h0.9M459.96 659.84h-0.9M413.84 658.48h0.9M459.96 658.48h-0.9M413.84 657.13h1.5M459.96 657.13h-1.5M413.84 655.78h0.9M459.96 655.78h-0.9M413.84 654.42h0.9M459.96 654.42h-0.9M413.84 653.07h0.9M459.96 653.07h-0.9M413.84 651.71h0.9M459.96 651.71h-0.9M413.84 650.36h1.5M459.96 650.36h-1.5M413.84 649.01h0.9M459.96 649.01h-0.9M413.84 647.65h0.9M459.96 647.65h-0.9M413.84 646.3h0.9M459.96 646.3h-0.9M413.84 644.94h0.9M459.96 644.94h-0.9M413.84 643.59h1.5M459.96 643.59h-1.5M413.84 642.24h0.9M459.96 642.24h-0.9M413.84 640.88h0.9M459.96 640.88h-0.9M413.84 639.53h0.9M459.96 639.53h-0.9M413.84 638.17h0.9M459.96 638.17h-0.9M413.84 636.82h1.5M459.96 636.82h-1.5M413.84 635.47h0.9M459.96 635.47h-0.9M413.84 634.11h0.9M459.96 634.11h-0.9M413.84 632.76h0.9M459.96 632.76h-0.9M413.84 631.4h0.9M459.96 631.4h-0.9M413.84 630.05h1.5M459.96 630.05h-1.5M413.84 628.7h0.9M459.96 628.7h-0.9" class="tk"/>
<path d="M417.68 663.9H456.12" class="zl"/>
<path d="M425.37 644V653.6M423.87 644h3M423.87 653.6h3M433.06 650.4V658.6M431.56 650.4h3M431.56 658.6h3M440.74 643.4V653M439.24 643.4h3M439.24 653h3M448.43 662.4V669.4M446.93 662.4h3M446.93 669.4h3M456.12 657V662M454.62 657h3M454.62 662h3" class="eb"/>
<clipPath id="ch195"><rect x="413.84" y="627.6" width="46.12" height="46.12"/></clipPath>
<g clip-path="url(#ch195)"><path d="M417.68 616.4L425.37 649L433.06 654.6L440.74 648.4L448.43 665.6L456.12 659.4" class="ln"/>
<path d="M416.93 615.65h1.5v1.5h-1.5zM424.62 648.25h1.5v1.5h-1.5zM432.31 653.85h1.5v1.5h-1.5zM439.99 647.65h1.5v1.5h-1.5zM447.68 664.85h1.5v1.5h-1.5zM455.37 658.65h1.5v1.5h-1.5z" class="mk"/></g>
<path d="M475.33 673.72v-1.0M475.33 627.6v1.0M490.71 673.72v-1.0M490.71 627.6v1.0M459.96 670.67h1.5M506.08 670.67h-1.5M459.96 669.32h0.9M506.08 669.32h-0.9M459.96 667.96h0.9M506.08 667.96h-0.9M459.96 666.61h0.9M506.08 666.61h-0.9M459.96 665.25h0.9M506.08 665.25h-0.9M459.96 663.9h1.5M506.08 663.9h-1.5M459.96 662.55h0.9M506.08 662.55h-0.9M459.96 661.19h0.9M506.08 661.19h-0.9M459.96 659.84h0.9M506.08 659.84h-0.9M459.96 658.48h0.9M506.08 658.48h-0.9M459.96 657.13h1.5M506.08 657.13h-1.5M459.96 655.78h0.9M506.08 655.78h-0.9M459.96 654.42h0.9M506.08 654.42h-0.9M459.96 653.07h0.9M506.08 653.07h-0.9M459.96 651.71h0.9M506.08 651.71h-0.9M459.96 650.36h1.5M506.08 650.36h-1.5M459.96 649.01h0.9M506.08 649.01h-0.9M459.96 647.65h0.9M506.08 647.65h-0.9M459.96 646.3h0.9M506.08 646.3h-0.9M459.96 644.94h0.9M506.08 644.94h-0.9M459.96 643.59h1.5M506.08 643.59h-1.5M459.96 642.24h0.9M506.08 642.24h-0.9M459.96 640.88h0.9M506.08 640.88h-0.9M459.96 639.53h0.9M506.08 639.53h-0.9M459.96 638.17h0.9M506.08 638.17h-0.9M459.96 636.82h1.5M506.08 636.82h-1.5M459.96 635.47h0.9M506.08 635.47h-0.9M459.96 634.11h0.9M506.08 634.11h-0.9M459.96 632.76h0.9M506.08 632.76h-0.9M459.96 631.4h0.9M506.08 631.4h-0.9M459.96 630.05h1.5M506.08 630.05h-1.5M459.96 628.7h0.9M506.08 628.7h-0.9" class="tk"/>
<path d="M463.8 663.9H502.24" class="zl"/>
<path d="M463.8 627.6V641M462.3 641h3M471.49 650V659M469.99 650h3M469.99 659h3M479.18 651.6V660M477.68 651.6h3M477.68 660h3M486.86 657.4V665M485.36 657.4h3M485.36 665h3M494.55 662.6V668.6M493.05 662.6h3M493.05 668.6h3M502.24 659V663.4M500.74 659h3M500.74 663.4h3" class="eb"/>
<clipPath id="ch165"><rect x="459.96" y="627.6" width="46.12" height="46.12"/></clipPath>
<g clip-path="url(#ch165)"><path d="M463.8 633L471.49 654.6L479.18 655.6L486.86 661L494.55 665.6L502.24 661" class="ln"/>
<path d="M463.05 632.25h1.5v1.5h-1.5zM470.74 653.85h1.5v1.5h-1.5zM478.43 654.85h1.5v1.5h-1.5zM486.11 660.25h1.5v1.5h-1.5zM493.8 664.85h1.5v1.5h-1.5zM501.49 660.25h1.5v1.5h-1.5z" class="mk"/></g>
<text x="436.9" y="395.5" class="bt">345°</text>
<text x="413.84" y="400.85" class="yl y2">2.5•10<tspan dy="-1" font-size="2.3">4</tspan></text>
<text x="413.84" y="407.62" class="yl y2">2.0•10<tspan dy="-1" font-size="2.3">4</tspan></text>
<text x="413.84" y="414.39" class="yl y2">1.5•10<tspan dy="-1" font-size="2.3">4</tspan></text>
<text x="413.84" y="421.16" class="yl y2">1.0•10<tspan dy="-1" font-size="2.3">4</tspan></text>
<text x="413.84" y="427.93" class="yl y2">5.0•10<tspan dy="-1" font-size="2.3">3</tspan></text>
<text x="413.84" y="434.7" class="yl y2">0</text>
<text x="413.84" y="441.47" class="yl y2">-5.0•10<tspan dy="-1" font-size="2.3">3</tspan></text>
<text x="429.21" y="447.32" class="xl">10</text>
<text x="444.59" y="447.32" class="xl">20</text>
<text x="483.02" y="395.5" class="bt">15°</text>
<text x="459.96" y="400.85" class="yl y2">2.5•10<tspan dy="-1" font-size="2.3">4</tspan></text>
<text x="459.96" y="407.62" class="yl y2">2.0•10<tspan dy="-1" font-size="2.3">4</tspan></text>
<text x="459.96" y="414.39" class="yl y2">1.5•10<tspan dy="-1" font-size="2.3">4</tspan></text>
<text x="459.96" y="447.32" class="xl">0</text>
<text x="475.33" y="447.32" class="xl">10</text>
<text x="490.71" y="447.32" class="xl">20</text>
<text x="390.78" y="441.62" class="bt">315°</text>
<text x="367.72" y="446.97" class="yl y2">2.5•10<tspan dy="-1" font-size="2.3">4</tspan></text>
<text x="367.72" y="453.74" class="yl y2">2.0•10<tspan dy="-1" font-size="2.3">4</tspan></text>
<text x="367.72" y="460.51" class="yl y2">1.5•10<tspan dy="-1" font-size="2.3">4</tspan></text>
<text x="367.72" y="467.28" class="yl y2">1.0•10<tspan dy="-1" font-size="2.3">4</tspan></text>
<text x="367.72" y="474.05" class="yl y2">5.0•10<tspan dy="-1" font-size="2.3">3</tspan></text>
<text x="367.72" y="480.82" class="yl y2">0</text>
<text x="367.72" y="487.59" class="yl y2">-5.0•10<tspan dy="-1" font-size="2.3">3</tspan></text>
<text x="383.09" y="494.44" class="xl">10</text>
<text x="398.47" y="494.44" class="xl">20</text>
<text x="413.84" y="494.44" class="xl">30</text>
<text x="529.14" y="441.62" class="bt">45°</text>
<text x="506.08" y="446.97" class="yl y2">2.5•10<tspan dy="-1" font-size="2.3">4</tspan></text>
<text x="506.08" y="453.74" class="yl y2">2.0•10<tspan dy="-1" font-size="2.3">4</tspan></text>
<text x="506.08" y="460.51" class="yl y2">1.5•10<tspan dy="-1" font-size="2.3">4</tspan></text>
<text x="506.08" y="467.28" class="yl y2">1.0•10<tspan dy="-1" font-size="2.3">4</tspan></text>
<text x="506.08" y="474.05" class="yl y2">5.0•10<tspan dy="-1" font-size="2.3">3</tspan></text>
<text x="506.08" y="480.82" class="yl y2">0</text>
<text x="506.08" y="487.59" class="yl y2">-5.0•10<tspan dy="-1" font-size="2.3">3</tspan></text>
<text x="506.08" y="494.44" class="xl">0</text>
<text x="521.45" y="494.44" class="xl">10</text>
<text x="536.83" y="494.44" class="xl">20</text>
<text x="344.66" y="487.74" class="bt">285°</text>
<text x="321.6" y="493.09" class="yl y2">2.5•10<tspan dy="-1" font-size="2.3">4</tspan></text>
<text x="321.6" y="499.86" class="yl y2">2.0•10<tspan dy="-1" font-size="2.3">4</tspan></text>
<text x="321.6" y="506.63" class="yl y2">1.5•10<tspan dy="-1" font-size="2.3">4</tspan></text>
<text x="321.6" y="513.4" class="yl y2">1.0•10<tspan dy="-1" font-size="2.3">4</tspan></text>
<text x="321.6" y="520.17" class="yl y2">5.0•10<tspan dy="-1" font-size="2.3">3</tspan></text>
<text x="321.6" y="526.94" class="yl y2">0</text>
<text x="321.6" y="533.71" class="yl y2">-5.0•10<tspan dy="-1" font-size="2.3">3</tspan></text>
<text x="575.26" y="487.74" class="bt">75°</text>
<text x="552.2" y="493.09" class="yl y2">2.5•10<tspan dy="-1" font-size="2.3">4</tspan></text>
<text x="552.2" y="499.86" class="yl y2">2.0•10<tspan dy="-1" font-size="2.3">4</tspan></text>
<text x="552.2" y="506.63" class="yl y2">1.5•10<tspan dy="-1" font-size="2.3">4</tspan></text>
<text x="552.2" y="513.4" class="yl y2">1.0•10<tspan dy="-1" font-size="2.3">4</tspan></text>
<text x="552.2" y="520.17" class="yl y2">5.0•10<tspan dy="-1" font-size="2.3">3</tspan></text>
<text x="552.2" y="526.94" class="yl y2">0</text>
<text x="552.2" y="533.71" class="yl y2">-5.0•10<tspan dy="-1" font-size="2.3">3</tspan></text>
<text x="321.6" y="539.21" class="yl y2">2.5•10<tspan dy="-1" font-size="2.3">4</tspan></text>
<text x="321.6" y="545.98" class="yl y2">2.0•10<tspan dy="-1" font-size="2.3">4</tspan></text>
<text x="321.6" y="552.75" class="yl y2">1.5•10<tspan dy="-1" font-size="2.3">4</tspan></text>
<text x="321.6" y="559.52" class="yl y2">1.0•10<tspan dy="-1" font-size="2.3">4</tspan></text>
<text x="321.6" y="566.29" class="yl y2">5.0•10<tspan dy="-1" font-size="2.3">3</tspan></text>
<text x="321.6" y="573.06" class="yl y2">0</text>
<text x="321.6" y="579.83" class="yl y2">-5.0•10<tspan dy="-1" font-size="2.3">3</tspan></text>
<text x="321.6" y="586.68" class="xl">0</text>
<text x="336.97" y="586.68" class="xl">10</text>
<text x="352.35" y="586.68" class="xl">20</text>
<text x="552.2" y="539.21" class="yl y2">2.5•10<tspan dy="-1" font-size="2.3">4</tspan></text>
<text x="552.2" y="545.98" class="yl y2">2.0•10<tspan dy="-1" font-size="2.3">4</tspan></text>
<text x="552.2" y="552.75" class="yl y2">1.5•10<tspan dy="-1" font-size="2.3">4</tspan></text>
<text x="552.2" y="559.52" class="yl y2">1.0•10<tspan dy="-1" font-size="2.3">4</tspan></text>
<text x="552.2" y="566.29" class="yl y2">5.0•10<tspan dy="-1" font-size="2.3">3</tspan></text>
<text x="552.2" y="573.06" class="yl y2">0</text>
<text x="552.2" y="579.83" class="yl y2">-5.0•10<tspan dy="-1" font-size="2.3">3</tspan></text>
<text x="552.2" y="586.68" class="xl">0</text>
<text x="567.57" y="586.68" class="xl">10</text>
<text x="582.95" y="586.68" class="xl">20</text>
<text x="598.32" y="586.68" class="xl">30</text>
<text x="390.78" y="579.98" class="bt">225°</text>
<text x="367.72" y="585.33" class="yl y2">2.5•10<tspan dy="-1" font-size="2.3">4</tspan></text>
<text x="367.72" y="592.1" class="yl y2">2.0•10<tspan dy="-1" font-size="2.3">4</tspan></text>
<text x="367.72" y="598.87" class="yl y2">1.5•10<tspan dy="-1" font-size="2.3">4</tspan></text>
<text x="367.72" y="605.64" class="yl y2">1.0•10<tspan dy="-1" font-size="2.3">4</tspan></text>
<text x="367.72" y="612.41" class="yl y2">5.0•10<tspan dy="-1" font-size="2.3">3</tspan></text>
<text x="367.72" y="619.18" class="yl y2">0</text>
<text x="367.72" y="625.95" class="yl y2">-5.0•10<tspan dy="-1" font-size="2.3">3</tspan></text>
<text x="367.72" y="632.8" class="xl">0</text>
<text x="383.09" y="632.8" class="xl">10</text>
<text x="398.47" y="632.8" class="xl">20</text>
<text x="529.14" y="579.98" class="bt">135°</text>
<text x="506.08" y="585.33" class="yl y2">2.5•10<tspan dy="-1" font-size="2.3">4</tspan></text>
<text x="506.08" y="592.1" class="yl y2">2.0•10<tspan dy="-1" font-size="2.3">4</tspan></text>
<text x="506.08" y="598.87" class="yl y2">1.5•10<tspan dy="-1" font-size="2.3">4</tspan></text>
<text x="506.08" y="605.64" class="yl y2">1.0•10<tspan dy="-1" font-size="2.3">4</tspan></text>
<text x="506.08" y="612.41" class="yl y2">5.0•10<tspan dy="-1" font-size="2.3">3</tspan></text>
<text x="506.08" y="619.18" class="yl y2">0</text>
<text x="506.08" y="625.95" class="yl y2">-5.0•10<tspan dy="-1" font-size="2.3">3</tspan></text>
<text x="521.45" y="632.8" class="xl">10</text>
<text x="536.83" y="632.8" class="xl">20</text>
<text x="552.2" y="632.8" class="xl">30</text>
<text x="436.9" y="626.1" class="bt">195°</text>
<text x="413.84" y="631.45" class="yl y2">2.5•10<tspan dy="-1" font-size="2.3">4</tspan></text>
<text x="413.84" y="638.22" class="yl y2">2.0•10<tspan dy="-1" font-size="2.3">4</tspan></text>
<text x="413.84" y="644.99" class="yl y2">1.5•10<tspan dy="-1" font-size="2.3">4</tspan></text>
<text x="413.84" y="651.76" class="yl y2">1.0•10<tspan dy="-1" font-size="2.3">4</tspan></text>
<text x="413.84" y="658.53" class="yl y2">5.0•10<tspan dy="-1" font-size="2.3">3</tspan></text>
<text x="413.84" y="665.3" class="yl y2">0</text>
<text x="413.84" y="672.07" class="yl y2">-5.0•10<tspan dy="-1" font-size="2.3">3</tspan></text>
<text x="413.84" y="678.92" class="xl">0</text>
<text x="429.21" y="678.92" class="xl">10</text>
<text x="444.59" y="678.92" class="xl">20</text>
<text x="483.02" y="626.1" class="bt">165°</text>
<text x="459.96" y="631.45" class="yl y2">2.5•10<tspan dy="-1" font-size="2.3">4</tspan></text>
<text x="459.96" y="638.22" class="yl y2">2.0•10<tspan dy="-1" font-size="2.3">4</tspan></text>
<text x="459.96" y="644.99" class="yl y2">1.5•10<tspan dy="-1" font-size="2.3">4</tspan></text>
<text x="459.96" y="678.92" class="xl">0</text>
<text x="475.33" y="678.92" class="xl">10</text>
<text x="490.71" y="678.92" class="xl">20</text>
<text x="506.08" y="678.92" class="xl">30</text>
<rect x="340" y="689.3" width="14.13" height="14.5" fill="#0a0a0a" shape-rendering="crispEdges"/>
<rect x="353.83" y="689.3" width="14.13" height="14.5" fill="#0a0a0a" shape-rendering="crispEdges"/>
<rect x="367.66" y="689.3" width="14.13" height="14.5" fill="#3832f6" shape-rendering="crispEdges"/>
<rect x="381.49" y="689.3" width="14.13" height="14.5" fill="#1e3af8" shape-rendering="crispEdges"/>
<rect x="395.32" y="689.3" width="14.13" height="14.5" fill="#2442f8" shape-rendering="crispEdges"/>
<rect x="409.15" y="689.3" width="14.13" height="14.5" fill="#3d80f0" shape-rendering="crispEdges"/>
<rect x="422.98" y="689.3" width="14.13" height="14.5" fill="#66eef0" shape-rendering="crispEdges"/>
<rect x="436.81" y="689.3" width="14.13" height="14.5" fill="#78f5b4" shape-rendering="crispEdges"/>
<rect x="450.64" y="689.3" width="14.13" height="14.5" fill="#58f040" shape-rendering="crispEdges"/>
<rect x="464.47" y="689.3" width="14.13" height="14.5" fill="#58ee10" shape-rendering="crispEdges"/>
<rect x="478.3" y="689.3" width="14.13" height="14.5" fill="#58ee10" shape-rendering="crispEdges"/>
<rect x="492.13" y="689.3" width="14.13" height="14.5" fill="#68ee20" shape-rendering="crispEdges"/>
<rect x="505.96" y="689.3" width="14.13" height="14.5" fill="#a0f020" shape-rendering="crispEdges"/>
<rect x="519.79" y="689.3" width="14.13" height="14.5" fill="#f0fc28" shape-rendering="crispEdges"/>
<rect x="533.62" y="689.3" width="14.13" height="14.5" fill="#ff8810" shape-rendering="crispEdges"/>
<rect x="547.45" y="689.3" width="14.13" height="14.5" fill="#ff2810" shape-rendering="crispEdges"/>
<rect x="561.28" y="689.3" width="19.05" height="14.5" fill="#ffffff" shape-rendering="crispEdges"/>
<rect x="340" y="689.3" width="240" height="14.5" class="cbx"/>
<text x="384.4" y="711.6" class="cl">0</text>
<text x="417.07" y="711.6" class="cl">5.0•10<tspan dy="-1.9" font-size="3.8">3</tspan></text>
<text x="449.74" y="711.6" class="cl">1.0•10<tspan dy="-1.9" font-size="3.8">4</tspan></text>
<text x="482.41" y="711.6" class="cl">1.5•10<tspan dy="-1.9" font-size="3.8">4</tspan></text>
<text x="515.08" y="711.6" class="cl">2.0•10<tspan dy="-1.9" font-size="3.8">4</tspan></text>
<text x="547.75" y="711.6" class="cl">2.5•10<tspan dy="-1.9" font-size="3.8">4</tspan></text>
<text x="580.42" y="711.6" class="cl">3.0•10<tspan dy="-1.9" font-size="3.8">4</tspan></text>
<text x="469.5" y="718" class="cu">I[LU]</text>
<text x="436.9" y="451.22" class="xl">r [arcsec]</text>
<text transform="translate(399.64 420.06) rotate(-90)" class="xl">I[LU]</text>
<text x="456.2" y="382" class="ti">4981−4989A</text>
<text x="470.5" y="728.8" class="tg">(h)</text>
</g>
</svg>
</body></html>
